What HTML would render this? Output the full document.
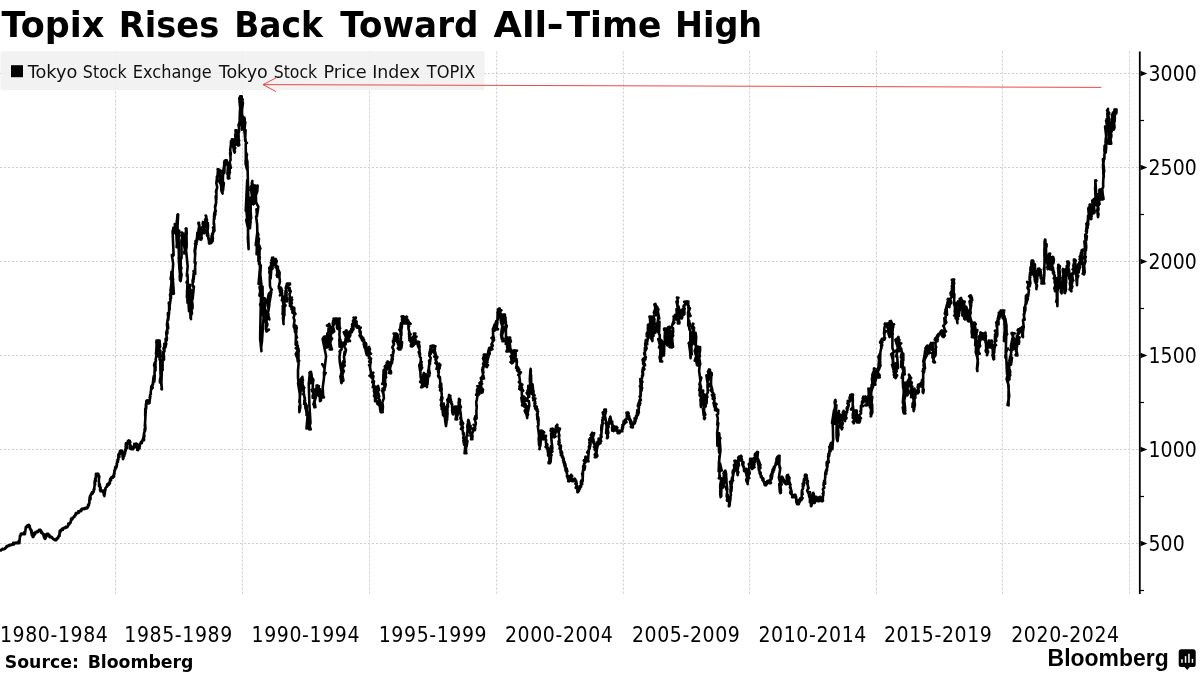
<!DOCTYPE html>
<html lang="en"><head><meta charset="utf-8"><title>Topix Rises Back Toward All-Time High</title>
<style>
html,body{margin:0;padding:0;background:#fff;}
body{width:1200px;height:675px;overflow:hidden;position:relative;font-family:"DejaVu Sans Condensed","DejaVu Sans","Liberation Sans",sans-serif;}
svg{position:absolute;left:0;top:0;display:block;}
.title{white-space:pre;font-family:"DejaVu Sans","Liberation Sans",sans-serif;font-weight:bold;font-size:35px;fill:#000;}
.legend{white-space:pre;font-family:"DejaVu Sans","Liberation Sans",sans-serif;font-size:16.8px;fill:#111;}
.ylab text{font-size:21px;fill:#000;}
.xlab text{font-size:21px;fill:#000;text-anchor:middle;letter-spacing:0.62px;}
.src{font-family:"DejaVu Sans","Liberation Sans",sans-serif;font-weight:bold;font-size:17.3px;fill:#000;word-spacing:2.8px;}
.logo{font-family:"Liberation Sans",sans-serif;font-weight:bold;font-size:23.6px;fill:#000;}
.grid line{stroke:#d0d0d0;stroke-width:1;stroke-dasharray:2.2 1.8;}
</style></head>
<body>
<svg width="1200" height="675" viewBox="0 0 1200 675">
<rect width="1200" height="675" fill="#fff"/>
<text class="title" y="36.5"><tspan x="1.50" textLength="115.09" lengthAdjust="spacingAndGlyphs">Topix </tspan><tspan x="118.81" textLength="112.12" lengthAdjust="spacingAndGlyphs">Rises </tspan><tspan x="234.28" textLength="100.03" lengthAdjust="spacingAndGlyphs">Back </tspan><tspan x="340.20" textLength="150.20" lengthAdjust="spacingAndGlyphs">Toward </tspan><tspan x="493.50" textLength="53.75" lengthAdjust="spacingAndGlyphs">All</tspan><tspan x="546.64" textLength="17.17" lengthAdjust="spacingAndGlyphs">-</tspan><tspan x="566.50" textLength="107.00" lengthAdjust="spacingAndGlyphs">Time </tspan><tspan x="675.04" textLength="87.13" lengthAdjust="spacingAndGlyphs">High</tspan></text>
<g class="grid"><line x1="115.5" y1="51.5" x2="115.5" y2="594" /><line x1="242.5" y1="51.5" x2="242.5" y2="594" /><line x1="369.5" y1="51.5" x2="369.5" y2="594" /><line x1="496.5" y1="51.5" x2="496.5" y2="594" /><line x1="623.5" y1="51.5" x2="623.5" y2="594" /><line x1="749.5" y1="51.5" x2="749.5" y2="594" /><line x1="876.5" y1="51.5" x2="876.5" y2="594" /><line x1="1002.5" y1="51.5" x2="1002.5" y2="594" /><line x1="1129.5" y1="51.5" x2="1129.5" y2="594" /><line x1="0" y1="73.5" x2="1139" y2="73.5" /><line x1="0" y1="167.5" x2="1139" y2="167.5" /><line x1="0" y1="261.5" x2="1139" y2="261.5" /><line x1="0" y1="355.5" x2="1139" y2="355.5" /><line x1="0" y1="449.5" x2="1139" y2="449.5" /><line x1="0" y1="543.5" x2="1139" y2="543.5" /></g>
<rect x="0.5" y="51.2" width="484" height="38.8" rx="1.5" fill="#f0f0f0" fill-opacity="0.86"/>
<rect x="11" y="65.2" width="12" height="12" fill="#000"/>
<text class="legend" y="77.5"><tspan x="27.70" textLength="55.29" lengthAdjust="spacingAndGlyphs">Tokyo </tspan><tspan x="82.86" textLength="48.90" lengthAdjust="spacingAndGlyphs">Stock </tspan><tspan x="132.77" textLength="84.14" lengthAdjust="spacingAndGlyphs">Exchange </tspan><tspan x="218.70" textLength="54.60" lengthAdjust="spacingAndGlyphs">Tokyo </tspan><tspan x="273.76" textLength="48.44" lengthAdjust="spacingAndGlyphs">Stock </tspan><tspan x="323.49" textLength="48.84" lengthAdjust="spacingAndGlyphs">Price </tspan><tspan x="372.23" textLength="53.35" lengthAdjust="spacingAndGlyphs">Index </tspan><tspan x="426.80" textLength="48.50" lengthAdjust="spacingAndGlyphs">TOPIX</tspan></text>
<path d="M0.00 550.40 L0.06 550.32 L0.34 550.22 L0.33 550.52 L0.18 550.35 L0.57 550.49 L0.48 550.07 L0.69 550.08 L0.84 550.00 L1.12 549.97 L0.92 550.51 L1.09 549.89 L1.14 550.14 L1.46 549.82 L1.46 549.79 L1.67 549.75 L1.59 549.72 L1.69 549.68 L1.89 549.65 L1.95 549.68 L2.08 548.94 L1.93 549.18 L2.37 549.00 L2.33 548.88 L2.15 549.48 L2.40 548.91 L2.74 549.04 L2.76 549.05 L2.87 549.54 L3.07 549.04 L2.74 549.47 L2.86 549.43 L3.03 549.40 L3.28 549.37 L3.42 549.33 L3.45 549.25 L3.49 549.26 L3.64 549.23 L3.78 549.08 L3.77 549.15 L4.00 549.00 L4.18 548.80 L4.24 549.12 L4.38 548.89 L4.47 548.81 L4.57 548.86 L4.54 548.95 L4.82 548.65 L5.04 548.59 L4.93 548.18 L4.94 548.11 L5.03 548.19 L5.13 548.73 L5.29 548.33 L5.53 547.79 L5.63 547.72 L5.37 547.94 L5.78 547.56 L5.94 547.49 L5.70 547.41 L5.98 547.45 L6.12 547.49 L6.34 547.41 L6.15 547.34 L6.42 547.23 L6.58 547.18 L6.68 546.36 L6.51 546.24 L6.99 546.95 L6.75 546.57 L6.88 546.79 L7.08 546.72 L7.19 546.64 L7.35 546.37 L7.55 546.18 L7.48 546.41 L7.62 546.33 L7.67 546.25 L7.56 545.81 L7.82 546.04 L8.00 545.90 L8.27 545.92 L8.39 546.02 L8.41 545.78 L8.14 545.66 L8.50 545.63 L8.52 545.75 L8.71 546.02 L8.77 546.02 L9.04 545.51 L9.13 545.48 L9.21 545.45 L9.00 545.42 L9.23 545.59 L9.20 545.36 L9.55 545.33 L9.52 545.30 L9.66 545.27 L9.84 545.24 L10.00 545.21 L10.18 544.68 L9.83 545.16 L10.16 545.36 L10.07 545.33 L10.28 545.30 L10.48 545.27 L10.48 545.24 L10.81 545.21 L10.67 545.10 L10.91 545.15 L11.35 544.62 L10.76 545.09 L11.42 545.06 L11.37 545.03 L11.44 545.00 L11.74 544.97 L11.64 544.58 L11.57 544.58 L11.64 544.88 L12.03 544.85 L12.00 544.70 L12.13 544.52 L12.19 544.47 L12.28 544.41 L12.48 544.63 L12.60 544.39 L12.52 544.24 L12.72 544.32 L12.78 544.33 L13.04 544.08 L13.06 543.96 L13.11 543.13 L13.06 543.60 L13.51 542.88 L13.30 542.88 L13.52 543.36 L13.60 544.07 L13.83 544.47 L13.78 543.92 L14.04 544.17 L13.97 544.46 L14.07 543.63 L14.16 543.57 L14.30 543.52 L14.45 543.46 L14.50 543.40 L14.63 543.35 L14.79 543.27 L14.80 542.94 L14.64 542.88 L15.00 543.00 L15.09 543.12 L15.44 542.88 L15.19 543.12 L15.50 542.88 L15.49 542.88 L15.36 542.88 L15.52 542.88 L15.88 543.05 L16.05 543.12 L15.86 542.88 L16.10 542.88 L16.04 542.88 L16.26 542.88 L16.49 542.88 L16.41 542.98 L16.47 542.88 L16.73 542.88 L16.77 542.88 L16.98 543.09 L16.98 542.88 L17.14 543.12 L17.15 542.88 L17.28 542.88 L17.47 542.88 L17.46 543.12 L17.75 543.04 L17.73 542.88 L17.84 543.12 L18.02 543.12 L18.00 543.00 L17.96 542.87 L18.23 542.28 L18.30 542.52 L18.29 542.47 L18.59 542.31 L18.82 542.03 L18.64 541.26 L18.89 541.17 L19.00 540.52 L18.90 542.22 L19.15 542.23 L19.12 543.12 L19.42 543.12 L19.14 541.83 L19.32 543.12 L19.77 539.05 L19.65 538.27 L19.80 537.43 L19.95 535.77 L19.87 536.39 L20.31 536.48 L20.14 536.52 L20.25 535.75 L20.48 535.92 L20.50 535.62 L20.53 535.32 L20.75 535.02 L20.81 534.72 L20.78 533.92 L21.00 534.00 L21.18 533.88 L21.30 534.12 L21.29 534.12 L21.46 533.88 L21.60 533.88 L21.84 533.92 L21.68 533.88 L21.92 534.10 L21.90 533.90 L22.12 534.06 L22.08 533.88 L22.01 533.88 L22.23 534.12 L22.24 533.88 L22.56 534.12 L22.53 534.12 L22.77 533.96 L22.84 533.88 L22.87 533.88 L22.98 533.93 L23.24 533.88 L23.31 533.99 L23.40 533.98 L23.39 534.06 L23.50 533.88 L23.45 534.12 L23.73 533.88 L23.76 534.10 L23.70 534.03 L24.00 534.00 L24.08 533.32 L24.24 532.71 L24.64 533.47 L24.42 532.71 L24.20 532.81 L24.69 533.33 L24.74 534.12 L25.04 534.12 L24.40 531.97 L25.13 532.05 L25.06 533.36 L25.11 531.36 L25.31 531.28 L25.47 530.45 L25.48 529.55 L25.67 528.37 L25.75 527.47 L25.85 526.88 L25.88 527.05 L26.00 527.00 L26.06 526.90 L26.29 526.87 L26.02 526.73 L26.57 526.82 L26.71 526.53 L26.82 526.63 L26.61 526.74 L26.82 526.37 L26.81 527.12 L26.86 526.48 L27.06 526.61 L27.30 526.09 L27.23 525.55 L27.41 525.85 L27.71 525.65 L27.77 525.66 L28.03 525.33 L27.79 525.96 L27.99 526.65 L28.01 525.70 L27.97 525.61 L28.17 525.17 L28.21 525.51 L28.39 525.12 L28.60 525.10 L28.50 525.30 L28.95 524.78 L28.87 524.96 L28.90 524.99 L29.00 524.90 L28.84 524.90 L29.27 525.21 L29.27 526.02 L29.50 526.29 L29.74 526.02 L29.44 526.59 L29.83 526.34 L29.79 527.10 L29.82 528.08 L29.96 528.84 L30.19 528.19 L30.26 528.27 L30.41 528.51 L30.51 528.58 L30.56 529.49 L30.53 529.76 L30.81 529.73 L30.74 530.09 L30.81 530.12 L31.00 530.00 L31.22 531.05 L31.12 531.28 L31.32 531.73 L31.57 530.17 L31.62 531.54 L31.27 532.73 L31.81 532.78 L31.82 533.01 L31.76 535.01 L32.13 534.03 L31.99 534.14 L32.22 534.30 L32.46 533.67 L32.43 534.74 L32.48 535.80 L32.55 536.71 L32.75 535.58 L32.84 535.84 L32.79 536.06 L33.00 537.10 L33.18 536.81 L33.07 536.72 L33.33 536.80 L33.42 536.30 L33.52 536.13 L33.70 535.96 L33.78 535.89 L33.76 535.62 L33.67 535.45 L33.86 534.63 L34.08 534.80 L34.17 535.40 L34.67 534.61 L34.47 532.52 L34.19 532.87 L34.60 533.80 L34.63 533.48 L34.48 533.41 L35.01 533.56 L35.09 532.84 L35.37 533.65 L35.31 532.42 L35.41 533.31 L35.52 532.76 L35.37 532.14 L35.51 532.80 L35.60 532.63 L35.66 532.46 L35.93 532.16 L36.00 532.00 L36.01 532.09 L36.04 531.77 L36.31 531.72 L36.30 531.76 L36.48 531.62 L36.58 531.79 L36.70 531.83 L36.83 531.82 L36.85 531.66 L37.20 531.36 L37.17 531.84 L37.36 532.12 L37.36 531.28 L37.29 531.74 L37.39 531.27 L37.60 531.55 L37.74 532.12 L38.01 531.73 L37.91 531.94 L38.06 531.71 L38.09 531.02 L38.16 530.97 L38.38 530.91 L38.65 530.82 L38.35 530.81 L38.61 530.57 L38.74 530.70 L38.71 530.65 L38.80 530.06 L39.04 529.89 L39.29 529.83 L39.22 530.06 L39.40 530.09 L39.40 529.78 L39.42 530.16 L39.46 530.23 L39.39 529.78 L39.72 529.88 L39.98 529.78 L40.00 529.90 L40.28 529.95 L40.22 530.29 L40.49 530.43 L40.44 530.53 L40.33 530.42 L40.76 530.16 L40.88 530.53 L41.04 530.69 L40.74 531.25 L41.03 532.31 L40.89 532.48 L41.12 530.97 L41.34 531.27 L41.34 531.28 L41.51 532.51 L41.52 532.57 L41.66 532.98 L41.94 532.86 L41.99 532.74 L41.91 532.95 L42.06 532.79 L42.29 532.79 L41.94 533.12 L42.17 533.43 L42.64 533.61 L42.58 533.83 L42.79 533.80 L42.94 533.61 L43.01 534.12 L43.00 534.00 L43.01 533.88 L43.25 533.99 L43.28 534.07 L43.53 534.71 L43.70 534.01 L43.37 535.22 L43.50 535.06 L43.95 535.30 L43.70 536.39 L44.03 537.35 L44.21 536.43 L44.24 536.80 L44.04 537.49 L44.40 538.04 L44.49 538.29 L44.82 538.36 L44.91 538.73 L45.05 538.79 L44.75 538.59 L45.00 538.70 L45.16 538.79 L45.01 538.50 L45.16 538.29 L45.51 537.84 L45.62 537.70 L45.39 538.56 L45.75 537.63 L45.83 536.73 L45.73 536.33 L45.92 535.44 L46.18 536.95 L46.13 536.30 L46.37 535.82 L46.25 535.25 L46.69 534.20 L46.22 534.26 L46.74 535.17 L46.96 535.88 L47.01 535.28 L46.80 533.87 L46.96 534.70 L47.25 534.48 L47.44 533.99 L47.37 534.39 L47.63 534.13 L47.60 533.90 L47.80 533.78 L47.83 534.20 L47.84 534.29 L47.93 534.38 L48.26 534.48 L48.03 534.37 L48.63 534.66 L48.50 534.75 L48.52 534.16 L48.66 534.39 L48.62 534.53 L48.72 534.61 L48.90 535.21 L48.95 534.91 L49.18 535.12 L49.44 535.02 L49.39 535.43 L49.56 535.64 L49.48 536.61 L49.54 537.12 L49.74 536.56 L49.76 536.86 L49.77 536.84 L49.82 537.12 L49.86 536.06 L50.27 536.15 L50.26 536.29 L50.30 536.60 L50.57 536.47 L50.53 536.54 L50.71 536.61 L51.05 536.70 L50.93 536.79 L51.00 537.00 L51.20 536.88 L51.08 536.99 L51.33 537.35 L51.22 536.88 L51.49 537.14 L51.56 537.51 L51.92 537.09 L51.58 537.60 L52.04 537.51 L52.05 537.50 L51.98 537.48 L51.84 537.34 L52.11 537.26 L52.35 537.83 L52.33 537.85 L52.73 538.36 L52.73 538.44 L52.96 538.51 L52.70 538.19 L52.86 538.93 L52.93 538.51 L53.13 538.59 L53.24 538.66 L53.45 538.74 L53.39 538.82 L53.51 538.89 L53.83 538.97 L53.61 539.13 L53.96 539.13 L54.06 539.21 L54.03 539.28 L53.94 539.39 L54.28 539.59 L54.34 539.51 L54.52 539.59 L54.85 539.83 L54.84 540.22 L54.78 540.10 L54.82 540.02 L55.00 540.10 L54.85 540.01 L55.06 539.95 L55.37 539.77 L55.40 540.22 L55.52 540.11 L55.52 539.57 L55.92 540.16 L55.68 539.69 L55.97 539.39 L55.87 540.22 L56.00 540.14 L56.42 539.80 L56.25 538.90 L56.33 540.22 L56.66 538.82 L56.51 539.63 L56.82 538.69 L56.57 538.93 L56.80 538.22 L56.84 538.55 L56.85 538.75 L57.30 538.68 L57.25 538.22 L57.28 538.14 L57.55 538.07 L57.67 537.88 L57.66 538.33 L57.71 537.88 L58.12 538.01 L58.00 538.00 L58.22 538.08 L57.95 537.35 L58.19 537.22 L58.43 536.81 L58.69 536.59 L58.47 536.28 L58.73 536.03 L58.95 536.07 L58.82 536.15 L58.97 535.37 L59.19 536.01 L59.10 535.43 L59.15 534.89 L59.56 536.03 L59.54 532.90 L59.64 533.32 L59.60 532.69 L59.84 530.78 L59.82 530.68 L59.99 533.56 L59.84 532.52 L60.12 532.12 L60.21 531.99 L60.40 531.72 L60.34 531.45 L60.65 531.19 L60.40 530.20 L60.81 530.59 L60.80 530.01 L61.00 530.00 L61.17 529.95 L61.12 529.81 L61.37 529.67 L61.38 529.60 L61.57 530.06 L61.78 530.12 L61.81 529.39 L61.90 529.90 L61.94 529.25 L61.95 528.97 L62.15 529.06 L62.37 528.57 L62.44 529.51 L62.46 529.71 L62.64 529.17 L62.88 529.11 L62.80 529.87 L62.69 528.79 L62.99 528.86 L63.31 528.63 L63.16 528.46 L63.18 528.28 L63.30 528.21 L63.41 527.99 L63.36 528.37 L63.68 528.30 L63.67 527.95 L63.78 528.16 L63.93 528.06 L64.00 527.90 L64.19 527.76 L64.26 527.73 L64.35 527.70 L64.39 527.67 L64.39 527.65 L64.58 527.62 L64.62 527.96 L64.90 527.60 L64.96 527.90 L65.16 528.02 L65.15 527.39 L65.31 528.02 L65.49 527.16 L65.65 527.38 L65.46 527.68 L65.57 527.03 L65.68 527.34 L65.80 527.37 L65.91 527.85 L66.18 527.38 L66.03 527.16 L66.34 527.25 L66.32 527.29 L66.39 527.01 L66.54 527.00 L66.70 526.98 L66.62 527.12 L66.70 526.98 L66.77 527.25 L67.00 527.10 L66.98 527.05 L66.86 527.13 L67.03 527.08 L67.55 526.43 L67.42 527.22 L67.52 526.82 L67.69 526.08 L67.87 525.91 L67.86 526.18 L68.10 526.09 L68.08 524.87 L68.15 524.41 L68.22 523.63 L68.25 523.92 L68.47 524.38 L68.74 524.35 L68.65 525.00 L68.72 524.80 L68.95 524.43 L68.98 524.36 L69.19 524.35 L69.03 524.02 L69.50 524.08 L69.29 523.68 L69.59 523.34 L69.47 523.67 L69.71 523.53 L69.66 523.17 L70.28 522.96 L70.00 523.00 L70.14 522.97 L70.32 522.61 L70.38 522.38 L70.61 522.73 L70.60 522.46 L70.40 522.27 L70.55 521.71 L70.81 521.54 L70.69 521.38 L71.01 520.59 L70.91 520.66 L71.07 518.79 L71.01 519.01 L71.25 518.53 L71.38 519.29 L71.50 519.01 L71.43 519.62 L71.85 518.75 L72.05 519.73 L72.11 519.12 L71.88 519.52 L71.93 519.28 L72.30 519.29 L72.61 518.78 L72.38 517.87 L72.55 518.31 L72.84 517.95 L72.73 518.46 L72.98 518.19 L73.00 518.00 L72.97 517.75 L73.02 517.67 L73.30 517.94 L73.46 517.37 L73.46 517.88 L73.77 517.12 L73.31 517.23 L73.86 516.87 L73.89 516.75 L73.87 517.09 L74.46 516.50 L73.99 516.37 L74.50 516.38 L74.50 516.69 L74.42 516.00 L74.58 515.87 L74.60 515.75 L74.86 515.62 L74.83 515.61 L74.72 515.95 L74.93 514.99 L75.22 515.35 L75.17 514.76 L75.65 515.13 L75.43 515.01 L75.89 514.81 L75.52 514.17 L75.80 514.39 L75.78 514.51 L76.05 514.38 L75.88 513.12 L76.21 513.22 L76.20 513.52 L76.15 513.88 L76.59 513.45 L76.72 513.49 L76.67 513.12 L76.76 513.04 L77.09 513.26 L77.00 513.00 L77.21 513.01 L77.13 512.94 L77.49 512.97 L77.44 512.87 L77.60 512.53 L77.46 512.47 L77.95 512.40 L77.70 513.13 L77.92 512.48 L78.16 512.31 L78.18 511.95 L78.25 511.74 L78.28 511.36 L78.24 512.23 L78.45 511.89 L78.73 511.98 L78.90 512.35 L78.69 512.93 L78.95 512.67 L79.17 512.45 L79.25 511.73 L79.41 511.67 L79.39 511.60 L79.33 511.53 L79.61 511.05 L79.68 511.08 L79.63 511.00 L79.78 511.27 L79.91 511.11 L80.00 511.00 L80.23 510.86 L80.14 511.03 L80.14 511.05 L80.20 510.59 L80.51 510.75 L80.59 510.45 L80.54 511.02 L81.00 510.86 L81.22 511.08 L80.95 510.81 L80.82 510.32 L81.35 510.33 L81.20 510.41 L81.29 509.28 L81.58 509.97 L81.67 509.28 L81.65 509.18 L81.79 508.76 L81.86 510.15 L82.13 509.27 L82.15 509.32 L82.14 509.56 L82.41 509.08 L82.53 508.88 L82.79 508.76 L82.46 509.32 L82.63 508.76 L82.67 509.18 L82.62 509.06 L83.00 508.90 L83.18 508.81 L83.28 509.04 L83.32 508.94 L83.34 509.04 L83.51 509.02 L83.80 509.04 L83.68 509.04 L83.71 509.04 L83.89 509.04 L83.76 509.00 L84.01 508.62 L84.45 508.89 L84.19 508.89 L84.59 509.04 L84.73 508.61 L84.56 508.44 L84.58 508.80 L84.61 508.72 L84.94 508.77 L85.10 508.16 L84.90 508.62 L85.27 507.96 L85.27 508.08 L85.03 508.02 L85.52 508.52 L85.60 508.36 L85.45 508.50 L85.75 508.00 L85.89 508.25 L85.86 508.44 L86.05 508.22 L86.07 508.39 L86.36 508.10 L86.72 508.35 L86.20 508.34 L86.62 508.11 L86.52 507.96 L86.96 508.28 L86.80 507.96 L87.00 508.10 L87.12 508.24 L87.40 507.35 L87.45 507.50 L87.25 507.20 L87.57 506.79 L87.84 506.84 L87.77 507.63 L87.60 506.66 L88.11 506.55 L87.94 507.07 L88.13 506.14 L87.96 504.99 L88.22 504.51 L88.64 505.50 L88.56 505.69 L88.61 505.88 L88.65 505.13 L89.02 505.05 L89.03 504.47 L89.00 504.00 L88.94 503.43 L89.51 502.91 L89.55 502.08 L89.26 500.98 L89.62 498.68 L89.59 497.61 L89.65 498.07 L90.11 495.90 L89.78 498.47 L90.12 499.19 L90.12 496.97 L90.29 499.06 L90.57 499.29 L90.56 497.96 L90.19 495.84 L90.54 495.86 L90.70 495.14 L90.94 495.18 L90.73 495.37 L91.00 494.00 L90.96 494.15 L91.33 493.69 L91.64 494.13 L91.48 493.77 L91.54 493.46 L91.82 493.85 L91.73 493.52 L91.89 492.60 L91.78 492.45 L91.98 493.05 L92.02 492.39 L91.93 493.27 L92.09 493.29 L92.31 492.03 L92.17 492.95 L92.50 493.09 L92.50 493.69 L92.63 492.83 L92.96 493.04 L92.82 492.39 L93.23 491.90 L93.57 491.90 L93.36 491.57 L93.43 491.43 L93.65 491.80 L93.60 492.00 L93.64 490.89 L93.90 490.63 L93.63 489.61 L93.66 489.37 L94.19 489.81 L94.20 489.32 L94.43 489.06 L94.30 487.60 L94.25 487.68 L94.55 486.26 L94.65 481.19 L94.74 482.89 L95.14 484.44 L95.00 484.00 L95.03 483.06 L95.07 481.54 L95.12 478.89 L95.69 480.94 L95.72 480.77 L95.57 478.96 L95.58 479.08 L95.55 478.46 L95.98 476.26 L96.01 476.59 L95.90 475.56 L95.92 473.83 L96.19 473.83 L96.40 474.00 L96.16 473.83 L96.68 473.83 L96.75 473.83 L96.82 473.83 L96.95 473.83 L97.15 473.83 L97.02 473.83 L97.41 473.88 L97.26 473.83 L97.48 475.01 L97.03 475.43 L97.63 475.31 L97.67 474.38 L97.87 473.83 L98.30 473.83 L98.27 474.60 L98.34 473.98 L97.81 475.48 L98.20 475.84 L98.40 474.00 L98.72 476.54 L98.62 477.90 L99.33 476.24 L99.02 478.57 L98.78 481.50 L98.96 481.85 L99.14 483.58 L99.01 485.88 L99.09 483.31 L99.40 484.00 L99.78 486.68 L100.05 487.92 L99.74 484.18 L100.26 489.23 L100.18 489.01 L99.96 489.65 L100.49 487.93 L100.25 486.79 L100.66 487.98 L100.25 488.08 L100.54 488.62 L100.45 491.26 L100.85 491.26 L100.92 491.26 L101.14 491.26 L101.00 491.10 L101.27 491.26 L101.30 491.26 L101.10 491.26 L101.39 491.26 L101.55 491.26 L101.58 491.26 L101.47 490.96 L101.62 490.74 L101.71 490.74 L101.60 490.74 L102.21 490.74 L102.22 490.84 L102.06 490.74 L102.30 491.03 L102.58 491.07 L102.65 491.04 L102.55 491.12 L102.61 490.74 L102.90 492.20 L103.00 490.90 L102.78 490.74 L103.19 492.48 L103.13 491.60 L103.33 491.09 L103.34 490.91 L103.56 492.26 L103.75 494.39 L103.82 493.60 L103.80 495.06 L104.05 493.64 L104.40 494.11 L104.38 493.76 L104.26 493.93 L104.40 496.10 L104.42 494.63 L104.74 494.44 L104.49 494.30 L104.31 493.08 L104.71 494.60 L105.01 491.62 L104.94 490.24 L105.08 489.23 L105.32 489.67 L105.51 489.93 L105.35 488.81 L105.60 488.00 L105.63 488.17 L105.86 487.61 L105.65 488.01 L105.83 487.66 L105.95 487.64 L106.27 487.13 L106.47 487.02 L106.70 486.90 L106.69 486.78 L106.61 486.74 L106.67 486.55 L107.03 486.43 L106.95 486.31 L106.62 486.60 L107.18 486.48 L107.06 485.29 L107.33 484.39 L107.44 484.00 L107.59 483.84 L107.66 485.51 L107.47 485.45 L107.75 485.57 L107.99 485.46 L108.33 485.00 L108.03 484.92 L108.73 484.98 L108.44 484.58 L108.54 484.78 L108.49 483.88 L108.81 484.51 L108.59 484.31 L108.63 484.24 L108.95 483.84 L109.00 484.00 L108.98 483.21 L109.36 483.15 L109.26 482.87 L109.35 482.21 L109.79 483.33 L109.17 482.81 L109.83 482.54 L109.76 483.64 L109.84 482.55 L110.22 481.20 L109.89 480.52 L110.16 479.02 L110.21 480.16 L110.47 480.09 L110.03 480.17 L110.58 478.88 L110.60 479.73 L111.16 480.05 L111.04 478.98 L111.00 477.90 L111.06 477.68 L111.26 477.80 L110.81 478.07 L111.21 477.79 L111.73 478.04 L111.57 478.07 L111.62 477.56 L112.35 477.50 L111.82 477.56 L112.00 477.47 L112.06 476.96 L112.01 476.93 L112.35 476.93 L112.48 477.42 L112.48 476.93 L112.35 476.93 L112.65 476.98 L112.81 477.36 L113.20 477.55 L113.00 477.10 L113.07 476.87 L113.02 475.51 L113.35 475.49 L113.58 476.12 L113.66 476.02 L113.83 475.19 L114.04 476.59 L113.85 476.48 L113.83 476.28 L114.17 473.89 L114.32 474.47 L114.27 472.57 L114.40 473.31 L113.97 473.60 L114.55 473.17 L114.32 470.34 L115.04 469.98 L115.00 470.54 L114.88 469.87 L115.00 470.00 L115.03 469.30 L115.18 467.97 L115.58 467.93 L115.16 467.97 L115.32 467.01 L115.63 466.79 L115.62 467.37 L115.81 466.51 L115.79 467.84 L116.05 467.16 L116.60 466.61 L115.95 468.29 L115.84 467.51 L116.49 465.79 L116.19 467.21 L116.53 467.16 L116.63 466.52 L117.04 464.55 L116.70 463.64 L117.00 463.00 L116.98 462.41 L117.32 462.01 L117.24 462.15 L117.76 461.30 L117.90 460.84 L117.45 460.79 L117.72 459.99 L117.51 459.58 L117.59 459.96 L117.92 462.03 L117.74 460.91 L118.41 459.61 L118.31 456.53 L118.49 456.89 L118.34 454.65 L118.33 454.88 L118.57 456.95 L118.72 457.76 L118.54 454.60 L119.42 456.85 L119.26 454.72 L119.27 454.32 L119.01 453.92 L119.65 453.52 L119.49 453.11 L119.59 452.51 L120.16 452.31 L119.80 451.72 L120.06 451.50 L120.00 450.90 L120.45 450.70 L120.47 450.70 L120.49 450.70 L120.26 451.20 L120.46 450.70 L120.21 450.75 L120.84 451.20 L120.46 450.74 L120.68 451.20 L120.94 452.02 L120.96 453.31 L121.14 453.40 L121.54 451.56 L121.41 450.94 L121.43 450.70 L121.72 451.77 L122.10 450.70 L121.78 450.70 L121.70 450.70 L122.00 451.00 L122.31 451.68 L122.19 452.34 L122.37 452.65 L122.97 453.77 L122.68 453.92 L122.50 455.58 L122.81 457.84 L122.97 457.61 L123.37 458.38 L123.00 459.10 L122.81 457.84 L123.21 458.07 L123.18 456.05 L123.08 456.22 L123.47 457.77 L123.61 456.77 L123.44 456.61 L123.78 455.26 L124.02 455.94 L123.65 454.56 L124.22 456.29 L123.97 452.80 L124.08 452.64 L124.28 454.02 L124.30 454.78 L124.33 455.48 L124.27 453.18 L125.01 453.73 L124.89 451.99 L125.00 452.00 L125.26 451.43 L125.30 451.98 L125.56 450.72 L125.77 450.32 L125.09 449.95 L125.83 449.58 L125.41 449.21 L125.47 448.84 L126.05 448.47 L125.71 446.88 L125.89 443.35 L126.31 443.76 L126.31 444.08 L126.64 445.17 L126.35 444.84 L126.73 448.49 L126.54 447.66 L126.89 446.53 L127.35 448.19 L127.42 446.77 L127.15 444.44 L126.95 444.07 L127.18 442.82 L127.47 442.37 L127.49 442.96 L127.69 442.59 L127.72 441.98 L127.74 441.72 L128.02 440.93 L128.00 440.90 L128.45 441.07 L128.31 440.69 L128.47 441.11 L128.77 440.69 L128.34 441.21 L128.74 440.69 L128.74 441.21 L128.78 440.69 L129.17 441.21 L129.14 442.33 L129.51 441.46 L129.29 441.59 L129.65 442.43 L129.77 440.69 L129.57 440.69 L129.60 441.00 L129.59 440.69 L130.32 442.26 L129.34 442.51 L129.97 444.43 L129.68 444.03 L130.27 444.50 L130.32 446.52 L130.33 446.97 L130.31 448.16 L130.25 448.80 L130.73 446.49 L130.99 448.32 L131.09 448.73 L131.00 449.10 L131.18 448.68 L131.12 448.13 L131.22 448.76 L131.23 448.12 L131.84 447.06 L131.92 446.54 L131.65 448.77 L131.83 449.30 L131.51 449.30 L132.09 448.09 L132.04 449.30 L132.23 448.81 L132.62 449.30 L132.55 449.30 L132.53 449.30 L132.94 448.83 L133.07 449.08 L133.10 449.30 L132.59 449.30 L132.62 449.30 L133.10 448.17 L133.26 447.80 L133.25 447.88 L133.40 448.23 L133.15 448.38 L133.51 447.87 L133.75 447.46 L133.74 448.15 L133.46 448.09 L134.00 448.00 L134.24 447.53 L133.71 447.30 L134.27 446.36 L134.29 446.64 L134.47 445.01 L134.30 445.10 L134.29 443.70 L134.79 444.81 L134.50 444.65 L135.23 444.07 L135.23 444.74 L135.08 445.49 L135.44 445.60 L135.76 445.29 L134.87 445.22 L135.60 443.90 L135.94 444.06 L136.20 444.81 L136.25 443.70 L136.08 443.78 L136.37 444.89 L136.01 444.92 L136.27 446.10 L135.87 444.72 L136.78 444.15 L136.74 443.71 L137.19 445.90 L136.65 447.57 L137.12 445.38 L136.99 445.17 L137.28 445.57 L137.25 448.16 L137.23 449.80 L137.11 448.43 L137.58 449.05 L137.60 450.10 L137.79 449.65 L138.13 450.01 L138.27 449.21 L137.92 449.40 L137.87 449.46 L138.39 448.95 L138.25 448.50 L138.65 448.17 L138.34 446.61 L138.71 447.44 L138.44 446.55 L138.86 446.18 L138.88 447.15 L139.01 445.26 L139.14 447.00 L138.96 448.35 L139.61 448.34 L139.29 447.34 L139.92 446.13 L139.62 445.88 L139.85 444.81 L139.64 444.65 L139.85 444.19 L140.00 444.00 L140.15 443.66 L139.86 443.53 L140.36 443.52 L140.43 443.26 L140.56 443.43 L140.86 443.37 L140.77 443.02 L141.20 442.73 L140.81 442.59 L141.01 442.04 L140.98 442.87 L141.43 443.16 L141.21 442.29 L141.50 441.68 L141.59 442.47 L141.61 443.10 L141.47 442.41 L141.78 443.20 L142.17 441.72 L142.26 440.25 L141.97 441.41 L142.32 441.10 L142.60 441.14 L142.41 440.87 L142.55 440.88 L142.10 440.74 L142.91 439.54 L142.83 440.48 L142.86 439.98 L143.00 440.00 L142.98 438.84 L143.47 438.53 L143.92 438.48 L143.20 437.78 L143.53 438.76 L143.99 440.21 L144.02 440.16 L143.94 433.26 L144.40 436.49 L143.62 436.16 L144.04 434.57 L143.93 434.25 L144.63 431.15 L144.64 428.74 L144.50 432.00 L145.27 430.23 L144.74 431.11 L145.44 428.40 L145.09 423.42 L144.76 426.49 L145.27 420.21 L145.43 415.23 L145.25 408.85 L145.20 416.04 L145.25 413.05 L145.60 412.00 L145.62 411.78 L145.51 416.31 L145.33 409.91 L145.75 412.72 L145.92 403.96 L146.24 408.30 L146.23 407.74 L146.40 400.90 L146.34 402.58 L146.31 400.98 L146.87 400.65 L146.97 401.07 L147.09 400.65 L147.40 403.01 L147.50 401.24 L147.14 401.12 L147.13 401.10 L147.46 400.65 L147.14 400.65 L147.78 400.65 L147.92 401.50 L148.16 401.47 L147.79 400.94 L147.96 402.44 L148.11 401.79 L148.42 403.35 L148.78 402.56 L148.94 402.82 L148.47 403.35 L148.46 403.35 L148.73 403.17 L148.87 403.35 L148.57 402.81 L149.00 403.10 L148.82 403.35 L149.56 402.84 L149.36 402.06 L149.35 400.34 L148.96 400.07 L149.78 400.92 L149.18 401.38 L149.59 400.24 L150.06 398.69 L150.00 398.00 L149.92 397.21 L149.70 397.33 L150.40 396.92 L150.08 396.10 L150.04 395.08 L150.47 394.54 L150.90 394.01 L150.63 393.47 L150.63 392.94 L151.46 386.66 L151.16 389.25 L151.85 388.14 L151.35 386.37 L151.07 389.78 L151.08 388.67 L151.91 388.50 L151.73 388.88 L151.63 387.59 L151.31 389.45 L152.74 387.59 L152.00 385.68 L152.18 384.93 L152.22 386.00 L152.20 385.47 L152.73 384.94 L152.88 383.33 L153.17 383.87 L152.82 383.34 L152.98 382.75 L153.00 382.00 L152.93 381.90 L152.93 382.27 L153.47 381.32 L153.37 380.54 L153.05 381.89 L153.37 378.44 L153.82 375.93 L154.11 376.28 L154.31 381.62 L153.99 378.88 L154.09 379.96 L154.48 378.68 L154.50 380.21 L154.71 375.79 L154.54 373.64 L154.96 362.20 L154.06 365.15 L154.52 366.70 L155.04 370.06 L154.49 372.91 L154.66 370.98 L155.61 370.44 L154.64 364.46 L155.18 366.21 L155.32 366.58 L155.60 368.00 L155.37 362.37 L155.96 361.18 L155.64 359.69 L156.80 353.27 L155.96 353.81 L156.37 350.00 L156.68 341.53 L156.35 342.39 L156.20 342.47 L156.60 342.00 L156.41 341.56 L157.15 340.59 L157.47 340.59 L157.57 340.59 L157.92 340.59 L156.50 340.59 L157.24 340.59 L157.25 340.59 L157.81 340.59 L158.28 340.59 L157.82 344.00 L157.64 340.58 L157.79 340.58 L158.00 340.90 L158.77 341.60 L159.14 342.93 L158.46 340.59 L158.50 340.77 L159.07 346.58 L158.01 351.20 L159.48 353.18 L158.87 355.95 L158.63 356.56 L159.00 357.10 L159.78 353.25 L158.36 353.92 L158.73 354.83 L159.16 340.60 L158.88 340.60 L159.58 340.60 L159.97 345.45 L160.23 346.27 L159.14 348.30 L160.00 350.90 L160.07 353.94 L160.37 350.86 L159.59 359.62 L160.28 359.83 L160.44 372.40 L160.74 377.40 L160.09 378.73 L159.86 382.46 L161.51 369.45 L161.22 375.07 L160.86 381.45 L161.43 385.70 L161.74 387.67 L161.40 389.10 L161.90 389.37 L161.34 381.34 L161.58 380.15 L161.48 380.26 L162.12 366.45 L161.85 365.33 L162.71 369.86 L162.56 369.72 L162.72 369.72 L162.40 370.00 L162.65 365.77 L162.50 360.98 L163.03 353.28 L162.25 357.41 L163.79 354.56 L163.09 351.90 L162.63 356.91 L162.69 360.83 L164.01 359.54 L163.97 356.36 L163.55 354.17 L163.67 352.32 L163.99 349.63 L163.48 348.23 L164.56 347.70 L164.27 351.51 L164.37 351.53 L164.50 350.73 L163.64 349.36 L164.40 348.00 L164.23 346.24 L164.37 348.31 L163.94 348.31 L165.25 347.60 L164.29 343.81 L165.06 345.62 L164.57 345.09 L165.42 345.78 L164.39 345.65 L165.04 344.74 L165.78 343.54 L165.53 346.95 L165.90 345.09 L166.25 343.65 L165.81 342.61 L165.57 338.79 L165.70 338.66 L167.01 338.46 L166.01 338.72 L166.40 340.00 L166.93 337.74 L166.71 340.32 L166.73 337.67 L166.18 332.77 L167.49 328.28 L166.72 334.80 L167.34 331.34 L167.39 333.53 L167.26 328.17 L167.35 325.65 L168.22 328.38 L167.77 323.54 L167.37 323.36 L166.89 325.27 L167.64 319.59 L168.00 320.00 L167.89 318.90 L168.55 318.13 L167.94 314.36 L168.85 312.35 L168.19 315.73 L167.91 312.99 L168.15 320.34 L169.07 312.82 L169.14 305.19 L168.78 302.60 L168.85 303.96 L169.76 304.64 L169.06 305.45 L169.40 304.03 L169.61 308.76 L169.60 306.00 L169.63 309.82 L169.66 305.87 L170.76 298.49 L170.10 299.07 L170.60 297.58 L170.67 296.47 L169.96 294.84 L170.93 296.32 L170.50 296.00 L170.21 296.22 L170.31 293.49 L171.04 298.09 L170.57 289.93 L172.11 278.55 L171.75 277.14 L171.34 272.05 L171.41 276.94 L170.60 279.02 L171.34 275.04 L173.15 279.32 L172.25 275.52 L171.35 280.37 L171.97 277.95 L172.00 276.00 L171.59 277.70 L171.34 284.99 L171.79 294.14 L171.93 293.99 L173.86 293.64 L172.66 276.40 L172.59 271.60 L173.18 263.93 L171.86 255.01 L173.00 256.00 L173.07 254.14 L173.62 255.19 L173.27 247.21 L172.61 231.66 L173.53 227.57 L173.60 228.00 L174.39 233.03 L173.36 232.49 L173.79 230.75 L174.68 228.49 L174.58 227.46 L173.76 227.46 L173.88 230.58 L174.25 232.64 L173.93 229.41 L174.59 227.46 L174.92 227.54 L175.09 227.46 L174.64 227.46 L175.16 227.46 L175.25 227.46 L175.35 227.46 L175.57 227.46 L175.43 225.11 L174.73 224.07 L175.60 227.90 L175.41 227.87 L176.16 229.46 L176.26 234.36 L174.91 232.45 L176.37 234.18 L176.81 236.68 L176.42 235.30 L176.79 241.61 L177.04 242.26 L176.60 247.10 L176.89 243.90 L176.52 238.25 L176.47 234.98 L177.03 230.00 L177.56 226.52 L176.63 223.46 L177.61 214.45 L177.40 214.90 L177.94 214.46 L178.16 214.46 L177.63 223.76 L177.48 233.37 L177.40 236.01 L178.00 240.00 L177.74 241.85 L177.94 239.70 L177.60 241.15 L179.15 230.44 L178.27 238.88 L177.85 238.82 L179.38 235.50 L178.55 234.60 L178.92 261.01 L179.51 270.11 L180.01 259.67 L178.61 257.87 L179.30 263.27 L179.40 260.00 L179.49 266.08 L180.03 271.50 L179.57 269.81 L179.99 275.06 L179.95 280.09 L179.71 275.86 L180.62 272.98 L180.05 271.38 L180.23 271.86 L180.52 273.54 L181.64 274.42 L180.60 281.10 L181.19 273.10 L180.00 267.12 L181.43 268.55 L180.47 264.49 L180.76 270.89 L180.78 270.35 L180.72 257.76 L181.32 258.17 L181.36 258.62 L181.60 256.00 L181.36 241.05 L182.03 237.39 L181.94 232.49 L181.75 232.48 L181.28 232.48 L181.67 232.48 L182.57 235.17 L182.40 232.90 L182.14 239.13 L182.31 242.43 L182.27 239.43 L182.38 244.53 L182.71 241.63 L182.95 243.59 L183.64 240.21 L183.00 238.58 L183.38 236.98 L183.67 233.68 L183.33 238.72 L183.60 236.00 L183.81 236.75 L183.38 238.73 L184.11 238.65 L183.38 241.22 L184.95 250.32 L184.22 251.95 L184.38 253.51 L184.40 253.10 L185.27 250.98 L185.01 243.69 L185.32 244.44 L184.33 240.86 L184.68 241.51 L183.54 242.98 L185.40 249.32 L185.38 246.52 L185.69 245.11 L185.22 240.27 L185.47 237.30 L185.60 240.00 L186.49 228.48 L185.49 234.31 L185.43 236.65 L186.51 235.43 L186.63 232.37 L185.70 228.47 L186.79 234.82 L186.40 228.90 L186.69 246.61 L186.07 250.13 L187.67 266.14 L186.80 276.00 L187.53 274.42 L187.84 283.80 L186.50 282.46 L187.58 280.22 L186.88 297.21 L187.13 294.96 L187.47 294.57 L187.60 300.00 L187.78 296.55 L187.49 302.65 L187.23 293.11 L186.99 290.88 L187.71 299.55 L189.25 296.25 L188.08 295.27 L189.81 297.20 L188.13 299.70 L188.87 303.99 L188.80 304.45 L188.58 301.43 L188.67 305.39 L189.00 311.10 L189.17 305.14 L189.03 303.13 L189.63 299.82 L190.18 297.82 L189.47 290.60 L190.37 289.88 L189.37 286.33 L189.19 293.66 L189.70 288.04 L190.00 284.90 L189.60 285.48 L190.05 293.48 L189.99 301.54 L190.45 301.06 L190.37 308.15 L191.37 304.17 L189.74 309.08 L190.36 311.46 L190.50 317.77 L191.00 319.10 L190.84 318.04 L191.44 310.29 L191.98 313.36 L191.05 315.02 L191.93 307.67 L192.47 308.57 L192.62 305.79 L191.62 296.72 L191.50 295.44 L191.61 299.75 L192.38 290.42 L192.61 294.16 L192.28 294.19 L192.40 292.00 L192.68 296.75 L192.80 298.82 L192.58 299.03 L193.92 286.65 L193.03 286.70 L192.63 285.35 L192.70 283.11 L192.58 280.44 L193.69 276.57 L193.30 281.97 L193.26 276.09 L193.60 276.00 L193.59 279.73 L193.80 278.36 L193.92 276.61 L193.42 274.04 L193.87 276.44 L194.09 273.04 L193.52 271.10 L195.23 273.93 L195.08 266.90 L195.63 262.65 L194.66 262.77 L195.06 256.03 L195.33 252.95 L195.00 254.00 L194.59 250.62 L195.22 246.73 L195.16 251.10 L195.48 245.64 L195.02 243.48 L195.87 246.51 L195.03 247.77 L195.46 248.99 L195.96 244.70 L195.88 242.47 L195.78 241.88 L195.44 241.15 L196.77 241.49 L196.40 240.00 L196.61 243.97 L196.19 241.75 L196.81 241.73 L197.22 239.05 L197.02 237.48 L196.47 240.96 L197.55 233.88 L197.65 235.67 L197.09 236.53 L197.36 232.67 L197.45 233.28 L197.64 237.83 L197.76 239.28 L197.61 234.88 L197.75 235.35 L198.00 234.00 L198.75 233.19 L198.54 234.55 L198.32 235.31 L198.64 233.30 L198.47 230.35 L198.60 228.91 L198.59 229.30 L199.20 226.40 L198.42 222.88 L199.00 222.90 L198.56 223.90 L198.92 224.18 L199.43 225.00 L199.30 224.71 L199.89 230.63 L199.98 227.82 L199.68 228.78 L200.07 229.77 L199.79 230.86 L199.96 235.57 L199.91 239.04 L200.40 239.53 L200.71 238.61 L200.19 238.02 L200.66 234.70 L200.99 239.53 L200.17 238.79 L201.21 239.53 L201.09 238.54 L201.00 239.10 L200.75 236.31 L201.60 234.00 L201.14 239.53 L201.57 238.85 L200.82 235.95 L201.85 238.14 L201.22 235.75 L202.05 233.99 L201.37 228.25 L201.73 228.87 L202.27 227.15 L202.34 230.73 L203.04 231.98 L202.35 230.65 L202.67 227.38 L202.59 230.72 L202.62 228.52 L203.35 225.81 L202.65 223.62 L203.00 221.90 L203.02 225.28 L203.78 227.52 L203.39 231.49 L202.67 229.04 L203.93 229.78 L203.84 229.89 L203.38 230.21 L204.47 228.63 L203.75 227.67 L204.31 230.85 L203.14 232.02 L204.89 230.00 L204.46 230.29 L204.40 233.10 L204.88 231.71 L204.23 229.27 L204.87 225.78 L206.18 223.31 L205.16 219.29 L205.26 220.08 L205.32 221.79 L204.29 224.05 L205.73 224.57 L205.43 223.60 L205.52 223.97 L205.34 220.15 L205.69 222.73 L205.92 219.79 L206.28 216.25 L206.00 215.90 L205.61 215.45 L205.95 215.45 L206.19 216.92 L205.96 216.27 L206.92 219.88 L207.03 219.78 L205.79 226.56 L207.26 224.78 L207.85 222.95 L207.01 225.75 L207.36 231.87 L206.92 230.52 L207.04 235.63 L207.51 235.05 L207.64 232.67 L207.60 232.00 L207.34 228.63 L207.49 227.36 L207.93 224.02 L208.03 226.72 L207.50 231.57 L208.30 235.17 L208.20 237.19 L209.10 239.11 L208.41 238.71 L208.17 237.49 L209.18 241.94 L209.13 240.05 L208.94 240.50 L209.00 243.10 L209.42 243.52 L209.08 243.52 L209.56 243.52 L209.94 243.20 L209.49 243.52 L209.81 243.52 L209.43 243.52 L209.88 243.52 L209.22 243.52 L210.35 241.83 L209.33 243.52 L209.89 243.52 L210.17 241.58 L210.92 242.68 L210.31 243.13 L211.10 241.58 L210.36 242.78 L210.86 243.15 L210.69 242.27 L211.00 242.00 L210.93 242.42 L211.71 242.42 L211.45 242.42 L211.02 239.46 L211.57 242.23 L211.44 242.42 L211.57 236.17 L211.71 239.36 L211.62 239.41 L212.42 239.19 L212.15 233.47 L211.65 240.52 L212.04 241.62 L211.64 239.74 L212.90 238.45 L211.97 239.62 L212.43 241.38 L212.74 240.85 L212.58 233.59 L213.00 234.00 L213.26 230.27 L213.64 231.99 L213.25 230.61 L213.71 230.52 L213.49 227.11 L213.00 227.70 L214.44 230.89 L214.07 223.22 L213.71 224.01 L214.00 218.00 L214.43 218.98 L214.81 213.66 L214.46 212.51 L213.95 216.91 L214.45 214.09 L215.13 210.69 L214.38 218.52 L214.58 214.19 L215.34 214.69 L215.29 212.47 L215.79 210.74 L215.30 212.26 L215.16 205.33 L215.04 207.76 L216.24 202.08 L215.60 206.00 L215.95 202.54 L216.34 198.03 L216.07 201.89 L215.67 196.35 L216.36 199.60 L216.11 199.26 L215.73 197.59 L216.40 198.00 L216.39 189.59 L215.96 192.08 L216.94 188.51 L217.29 187.43 L216.32 183.25 L217.00 178.00 L217.81 177.17 L216.75 176.93 L216.93 176.54 L217.47 181.20 L217.42 180.15 L217.65 174.69 L218.47 172.63 L217.68 169.41 L217.58 169.41 L217.96 170.05 L217.46 176.73 L218.05 170.43 L218.17 169.41 L218.24 169.41 L218.72 173.94 L218.91 170.94 L219.16 175.62 L218.79 174.01 L219.75 173.89 L219.00 174.51 L218.98 170.19 L219.58 172.48 L219.55 171.39 L219.40 169.90 L219.62 173.41 L219.87 172.21 L219.91 172.21 L219.94 172.83 L219.68 173.82 L220.10 176.07 L220.89 170.78 L219.83 173.48 L220.96 178.26 L221.23 176.11 L220.64 176.97 L220.81 179.25 L220.71 176.06 L219.67 182.57 L221.55 185.07 L221.00 184.00 L221.27 186.99 L221.26 185.73 L220.68 183.72 L221.45 188.06 L221.34 186.74 L220.96 181.06 L221.51 189.97 L222.44 181.73 L221.17 189.53 L222.20 188.74 L221.40 190.28 L221.57 191.26 L222.58 193.57 L222.40 193.10 L222.64 189.72 L223.11 190.21 L223.12 189.45 L223.86 183.08 L222.85 181.73 L222.94 176.71 L222.88 178.17 L223.18 170.19 L223.14 173.14 L224.13 173.14 L223.74 171.55 L223.60 170.00 L223.58 168.67 L224.28 165.27 L224.47 167.91 L224.41 172.71 L224.29 166.72 L224.54 160.75 L224.07 165.90 L224.37 167.79 L224.65 166.19 L224.11 162.53 L224.68 164.32 L224.72 165.09 L224.95 164.89 L225.46 165.28 L224.41 162.92 L225.34 163.84 L224.90 161.57 L225.74 163.77 L225.47 161.36 L225.60 160.90 L225.05 160.70 L225.29 160.39 L225.63 162.10 L225.34 160.39 L226.01 160.39 L225.74 160.64 L226.60 160.39 L226.58 160.39 L226.57 160.99 L226.25 160.39 L226.78 160.39 L226.69 160.67 L227.03 163.51 L227.00 162.00 L227.43 163.96 L226.78 162.08 L228.07 165.86 L227.84 168.00 L227.44 174.20 L228.25 171.10 L228.03 174.87 L228.57 170.72 L227.77 168.95 L228.00 168.91 L227.88 176.55 L227.86 178.22 L228.59 175.25 L228.40 178.10 L229.40 178.24 L228.44 178.59 L229.02 176.98 L229.02 175.06 L228.80 174.53 L229.46 174.17 L229.72 168.97 L229.40 170.04 L229.68 169.00 L229.62 172.65 L229.91 172.30 L229.14 170.12 L228.70 170.62 L229.79 164.27 L229.79 168.23 L230.00 166.00 L230.83 167.80 L229.64 161.97 L230.58 159.93 L230.37 155.57 L230.04 152.99 L230.80 154.18 L230.58 155.40 L230.72 152.98 L230.15 150.21 L231.00 144.00 L230.92 141.37 L231.17 142.86 L230.76 146.30 L232.15 143.48 L231.62 142.11 L231.73 144.67 L231.35 142.01 L232.04 144.06 L230.73 146.48 L231.93 139.37 L232.70 144.53 L232.05 144.00 L232.66 140.69 L231.98 144.26 L232.48 139.88 L232.74 140.66 L232.66 140.28 L233.17 139.37 L233.11 141.22 L233.00 139.90 L233.55 141.84 L232.97 141.18 L233.11 145.55 L233.20 142.70 L233.19 145.32 L233.42 147.73 L234.05 146.96 L233.86 145.98 L234.76 145.24 L234.05 149.48 L233.54 148.71 L234.93 151.45 L234.70 152.62 L234.40 152.10 L233.75 150.54 L234.50 148.53 L234.03 150.72 L235.27 147.94 L235.10 147.96 L234.27 147.17 L234.82 144.81 L235.68 140.05 L235.16 134.91 L235.52 137.57 L235.65 133.33 L235.80 133.61 L235.52 130.37 L236.63 130.36 L236.04 132.07 L236.00 130.90 L235.47 130.36 L236.52 130.36 L236.05 131.91 L236.70 130.37 L236.09 135.78 L236.41 134.09 L236.07 141.07 L236.04 141.22 L237.56 138.49 L236.29 138.45 L236.90 136.06 L237.09 144.82 L237.10 142.89 L237.58 143.82 L237.48 144.50 L237.60 145.10 L237.95 145.31 L237.64 143.30 L237.46 143.83 L237.77 136.01 L239.15 140.36 L238.29 145.63 L238.60 143.91 L239.29 145.14 L238.41 141.34 L238.58 138.71 L238.63 136.74 L238.47 132.41 L238.18 131.67 L239.00 132.00 L239.19 123.56 L238.96 127.89 L238.51 124.64 L239.09 126.13 L240.31 124.53 L240.07 124.30 L240.22 118.54 L239.26 123.11 L240.25 120.21 L240.00 110.00 L239.63 119.26 L240.06 124.68 L240.21 108.56 L239.25 97.97 L240.61 96.33 L240.19 98.13 L240.19 96.33 L240.76 103.23 L240.96 106.84 L241.00 96.90 L241.55 101.11 L241.08 106.09 L241.21 103.60 L241.52 101.47 L241.49 107.58 L242.64 99.23 L241.62 99.29 L241.71 96.34 L241.50 99.13 L242.00 110.00 L242.97 102.57 L241.97 108.15 L242.06 110.99 L241.99 115.96 L242.50 115.48 L242.57 117.04 L241.97 129.65 L242.82 128.38 L242.97 125.31 L243.00 129.10 L242.46 124.62 L243.13 127.58 L243.76 125.66 L243.20 127.15 L243.88 129.64 L243.68 125.68 L244.07 125.08 L244.37 117.52 L243.53 120.30 L244.03 124.51 L244.21 118.35 L244.38 118.35 L244.03 118.35 L244.40 118.90 L244.80 121.65 L244.61 118.35 L244.70 127.88 L244.25 130.53 L245.32 122.35 L244.81 125.09 L244.43 130.94 L245.40 140.89 L245.43 138.52 L245.16 140.88 L245.07 134.39 L245.60 130.00 L245.21 138.29 L246.23 143.50 L246.97 142.80 L245.74 143.55 L245.82 163.06 L245.55 160.69 L247.03 154.61 L246.40 156.00 L245.56 163.51 L247.08 169.70 L246.28 152.84 L246.67 158.69 L247.41 161.68 L248.43 199.43 L247.13 181.81 L247.20 180.00 L245.74 210.77 L247.82 212.63 L246.01 210.52 L247.60 200.00 L247.32 207.66 L248.78 214.02 L246.21 220.19 L248.00 228.00 L245.95 205.93 L248.20 214.61 L249.07 214.63 L247.94 229.97 L248.48 242.98 L248.60 249.10 L247.84 238.25 L248.22 227.18 L250.62 210.50 L247.97 212.64 L249.30 223.52 L250.64 222.57 L248.04 226.49 L249.99 228.24 L250.67 219.20 L249.60 220.00 L251.18 218.08 L250.14 206.96 L249.88 211.41 L248.00 209.88 L249.49 208.42 L250.18 198.40 L250.10 202.89 L250.64 203.22 L250.64 214.15 L250.55 208.92 L250.76 208.41 L250.39 205.19 L251.49 202.81 L251.00 198.00 L250.09 202.41 L251.98 203.71 L252.85 199.33 L250.28 198.08 L252.01 196.66 L250.76 187.10 L251.91 184.73 L252.96 191.41 L252.54 185.71 L252.49 185.95 L250.71 189.84 L252.13 184.05 L251.78 183.19 L252.40 180.90 L252.01 183.96 L251.87 187.58 L252.46 183.34 L252.32 186.96 L253.35 189.49 L253.89 194.84 L253.40 193.35 L253.55 191.34 L252.86 194.37 L253.47 203.04 L253.36 204.37 L253.60 204.10 L254.17 203.32 L253.92 203.77 L252.77 198.81 L254.04 204.01 L253.74 196.22 L254.43 195.84 L254.36 191.99 L254.40 186.00 L254.31 189.41 L254.15 185.52 L254.39 185.52 L253.85 185.52 L255.25 185.52 L255.43 185.52 L255.90 186.99 L255.31 185.52 L254.49 185.52 L254.82 185.52 L255.56 188.38 L255.82 190.71 L256.19 190.85 L253.89 191.77 L255.03 186.05 L256.00 186.00 L256.64 190.90 L257.63 185.53 L257.27 191.54 L255.88 195.19 L256.08 202.12 L257.07 204.51 L258.34 206.60 L257.11 215.15 L256.44 209.26 L257.00 216.00 L256.11 216.50 L257.17 224.66 L257.31 232.31 L255.71 245.23 L258.38 234.72 L257.42 231.97 L256.58 254.22 L259.02 238.45 L258.50 242.74 L258.00 246.00 L258.96 251.54 L257.69 246.31 L257.14 249.56 L260.39 248.48 L258.47 244.14 L258.53 243.34 L258.41 261.12 L259.60 246.14 L259.54 252.64 L259.00 264.00 L259.78 257.06 L258.89 259.16 L258.35 260.53 L259.89 264.34 L259.62 262.00 L260.48 277.30 L259.45 275.52 L260.82 265.26 L260.18 276.90 L260.00 280.00 L260.41 276.77 L258.57 283.96 L259.93 268.37 L260.48 285.63 L260.47 275.84 L261.49 285.32 L259.38 295.48 L261.53 296.52 L262.80 294.45 L261.00 294.00 L260.36 325.38 L260.17 335.61 L260.16 338.79 L261.40 351.10 L261.18 347.03 L261.94 341.66 L263.62 316.94 L260.09 304.50 L261.90 300.00 L259.52 286.92 L261.64 286.54 L260.72 286.53 L262.44 286.53 L262.40 286.90 L261.54 289.11 L262.56 286.79 L262.56 296.54 L262.35 297.54 L261.15 304.52 L264.21 308.14 L263.39 312.94 L261.86 305.45 L264.07 309.72 L263.08 304.76 L264.10 306.37 L263.60 307.10 L262.90 306.89 L262.86 303.55 L264.77 304.16 L264.78 306.97 L265.21 306.58 L265.48 300.60 L264.41 298.08 L263.86 298.54 L264.69 298.54 L264.99 298.69 L264.14 300.80 L266.21 302.16 L263.76 298.54 L265.00 298.90 L264.38 303.37 L265.17 310.16 L265.72 310.32 L265.68 315.18 L265.25 313.22 L265.35 313.30 L264.69 313.56 L267.31 319.00 L265.37 319.27 L266.00 318.00 L265.60 321.11 L267.00 326.30 L267.40 323.80 L266.26 323.17 L265.91 329.17 L266.43 331.43 L268.93 329.59 L266.68 330.86 L267.05 329.71 L267.00 331.10 L266.06 329.16 L266.71 325.22 L266.91 323.47 L266.55 322.17 L266.62 318.57 L268.37 313.52 L268.38 316.84 L268.70 317.53 L269.38 319.42 L268.00 314.00 L267.44 311.80 L268.27 311.63 L269.16 305.93 L269.43 301.36 L268.58 294.39 L267.69 299.68 L268.46 308.73 L268.38 308.60 L268.12 302.86 L268.56 307.11 L269.37 304.95 L269.27 293.06 L271.32 292.03 L269.61 302.02 L269.11 301.21 L269.60 300.00 L269.02 295.43 L269.75 297.66 L268.65 295.23 L271.79 289.57 L270.85 288.82 L269.99 286.13 L269.76 277.09 L270.40 272.00 L270.18 278.68 L270.37 276.00 L269.27 272.11 L271.15 264.59 L272.46 268.43 L271.31 268.04 L271.40 268.06 L270.65 278.44 L270.44 277.59 L269.25 267.67 L272.56 268.63 L272.24 263.39 L270.92 262.83 L272.84 264.52 L272.21 263.66 L272.00 257.90 L272.71 259.32 L271.43 260.34 L274.17 260.69 L271.72 261.89 L272.29 260.38 L273.16 259.30 L272.97 259.22 L272.43 259.23 L272.30 258.70 L272.79 258.54 L273.24 257.50 L273.39 260.13 L272.72 261.20 L273.41 262.68 L274.39 264.96 L274.01 263.15 L274.14 261.49 L274.39 262.28 L273.66 265.21 L274.00 265.10 L272.64 264.51 L273.64 263.96 L274.68 263.13 L276.22 261.30 L273.24 262.99 L275.99 261.42 L273.97 264.87 L274.43 261.49 L274.72 261.33 L273.62 265.49 L276.06 261.00 L275.48 262.04 L275.07 261.06 L274.01 262.38 L275.97 260.37 L275.60 258.90 L276.77 261.40 L275.57 262.60 L276.46 262.23 L275.26 263.32 L276.09 263.18 L275.84 265.01 L277.93 268.06 L275.63 267.38 L276.69 266.80 L276.47 266.66 L276.76 268.30 L277.91 266.54 L276.88 268.56 L277.00 270.00 L276.92 270.66 L277.37 270.69 L277.77 274.47 L277.95 275.19 L276.67 275.29 L277.28 276.39 L276.85 274.41 L277.68 272.04 L277.55 276.39 L277.35 276.87 L277.28 270.99 L277.65 269.61 L278.16 269.61 L279.64 272.62 L279.36 277.33 L278.63 276.25 L279.27 272.11 L277.82 270.26 L279.09 272.49 L279.00 276.00 L277.46 275.62 L278.99 275.62 L279.82 279.72 L279.92 281.62 L278.68 286.69 L279.13 286.52 L278.88 288.38 L279.18 288.37 L280.76 288.37 L280.00 288.00 L279.33 287.36 L279.97 291.53 L280.16 292.37 L281.27 292.37 L280.48 292.37 L280.90 292.37 L280.22 292.37 L281.52 292.37 L280.63 292.37 L280.96 291.43 L280.56 290.36 L280.82 290.57 L281.59 289.61 L282.05 290.31 L280.26 289.24 L280.91 287.63 L281.46 288.75 L282.20 294.57 L279.87 295.36 L282.00 292.00 L282.59 298.33 L282.24 298.70 L282.20 298.35 L283.22 303.14 L283.64 305.37 L282.89 297.09 L281.81 300.31 L283.16 297.84 L283.45 306.30 L283.12 306.31 L282.78 305.83 L282.78 312.08 L282.49 314.13 L283.85 316.28 L283.35 321.84 L283.60 324.10 L282.97 317.91 L283.80 312.44 L283.86 309.57 L284.17 307.18 L283.63 312.17 L284.08 312.75 L284.40 315.24 L284.40 308.00 L284.39 306.83 L285.56 305.63 L285.36 304.98 L284.41 304.87 L284.69 299.65 L285.43 298.56 L285.50 291.08 L286.30 297.90 L284.00 299.03 L284.79 296.84 L287.19 297.86 L285.60 300.00 L284.80 296.69 L286.68 292.59 L285.80 293.33 L285.95 291.33 L286.40 298.21 L286.12 295.20 L286.94 301.42 L286.24 298.37 L286.52 294.84 L286.60 295.53 L286.24 295.57 L286.49 290.24 L285.71 288.25 L287.00 284.00 L287.44 283.52 L286.81 283.75 L288.18 283.52 L287.00 283.52 L287.24 284.02 L287.21 283.52 L287.65 284.38 L287.69 284.38 L288.60 284.38 L288.81 284.38 L290.08 284.38 L288.40 283.52 L287.57 283.52 L289.21 283.52 L289.55 284.08 L287.60 283.52 L288.30 283.52 L289.94 283.63 L288.71 284.93 L289.00 283.90 L287.49 287.55 L289.73 288.10 L289.30 289.19 L289.21 290.80 L289.98 289.90 L290.70 291.37 L289.54 294.26 L289.42 293.94 L289.61 294.19 L290.32 302.73 L289.85 305.93 L290.93 305.82 L289.78 303.24 L290.40 298.00 L289.67 302.08 L292.18 299.84 L289.74 303.52 L290.83 300.15 L291.87 297.49 L289.36 299.44 L290.59 301.21 L290.46 300.09 L291.23 299.66 L291.64 303.42 L291.90 303.20 L290.97 304.59 L291.68 306.86 L292.20 306.60 L290.51 305.74 L292.00 309.10 L291.47 308.93 L291.59 309.45 L292.58 308.94 L292.45 312.70 L292.56 310.03 L292.97 310.74 L293.50 311.69 L292.54 309.68 L293.11 309.53 L292.83 307.55 L292.67 309.91 L292.95 312.94 L294.13 310.88 L293.13 310.83 L293.26 310.45 L293.60 307.90 L294.25 307.74 L294.26 311.94 L295.52 314.01 L294.47 313.39 L294.71 314.29 L294.45 314.21 L293.60 312.64 L294.40 315.00 L293.55 317.66 L294.50 320.30 L293.68 326.48 L295.68 331.52 L296.27 331.97 L295.00 332.00 L295.34 330.84 L296.83 327.99 L294.82 331.10 L296.50 326.57 L295.36 325.28 L294.76 328.27 L296.40 330.44 L295.77 334.33 L296.32 325.99 L295.95 335.07 L296.42 329.36 L295.77 338.18 L296.98 337.67 L295.70 333.75 L295.98 335.91 L295.65 344.69 L297.03 342.04 L296.49 341.32 L297.01 341.91 L297.00 346.00 L297.78 345.69 L296.92 346.78 L297.83 346.95 L295.75 348.18 L298.81 350.33 L297.73 357.06 L298.64 361.56 L295.69 353.99 L298.49 348.75 L298.48 360.56 L297.68 361.29 L297.98 359.69 L299.17 360.80 L297.54 359.80 L298.50 362.45 L298.60 364.00 L297.99 370.25 L298.01 378.05 L298.71 383.20 L298.05 383.16 L299.77 393.77 L299.94 404.82 L299.25 407.15 L299.40 412.10 L300.27 407.50 L300.07 408.42 L300.30 406.24 L300.03 403.81 L299.35 401.71 L300.75 390.10 L299.94 389.10 L300.27 390.24 L300.76 387.98 L300.82 380.21 L300.39 388.95 L300.21 390.79 L301.10 384.35 L300.72 384.30 L300.49 383.70 L301.00 380.00 L300.16 381.02 L301.24 378.28 L302.58 382.75 L300.99 387.69 L301.05 378.83 L303.07 380.28 L301.57 378.56 L300.77 380.28 L301.50 379.64 L302.50 377.92 L302.26 379.99 L302.67 379.96 L302.64 380.19 L302.40 376.90 L301.35 378.87 L301.93 383.22 L302.75 382.58 L301.72 382.47 L303.97 387.85 L302.23 388.45 L302.83 389.25 L302.49 389.00 L302.89 390.48 L304.25 387.66 L303.45 390.19 L303.86 391.26 L303.69 393.99 L303.05 394.26 L303.96 394.26 L304.00 394.00 L304.71 399.15 L304.27 402.10 L304.35 401.56 L304.32 403.23 L304.86 397.89 L304.62 401.76 L304.30 400.70 L305.10 400.25 L304.49 401.75 L304.65 401.72 L305.04 404.80 L305.19 403.16 L304.55 401.90 L304.08 403.90 L305.00 402.13 L306.82 406.03 L305.35 406.25 L305.78 406.25 L306.13 405.78 L306.00 406.00 L306.63 406.56 L306.78 407.11 L305.22 406.20 L305.90 406.03 L305.31 407.97 L306.62 408.91 L305.78 409.13 L306.70 409.28 L305.80 407.88 L306.58 413.37 L307.59 413.40 L307.95 412.94 L306.44 414.90 L307.72 412.32 L307.59 414.56 L307.55 413.84 L308.05 417.15 L307.40 417.68 L307.63 416.76 L308.00 420.00 L306.63 408.76 L307.51 416.67 L306.48 428.54 L307.15 427.27 L308.82 426.21 L308.06 415.74 L308.00 426.48 L308.20 419.62 L309.04 427.40 L308.19 428.02 L310.73 429.32 L309.06 423.93 L309.91 426.35 L309.40 429.10 L309.08 429.33 L309.03 427.93 L310.49 422.91 L309.44 405.50 L308.76 383.64 L310.00 372.00 L310.24 377.92 L310.56 383.16 L310.23 377.96 L309.45 379.27 L310.94 379.69 L311.23 373.42 L310.41 375.59 L309.38 372.85 L310.85 378.87 L311.00 371.90 L311.33 376.62 L311.37 373.36 L311.76 376.37 L310.52 380.96 L311.11 382.74 L312.23 378.52 L310.76 382.55 L312.65 383.16 L311.65 380.76 L311.90 381.30 L312.15 377.92 L311.74 377.22 L313.36 379.68 L312.80 384.82 L312.81 392.27 L313.33 391.99 L312.18 391.09 L313.87 389.22 L311.73 389.70 L313.00 392.00 L312.99 392.02 L313.19 393.52 L313.28 394.15 L312.71 395.56 L312.68 397.74 L314.11 397.37 L313.81 394.15 L313.10 396.00 L312.90 397.64 L313.35 397.46 L315.01 398.91 L313.78 403.11 L314.64 403.53 L314.60 406.31 L314.00 405.46 L314.40 407.35 L314.84 403.18 L314.72 405.03 L314.90 403.92 L313.32 404.21 L313.89 404.79 L315.28 406.77 L314.84 405.49 L315.40 407.10 L314.97 404.25 L314.30 402.90 L315.76 397.05 L315.08 398.66 L315.50 395.14 L315.83 397.33 L316.60 391.11 L315.14 390.70 L317.02 395.21 L316.06 392.82 L315.18 390.84 L316.70 388.53 L315.95 389.95 L316.82 386.32 L317.58 385.63 L317.00 386.00 L317.56 387.03 L317.15 386.55 L317.42 385.63 L316.52 385.63 L317.12 385.63 L317.16 386.27 L317.02 386.27 L317.37 386.06 L317.41 385.63 L317.82 388.66 L318.17 388.55 L318.57 387.88 L318.90 386.16 L318.40 385.90 L318.18 385.82 L318.54 388.78 L318.98 389.47 L318.66 393.76 L319.01 392.16 L319.99 394.74 L318.21 391.55 L318.79 390.28 L320.01 389.52 L318.71 392.56 L320.04 389.31 L318.94 392.16 L320.34 397.23 L319.84 398.84 L319.93 398.76 L320.00 401.10 L320.53 398.85 L321.16 398.56 L319.71 396.41 L318.95 395.68 L320.81 398.58 L320.39 399.76 L320.98 400.44 L320.63 396.85 L321.34 395.02 L321.86 395.07 L321.12 394.21 L321.24 396.74 L321.82 396.34 L319.99 393.88 L321.13 395.94 L320.57 393.92 L320.66 394.34 L321.05 395.12 L322.01 395.08 L322.00 393.90 L321.45 393.91 L321.18 392.58 L322.50 390.78 L322.43 394.29 L322.80 395.19 L322.50 392.44 L322.61 393.65 L323.18 395.92 L323.52 397.36 L323.00 397.10 L322.70 397.36 L324.01 397.36 L322.55 397.36 L323.14 396.43 L322.72 387.55 L324.07 377.16 L323.91 372.24 L324.45 375.25 L325.72 372.85 L324.00 376.00 L324.60 368.33 L322.18 364.20 L324.57 368.14 L324.68 367.57 L326.11 356.18 L322.63 338.92 L324.34 336.60 L324.69 336.60 L323.50 337.41 L326.03 341.69 L326.09 347.82 L325.11 336.59 L326.10 336.59 L325.98 336.59 L325.68 336.58 L325.60 336.90 L324.24 336.58 L327.24 336.58 L325.57 336.58 L325.32 340.64 L326.92 343.67 L325.69 339.98 L325.38 344.07 L326.40 346.85 L326.64 345.26 L326.19 344.36 L327.56 343.29 L325.97 345.20 L326.75 347.41 L327.00 347.10 L326.96 346.04 L327.62 347.24 L326.87 347.41 L326.19 347.41 L326.67 344.03 L327.49 343.38 L328.57 340.65 L327.38 338.80 L327.96 337.25 L328.35 335.35 L327.27 333.30 L327.15 335.28 L329.13 331.92 L328.43 331.72 L328.32 333.55 L328.55 328.08 L329.67 328.24 L328.54 324.77 L329.65 325.63 L329.00 323.90 L329.40 324.16 L329.22 325.86 L326.94 325.67 L330.20 326.05 L330.76 333.66 L330.42 335.55 L329.34 336.02 L328.92 341.22 L328.71 345.74 L330.42 347.59 L330.97 345.48 L329.89 347.39 L330.03 345.33 L330.40 349.10 L331.68 349.36 L331.36 347.47 L329.75 349.41 L330.84 346.13 L330.33 349.41 L331.99 349.32 L330.83 345.86 L330.22 341.96 L330.55 341.70 L330.97 340.39 L332.06 338.50 L331.03 339.24 L330.77 335.19 L331.72 332.61 L333.19 332.46 L332.00 330.00 L332.92 330.39 L334.20 331.43 L333.70 329.06 L331.94 329.69 L332.23 329.21 L331.98 328.40 L333.20 327.58 L332.46 326.74 L332.97 326.37 L333.30 325.37 L333.22 323.90 L333.31 322.52 L334.82 322.37 L332.75 322.47 L332.90 324.05 L333.67 323.43 L332.80 324.50 L333.30 325.61 L334.53 323.15 L334.20 322.99 L333.92 322.38 L333.34 320.66 L333.87 321.90 L335.11 321.54 L333.78 320.56 L333.15 320.80 L335.26 319.92 L333.56 318.66 L335.55 319.70 L335.00 319.00 L335.54 318.90 L334.83 319.34 L335.44 318.66 L335.23 318.66 L335.56 318.66 L334.17 319.34 L334.87 319.18 L335.08 318.91 L336.38 319.34 L335.90 321.76 L336.23 321.27 L335.98 323.18 L336.24 321.11 L335.82 321.02 L336.30 321.40 L336.57 318.66 L337.24 318.66 L337.45 318.82 L336.16 319.95 L337.00 319.00 L337.37 321.65 L335.91 320.97 L338.23 323.61 L336.86 324.02 L336.97 326.16 L336.90 327.19 L337.16 328.26 L337.22 327.36 L337.53 328.90 L338.00 329.10 L338.90 328.88 L338.64 329.43 L338.02 328.52 L338.02 328.66 L337.58 328.24 L338.76 328.12 L337.61 318.86 L339.84 318.67 L339.29 318.67 L339.55 326.39 L339.41 326.57 L339.20 327.17 L340.18 328.30 L339.40 326.90 L339.60 331.13 L339.39 334.95 L339.72 337.40 L339.34 339.73 L339.61 346.77 L340.40 339.58 L340.51 341.38 L341.81 342.48 L341.77 345.77 L341.58 349.31 L339.49 351.63 L340.60 350.00 L339.73 351.23 L340.25 351.79 L339.46 356.71 L339.80 362.12 L341.83 374.37 L341.13 373.24 L340.83 379.07 L341.40 383.10 L341.15 379.46 L341.92 382.39 L341.00 379.77 L340.31 376.24 L342.21 380.71 L342.52 378.57 L341.83 375.34 L342.25 378.65 L343.43 380.63 L342.55 375.69 L342.35 374.88 L343.86 371.04 L341.63 367.76 L343.80 366.49 L342.06 366.36 L343.00 366.00 L342.75 364.55 L343.31 367.83 L343.23 361.22 L342.66 363.06 L343.00 362.76 L343.33 363.10 L344.79 365.54 L343.29 364.32 L342.44 363.35 L344.73 362.19 L343.23 361.34 L343.98 364.61 L344.45 361.20 L344.20 358.62 L344.10 357.90 L344.08 356.68 L343.94 357.30 L344.55 351.79 L344.82 354.99 L345.00 354.00 L346.01 349.83 L344.06 346.04 L344.78 342.17 L344.96 341.77 L345.62 344.37 L345.52 338.66 L346.57 338.34 L343.78 343.50 L345.28 340.85 L346.11 337.39 L343.72 332.29 L346.15 331.41 L345.90 330.58 L346.40 330.90 L346.08 330.57 L347.14 334.47 L346.10 333.65 L345.67 332.99 L347.21 332.91 L346.65 330.58 L346.64 335.62 L346.70 337.47 L346.12 336.42 L348.01 336.42 L347.07 338.08 L348.50 338.16 L347.19 339.87 L347.27 341.17 L346.75 339.67 L348.00 341.10 L347.76 341.42 L348.87 338.33 L348.81 337.69 L348.49 336.80 L348.62 340.00 L348.55 337.41 L348.83 338.31 L348.32 338.09 L349.56 340.48 L349.96 341.06 L347.62 337.66 L349.93 336.56 L349.10 336.42 L348.81 335.32 L350.48 335.04 L349.66 335.82 L349.84 332.30 L349.15 334.27 L350.33 332.83 L350.00 332.00 L350.27 332.24 L350.25 332.32 L349.85 331.52 L350.00 332.33 L350.86 331.34 L351.00 332.33 L349.91 332.33 L349.60 331.49 L351.40 331.84 L350.53 332.33 L352.11 331.78 L351.72 332.33 L351.98 331.73 L351.17 331.10 L352.03 329.82 L351.03 329.67 L352.49 330.58 L351.09 329.67 L352.00 330.16 L352.00 330.00 L351.83 329.27 L351.25 328.87 L353.26 329.14 L352.83 328.06 L352.67 327.65 L353.02 327.25 L352.50 326.85 L351.99 326.44 L352.37 326.04 L353.54 326.94 L352.93 328.91 L353.51 324.70 L353.45 329.38 L352.01 324.49 L353.72 322.13 L352.99 320.38 L353.28 322.58 L353.44 320.25 L354.55 324.97 L353.75 325.85 L354.76 321.87 L354.18 321.46 L354.68 321.06 L354.53 320.08 L353.96 320.25 L354.80 319.85 L353.55 317.64 L353.74 317.56 L354.57 318.64 L355.00 317.90 L355.83 317.97 L355.89 317.56 L355.45 317.84 L355.29 320.11 L354.58 321.93 L356.63 321.63 L355.21 325.27 L355.13 324.27 L355.15 324.21 L356.37 321.92 L356.59 323.24 L356.53 322.07 L356.34 325.44 L357.34 326.33 L356.63 326.33 L356.90 324.31 L356.46 326.33 L356.17 326.33 L357.58 326.33 L357.00 326.00 L357.37 325.67 L357.91 326.48 L357.08 326.56 L357.74 326.25 L356.40 325.67 L357.05 326.75 L356.62 327.47 L357.66 326.47 L358.23 326.54 L357.88 326.09 L358.64 326.47 L357.50 327.72 L357.91 326.12 L358.13 326.47 L358.80 327.24 L357.79 327.42 L359.50 328.33 L357.64 327.16 L358.57 327.37 L358.98 326.39 L359.30 327.29 L359.18 327.36 L359.54 330.36 L359.81 328.33 L359.79 327.59 L359.60 328.00 L360.74 327.67 L359.62 328.66 L359.51 331.60 L360.21 333.09 L360.41 336.06 L360.02 335.00 L359.53 335.63 L359.85 334.80 L360.93 335.78 L360.17 335.17 L360.75 333.66 L360.51 331.32 L360.69 337.56 L361.00 338.00 L361.78 337.54 L361.17 336.88 L361.15 337.58 L361.59 336.12 L361.70 338.70 L360.75 337.01 L361.76 338.14 L361.59 337.68 L362.27 337.68 L361.77 337.68 L363.18 337.68 L362.73 337.68 L362.37 338.40 L362.89 338.36 L362.99 338.77 L362.07 340.32 L362.88 340.32 L363.69 340.32 L362.69 339.52 L362.58 340.30 L363.67 340.32 L361.83 339.38 L364.06 340.32 L363.92 340.32 L364.05 339.61 L363.60 340.00 L363.18 340.65 L362.79 340.98 L363.50 341.32 L363.86 343.11 L363.70 344.37 L365.42 344.67 L364.28 346.96 L364.10 343.03 L364.45 341.64 L363.95 343.35 L365.22 344.74 L365.92 345.48 L365.67 345.37 L365.11 345.25 L365.04 347.56 L364.82 348.31 L364.93 345.07 L365.34 346.12 L365.98 343.34 L366.28 344.83 L366.11 346.69 L365.77 347.02 L365.74 347.36 L366.00 348.00 L366.49 347.69 L365.86 347.69 L367.44 350.41 L364.90 348.11 L365.77 347.69 L366.47 347.70 L365.49 349.96 L366.11 352.01 L365.95 352.17 L366.59 354.38 L367.43 355.40 L367.96 354.11 L366.97 354.91 L366.91 353.38 L368.53 354.17 L367.60 355.10 L367.64 351.74 L367.26 352.28 L368.26 353.95 L368.15 353.49 L368.19 351.79 L367.67 351.35 L368.76 352.43 L368.97 350.72 L369.14 349.74 L369.75 349.44 L368.89 347.26 L367.76 348.20 L369.42 348.26 L369.00 346.90 L370.00 349.42 L368.98 350.84 L370.29 353.20 L370.99 353.74 L370.17 353.47 L368.83 353.49 L369.78 358.61 L369.18 357.74 L370.70 359.64 L368.88 358.10 L371.10 358.51 L369.16 361.64 L370.80 361.23 L370.40 364.00 L369.08 365.18 L370.22 365.95 L369.80 366.31 L371.27 374.15 L371.74 372.83 L371.53 377.73 L371.20 376.13 L369.47 375.82 L370.83 376.82 L370.83 374.43 L372.07 374.87 L371.60 374.00 L371.23 376.24 L371.63 373.35 L371.45 374.91 L372.46 374.68 L372.23 373.76 L373.31 372.70 L370.71 374.45 L373.52 376.15 L372.88 376.84 L371.88 376.93 L373.16 376.76 L373.33 377.26 L372.73 379.54 L373.00 380.00 L372.27 382.38 L373.45 381.08 L374.01 381.26 L373.67 383.81 L373.60 383.63 L372.72 387.32 L374.47 385.88 L374.51 386.43 L373.90 391.30 L374.27 392.48 L375.03 395.07 L374.91 394.94 L374.12 395.10 L374.61 396.09 L373.93 396.10 L374.45 395.46 L375.34 394.88 L375.02 398.02 L375.46 398.60 L375.00 401.10 L376.56 401.35 L375.00 399.90 L375.26 397.46 L375.27 397.33 L375.89 396.08 L376.22 398.86 L376.06 398.39 L375.71 398.65 L375.42 393.63 L376.16 395.71 L376.97 394.93 L377.07 394.35 L376.56 390.66 L376.40 390.00 L376.05 389.31 L377.68 389.07 L376.76 387.86 L376.50 389.75 L376.67 392.63 L377.78 390.35 L376.67 390.09 L376.89 388.67 L377.06 386.87 L375.70 388.68 L377.50 388.15 L377.69 387.58 L377.70 386.12 L378.59 388.39 L378.52 387.55 L378.00 385.90 L379.12 390.26 L378.50 388.70 L377.49 391.40 L378.68 394.03 L377.65 393.53 L377.48 394.97 L379.30 396.34 L378.69 397.48 L378.26 398.05 L379.82 399.99 L377.46 404.11 L377.29 401.33 L379.30 405.60 L379.26 404.62 L380.04 406.27 L379.60 402.00 L380.17 405.37 L380.27 404.59 L379.89 405.94 L379.72 400.96 L379.92 403.68 L379.85 405.18 L380.58 405.93 L379.93 407.44 L380.73 405.43 L380.51 407.34 L380.40 407.61 L379.98 408.72 L380.41 410.36 L381.00 412.00 L380.71 412.24 L380.24 409.66 L381.02 407.33 L381.31 407.74 L380.91 412.12 L382.02 412.24 L382.16 412.24 L381.31 412.24 L381.76 410.63 L382.70 412.24 L381.09 411.03 L382.33 410.99 L381.15 411.74 L382.40 412.00 L382.93 407.44 L382.73 404.52 L382.22 402.94 L383.03 400.31 L383.93 398.23 L383.00 390.00 L383.24 392.33 L383.67 394.93 L382.19 390.61 L382.62 391.23 L382.55 388.58 L384.56 390.01 L384.19 383.50 L382.12 384.03 L385.29 378.27 L383.65 369.92 L383.07 382.90 L383.55 377.32 L385.17 374.54 L385.04 387.82 L385.82 384.05 L384.81 384.98 L384.64 384.16 L384.81 380.15 L384.42 378.54 L385.00 378.00 L384.96 377.15 L386.12 377.43 L385.70 375.91 L386.15 373.07 L385.71 369.91 L385.61 368.90 L386.67 369.48 L385.58 369.52 L384.94 368.39 L386.00 366.00 L384.73 366.55 L386.66 364.76 L386.19 365.90 L387.59 365.55 L385.92 365.44 L387.03 369.49 L388.37 365.04 L387.87 363.92 L388.24 364.11 L387.47 361.61 L387.00 363.04 L386.89 363.37 L386.61 362.99 L387.82 361.66 L388.37 362.05 L387.13 363.29 L388.74 362.65 L387.59 363.01 L388.21 361.74 L388.00 361.90 L387.14 362.62 L388.13 363.45 L389.03 363.81 L388.57 365.83 L388.06 366.35 L388.90 365.31 L387.68 365.80 L388.21 364.31 L388.14 364.33 L389.02 364.24 L389.53 367.00 L389.45 367.80 L388.53 367.95 L389.48 369.75 L389.94 370.32 L390.06 371.11 L389.51 369.67 L389.37 372.82 L389.13 373.05 L390.00 373.10 L390.78 373.38 L390.33 372.50 L391.06 373.17 L390.91 371.05 L390.17 371.38 L390.05 367.08 L390.20 367.49 L390.07 367.62 L390.12 367.59 L391.51 363.16 L391.43 362.39 L392.10 362.90 L390.55 362.53 L391.98 361.06 L392.16 359.80 L391.60 362.00 L391.79 358.37 L392.04 358.60 L392.42 360.92 L391.56 359.83 L392.88 359.02 L391.87 356.78 L392.29 355.18 L392.11 355.45 L392.95 356.24 L391.73 355.55 L391.39 355.19 L392.80 354.82 L393.18 353.77 L393.00 352.00 L393.11 352.89 L393.26 353.23 L393.72 350.52 L392.29 347.13 L393.91 344.60 L392.89 341.05 L394.03 343.78 L393.39 341.74 L393.86 338.72 L393.44 341.74 L395.58 340.55 L394.92 338.30 L394.85 339.90 L393.92 339.15 L394.16 336.48 L394.80 336.71 L396.32 334.86 L393.60 333.68 L394.56 334.61 L395.00 334.00 L396.48 333.58 L394.54 333.58 L395.15 334.32 L395.16 334.32 L396.02 334.02 L395.37 334.32 L395.88 333.58 L396.32 333.58 L395.93 333.71 L395.81 333.58 L395.18 333.58 L395.29 333.58 L394.75 333.58 L396.07 335.45 L397.62 334.98 L396.19 334.78 L396.72 334.73 L397.20 334.11 L396.36 334.49 L397.00 333.90 L396.78 336.52 L397.98 336.29 L396.78 338.79 L397.90 341.68 L397.48 341.44 L397.19 342.25 L398.23 338.06 L397.92 341.20 L398.99 343.68 L398.00 344.00 L398.32 344.95 L399.30 346.31 L398.56 347.17 L398.14 347.68 L398.78 349.24 L398.91 349.41 L399.00 349.41 L397.68 348.28 L398.92 346.93 L399.05 347.97 L398.43 348.99 L399.87 349.02 L399.55 349.41 L399.63 349.41 L400.50 349.41 L399.60 349.10 L400.55 348.67 L399.66 349.41 L399.95 348.11 L401.41 348.11 L402.10 342.09 L399.85 340.88 L400.04 348.22 L400.94 339.32 L400.93 332.22 L399.41 329.68 L401.57 329.68 L401.18 329.68 L401.32 329.67 L401.00 330.00 L400.91 323.50 L400.35 327.54 L400.78 329.97 L401.34 331.19 L401.41 335.17 L400.38 334.39 L401.96 326.41 L401.25 322.85 L402.36 323.43 L401.78 323.22 L402.72 320.86 L402.59 317.55 L402.65 318.71 L402.06 320.31 L402.27 316.56 L402.41 316.56 L402.70 317.88 L402.09 319.20 L403.48 316.56 L403.00 316.90 L401.58 316.56 L404.47 316.78 L404.01 317.97 L403.14 316.56 L403.07 319.92 L404.39 318.77 L403.13 318.57 L403.56 318.76 L404.35 319.19 L403.39 319.95 L403.96 323.44 L404.30 322.34 L404.56 322.03 L403.04 323.21 L404.55 321.70 L402.86 322.51 L404.40 323.44 L405.02 323.43 L405.10 323.43 L405.00 323.10 L402.95 323.25 L405.33 323.43 L406.29 323.44 L405.82 322.66 L406.20 323.44 L404.68 323.44 L405.65 322.56 L405.38 321.77 L407.60 319.74 L405.61 318.35 L404.30 317.88 L405.92 321.33 L405.11 319.61 L405.89 321.14 L406.40 317.33 L406.74 320.48 L405.72 318.25 L406.33 317.73 L406.76 316.65 L407.00 316.90 L406.13 317.81 L407.50 322.21 L407.80 322.55 L408.14 320.94 L407.13 319.71 L408.18 320.76 L406.36 321.31 L407.38 321.12 L410.55 323.79 L407.08 321.64 L408.91 323.01 L408.72 321.81 L408.46 323.21 L408.40 328.00 L408.51 327.25 L409.06 326.30 L408.70 326.56 L408.47 328.68 L409.55 332.86 L408.97 334.31 L409.11 332.27 L409.78 335.52 L410.65 334.33 L409.61 334.26 L409.12 336.35 L410.03 333.74 L409.72 337.46 L409.47 338.81 L409.54 340.32 L410.00 340.00 L410.23 339.75 L409.30 338.17 L412.03 337.68 L409.39 340.32 L410.07 339.69 L409.68 340.64 L409.72 339.69 L411.28 341.84 L410.52 341.80 L412.04 341.41 L412.27 341.05 L411.12 345.19 L411.39 343.96 L410.82 344.97 L412.66 345.36 L411.57 343.10 L411.86 344.69 L410.89 346.28 L412.27 346.41 L412.00 346.10 L412.55 344.75 L411.26 345.49 L412.96 345.91 L414.29 344.44 L412.18 345.57 L412.92 344.37 L411.94 346.41 L413.23 342.12 L412.51 339.99 L411.98 342.80 L413.36 342.98 L411.81 340.64 L413.03 339.85 L411.80 340.48 L414.23 338.49 L413.88 336.05 L413.57 336.03 L414.60 335.88 L414.06 334.06 L414.00 333.90 L414.65 334.46 L414.10 333.58 L414.39 333.58 L413.91 333.58 L415.46 333.58 L414.74 334.02 L414.71 337.04 L416.53 336.64 L414.12 338.17 L414.44 340.12 L415.76 341.09 L415.48 339.14 L415.01 341.45 L415.02 342.61 L415.03 341.90 L415.60 343.10 L414.77 342.31 L414.36 342.66 L415.24 342.17 L415.53 343.13 L416.01 343.22 L416.52 342.63 L418.26 342.53 L416.28 342.89 L416.53 342.31 L415.41 343.41 L416.22 342.72 L416.82 342.70 L416.65 343.41 L418.23 341.74 L417.24 343.41 L418.10 342.78 L417.31 341.91 L416.59 342.72 L418.28 342.54 L417.40 343.29 L417.64 341.74 L419.27 342.11 L417.77 342.23 L418.00 341.90 L417.91 343.13 L418.72 343.26 L417.81 345.65 L419.30 345.04 L418.68 344.52 L419.62 346.85 L418.44 347.23 L417.86 344.75 L419.07 344.41 L419.13 346.64 L419.54 350.20 L419.46 354.22 L418.69 351.96 L419.11 352.17 L420.09 354.24 L419.60 352.00 L419.58 352.59 L418.92 351.93 L419.41 351.90 L419.83 356.63 L420.83 358.09 L420.62 362.34 L419.25 365.28 L420.14 371.13 L421.41 369.12 L421.57 364.70 L420.38 367.35 L421.62 361.65 L420.74 363.20 L421.00 370.00 L421.79 367.09 L420.61 367.65 L422.18 367.71 L420.95 366.93 L420.42 371.21 L420.57 377.34 L421.13 377.24 L420.88 381.27 L421.47 382.42 L422.10 381.06 L421.60 382.64 L420.13 381.92 L422.46 383.55 L422.40 387.10 L424.78 384.50 L422.29 382.04 L423.05 382.59 L422.60 385.00 L422.69 385.99 L421.19 387.37 L423.35 381.76 L423.30 383.71 L424.63 385.94 L423.06 382.12 L423.22 374.68 L424.04 375.43 L424.82 374.87 L423.41 376.03 L423.48 374.28 L424.00 372.90 L423.70 373.42 L424.30 374.11 L425.92 374.24 L424.40 374.33 L425.16 375.16 L425.02 374.56 L424.61 376.76 L424.96 375.20 L425.30 376.62 L424.19 377.63 L425.45 381.19 L425.36 376.38 L423.81 379.12 L425.48 380.37 L425.33 379.26 L425.60 378.00 L426.06 378.75 L426.79 377.24 L426.34 379.27 L425.47 380.29 L425.38 381.88 L425.86 380.51 L426.45 380.30 L427.57 379.67 L425.21 375.87 L426.73 379.21 L425.65 383.80 L426.73 386.63 L426.96 386.95 L427.00 387.10 L426.83 384.81 L425.70 383.62 L426.49 385.03 L427.50 384.41 L427.81 379.84 L428.24 374.41 L427.66 379.91 L427.63 375.28 L429.49 375.64 L427.13 377.94 L428.39 377.16 L429.20 365.70 L428.88 371.08 L428.40 370.00 L428.12 371.07 L428.93 367.96 L429.16 370.56 L428.07 372.18 L429.88 373.25 L428.72 368.76 L428.99 365.73 L429.43 364.37 L429.10 360.53 L430.04 363.88 L429.68 364.22 L430.69 357.85 L429.31 355.58 L430.00 355.04 L429.35 353.87 L430.00 354.00 L429.75 354.00 L430.42 354.02 L429.52 352.91 L430.75 347.51 L429.97 352.98 L430.46 354.30 L432.09 351.34 L431.66 346.29 L430.49 346.16 L431.21 347.01 L431.39 348.87 L430.97 347.38 L431.15 347.64 L431.32 348.29 L430.51 349.82 L431.25 348.65 L431.62 347.96 L431.85 347.15 L433.06 347.03 L432.00 346.00 L431.81 346.31 L431.99 346.31 L431.72 346.31 L433.20 345.69 L431.78 346.31 L432.79 345.69 L432.90 345.89 L432.30 345.69 L433.00 346.31 L432.42 346.07 L434.13 345.69 L434.37 345.69 L432.59 346.31 L432.58 345.69 L432.89 346.31 L432.87 345.69 L432.20 345.69 L433.44 345.69 L433.60 345.69 L434.00 346.00 L435.48 346.23 L435.21 346.10 L434.71 347.38 L435.05 348.22 L434.41 349.42 L434.89 349.70 L434.33 351.00 L434.05 349.59 L434.63 352.80 L436.03 357.08 L433.86 351.75 L434.79 350.83 L436.12 355.94 L435.77 355.59 L434.29 356.64 L435.60 356.00 L435.66 358.26 L436.61 358.19 L436.60 358.09 L436.56 357.47 L436.28 357.41 L437.41 357.09 L436.26 359.24 L435.43 359.41 L436.10 361.18 L436.30 362.77 L436.38 360.97 L437.08 363.88 L435.34 363.17 L437.00 364.00 L437.29 367.05 L437.01 367.83 L437.33 364.61 L437.20 367.29 L437.20 368.97 L437.39 367.85 L439.60 368.40 L436.48 369.00 L437.80 363.71 L437.43 363.72 L437.88 365.95 L439.25 363.72 L438.98 364.08 L440.40 364.83 L438.61 370.49 L438.92 372.48 L438.06 371.47 L438.58 373.40 L438.46 376.80 L439.00 376.00 L438.33 376.69 L439.14 377.58 L439.35 377.91 L438.62 376.77 L439.90 378.71 L438.09 375.90 L439.93 377.02 L440.23 382.68 L440.52 383.45 L439.82 387.17 L440.38 386.73 L440.20 384.00 L439.73 385.65 L440.77 384.24 L440.86 384.12 L440.99 385.51 L440.03 390.37 L440.64 389.03 L441.83 388.85 L439.59 387.07 L441.25 383.74 L441.35 389.43 L441.91 397.03 L442.07 397.56 L441.24 397.22 L441.60 398.00 L440.60 399.99 L442.45 397.69 L442.24 398.59 L440.94 405.30 L441.26 405.81 L442.72 411.03 L442.68 406.18 L441.60 408.99 L443.08 404.09 L442.87 405.97 L442.41 409.90 L442.86 410.92 L442.58 409.40 L443.00 415.10 L442.85 409.93 L442.61 409.51 L442.52 405.85 L442.42 408.37 L443.48 407.06 L443.77 403.64 L443.63 409.62 L444.16 407.19 L443.38 407.40 L443.94 406.66 L444.12 406.66 L444.60 406.66 L444.79 406.66 L444.40 406.90 L444.17 407.15 L444.42 406.93 L444.74 406.73 L445.82 410.93 L444.51 413.96 L444.05 416.03 L444.97 416.99 L446.38 419.45 L445.47 417.92 L446.41 417.77 L444.52 416.54 L444.90 417.98 L445.77 424.48 L445.94 419.50 L445.14 420.77 L446.00 426.10 L446.55 422.29 L445.50 418.16 L446.04 415.02 L446.42 415.32 L445.98 410.84 L445.91 410.62 L447.61 413.41 L445.96 416.72 L447.04 420.19 L447.40 415.16 L447.45 406.68 L447.52 404.40 L447.21 407.58 L448.08 406.81 L447.84 403.89 L447.60 400.00 L448.07 398.86 L448.29 401.18 L448.49 400.47 L447.98 400.26 L447.19 399.85 L447.91 400.25 L448.35 399.87 L448.06 398.77 L448.07 400.26 L448.41 397.95 L449.02 397.69 L448.72 397.08 L449.99 395.70 L449.00 394.90 L449.02 396.29 L450.41 395.73 L449.04 397.10 L449.13 398.12 L449.67 398.65 L450.34 397.32 L450.20 397.99 L450.46 398.74 L449.16 400.29 L449.88 401.19 L450.56 400.42 L450.86 399.50 L450.45 401.06 L449.90 400.37 L449.95 402.08 L450.76 402.25 L451.05 401.31 L451.14 401.37 L449.57 401.75 L451.00 402.00 L451.55 401.75 L450.81 401.75 L450.89 401.75 L451.35 403.87 L451.47 404.03 L451.24 403.13 L452.14 404.20 L452.07 405.25 L452.10 407.66 L452.47 410.93 L452.65 407.78 L452.56 408.84 L452.03 410.37 L452.13 410.91 L452.99 408.78 L452.26 412.67 L453.34 413.69 L453.09 414.34 L452.81 413.89 L453.00 414.10 L453.30 414.34 L453.03 414.34 L452.91 414.34 L453.01 413.72 L454.43 411.94 L453.91 412.00 L453.72 410.79 L454.10 411.18 L453.75 413.02 L453.68 411.58 L453.74 411.44 L453.57 408.08 L453.69 408.28 L454.63 407.40 L454.37 409.04 L454.02 408.68 L454.62 408.93 L455.72 408.94 L454.74 408.16 L455.00 406.90 L454.22 406.80 L455.42 407.05 L455.18 407.21 L455.46 406.66 L455.76 406.66 L456.42 406.66 L455.96 408.36 L455.53 409.84 L456.14 406.66 L456.78 409.57 L456.49 410.64 L455.95 412.82 L456.08 416.83 L455.54 419.34 L456.20 419.34 L456.65 419.33 L456.74 417.44 L456.49 419.33 L457.27 419.28 L457.00 419.10 L456.71 419.33 L455.96 419.33 L456.70 417.74 L457.74 414.36 L456.64 413.57 L458.64 411.96 L458.27 410.60 L458.02 414.27 L456.87 416.77 L458.79 412.07 L458.16 411.76 L457.50 409.05 L458.63 409.03 L458.65 405.56 L457.99 406.91 L458.47 406.61 L459.60 404.16 L458.67 406.05 L458.79 403.67 L459.00 398.90 L459.57 400.88 L459.05 399.27 L460.10 399.82 L459.40 400.85 L459.90 401.78 L459.91 400.75 L458.55 402.75 L459.71 402.85 L459.51 402.50 L459.02 404.97 L459.65 407.57 L459.61 404.03 L460.83 407.24 L460.40 406.00 L459.94 408.29 L460.41 412.31 L460.72 414.12 L461.20 418.79 L460.20 417.65 L461.15 420.44 L461.61 420.27 L460.59 422.36 L461.58 425.23 L460.58 424.15 L462.61 423.41 L461.60 420.00 L461.76 423.66 L462.75 422.64 L461.85 423.79 L461.85 424.43 L463.19 423.44 L461.60 426.93 L461.76 426.92 L461.48 428.34 L460.97 428.92 L462.65 426.76 L462.98 427.91 L462.91 427.16 L462.36 429.78 L463.00 432.00 L462.96 432.04 L462.93 433.88 L463.79 433.07 L463.49 437.10 L463.28 438.22 L463.17 438.22 L463.58 437.02 L463.70 440.61 L464.14 444.86 L463.39 440.45 L465.63 441.75 L464.88 440.60 L463.98 439.03 L464.40 438.00 L464.77 439.88 L465.69 438.47 L465.31 440.95 L464.22 443.85 L465.24 445.81 L464.58 453.30 L464.75 453.04 L465.70 452.26 L465.64 453.30 L464.49 453.30 L465.13 453.30 L465.60 453.10 L466.49 453.30 L466.02 452.97 L466.07 445.25 L465.53 445.26 L465.79 445.43 L466.13 445.21 L466.56 444.81 L465.20 445.63 L466.55 446.57 L467.47 440.93 L465.66 445.81 L466.71 441.81 L466.46 437.04 L467.00 434.00 L467.64 435.62 L467.07 433.77 L467.20 432.21 L466.93 434.11 L467.46 431.85 L467.59 429.50 L467.33 425.84 L468.07 426.80 L467.80 425.09 L467.41 425.05 L468.19 422.43 L469.10 422.27 L467.99 421.60 L468.40 419.90 L468.23 421.78 L468.98 421.59 L468.23 422.24 L467.83 424.43 L468.62 421.16 L469.46 423.29 L469.09 425.26 L468.82 427.50 L469.43 425.42 L469.10 424.93 L469.38 427.30 L468.95 428.40 L470.09 427.57 L470.60 425.70 L470.44 428.72 L470.00 430.00 L469.42 432.33 L470.02 432.87 L470.88 434.53 L471.30 436.21 L470.49 435.43 L470.60 434.14 L470.61 436.24 L470.93 434.62 L470.91 434.47 L470.52 433.00 L471.56 435.56 L471.32 439.19 L471.32 439.31 L471.40 439.10 L471.05 439.31 L471.76 439.31 L471.80 439.31 L471.72 439.31 L472.39 439.31 L472.20 436.60 L472.56 436.32 L472.02 436.52 L472.42 432.62 L472.80 432.38 L472.33 433.14 L471.68 432.65 L472.90 431.89 L473.15 429.78 L473.15 431.08 L473.00 430.00 L472.95 428.43 L472.68 428.47 L472.98 429.06 L473.40 429.50 L473.16 430.01 L473.94 429.25 L473.64 428.73 L473.92 429.06 L472.86 428.35 L474.20 428.35 L473.75 430.05 L473.88 429.28 L475.27 428.38 L473.86 430.22 L473.80 430.22 L474.98 430.09 L474.70 426.01 L473.61 424.76 L475.14 426.10 L475.00 427.00 L475.84 423.39 L474.79 419.26 L474.40 419.26 L475.35 416.38 L476.00 418.59 L475.39 416.10 L476.33 416.95 L475.71 419.00 L476.56 418.80 L476.57 416.07 L476.36 411.52 L476.82 405.67 L476.53 406.51 L476.40 405.00 L476.29 401.46 L476.67 400.35 L476.70 400.72 L477.46 395.63 L477.10 393.74 L477.00 389.75 L477.64 393.64 L477.28 392.98 L476.16 394.78 L477.24 395.37 L477.53 393.44 L477.13 391.39 L477.79 389.70 L478.44 391.74 L477.84 390.94 L478.00 390.00 L477.43 392.23 L478.47 393.84 L478.86 394.58 L477.48 395.69 L477.82 389.62 L477.51 389.34 L478.19 386.92 L479.48 386.47 L477.34 386.18 L478.16 386.46 L479.03 386.11 L479.24 386.67 L479.97 384.18 L480.35 383.86 L479.45 382.99 L479.60 382.90 L480.05 382.63 L479.92 383.36 L479.80 382.63 L479.91 385.04 L479.37 387.45 L480.16 388.18 L480.32 387.73 L480.94 388.51 L480.96 389.36 L481.13 388.04 L480.43 392.51 L480.06 388.88 L480.50 391.37 L481.00 393.10 L481.81 389.76 L481.72 390.48 L481.57 390.62 L482.56 392.32 L483.03 389.62 L481.37 387.79 L481.02 384.58 L481.89 383.66 L482.14 383.84 L481.34 382.92 L481.60 381.54 L480.84 377.88 L482.74 378.25 L482.40 376.00 L482.00 378.81 L483.99 378.51 L483.20 375.41 L482.13 369.38 L483.01 370.25 L483.45 372.74 L482.66 367.39 L484.37 364.91 L483.06 364.23 L483.81 362.25 L483.65 365.77 L483.49 367.88 L482.99 367.61 L483.41 367.25 L483.17 367.72 L484.00 366.00 L483.03 363.84 L483.99 362.23 L483.92 362.68 L485.04 363.32 L485.10 363.69 L483.59 359.68 L482.97 358.45 L484.16 355.48 L484.15 355.88 L485.00 354.90 L483.72 354.60 L485.80 354.60 L484.79 354.60 L483.72 356.89 L485.19 355.04 L485.59 360.16 L485.51 359.53 L486.00 360.26 L487.28 357.52 L486.49 356.45 L485.06 359.20 L487.52 358.70 L486.43 362.14 L486.99 362.79 L486.97 364.39 L486.66 364.53 L488.06 365.17 L486.51 364.51 L486.78 365.44 L487.00 367.10 L486.34 366.84 L487.30 365.65 L486.64 362.90 L487.32 361.70 L487.57 360.10 L486.65 361.39 L487.44 362.30 L486.43 363.34 L488.59 356.60 L488.13 355.69 L489.10 353.33 L487.45 354.44 L487.76 356.06 L488.40 356.00 L489.86 353.51 L488.92 350.35 L488.93 348.70 L488.04 352.33 L488.86 350.29 L488.94 355.29 L489.18 353.49 L488.85 352.57 L489.29 352.74 L489.23 350.61 L488.96 350.15 L489.13 351.11 L489.11 349.57 L489.90 348.73 L490.31 348.67 L490.00 349.00 L489.92 348.68 L490.89 350.00 L490.08 350.25 L489.41 347.69 L490.71 347.69 L490.76 348.03 L490.50 347.91 L491.64 347.69 L492.34 349.01 L489.86 348.60 L491.78 348.50 L491.63 349.31 L492.38 349.11 L492.41 349.31 L492.24 349.31 L491.60 348.00 L491.49 347.03 L492.48 345.52 L491.45 344.29 L492.57 345.40 L491.61 346.30 L492.42 346.44 L492.79 345.32 L491.82 345.32 L492.02 344.90 L491.99 343.30 L493.48 340.23 L492.75 340.80 L492.57 337.08 L493.00 336.00 L493.83 337.33 L491.41 337.96 L492.87 338.74 L494.02 339.88 L493.99 339.53 L494.10 340.33 L493.08 334.81 L492.89 328.99 L493.67 327.19 L494.58 330.75 L493.96 327.25 L495.40 328.14 L495.58 326.95 L494.40 324.90 L494.06 325.86 L494.22 327.03 L494.62 324.57 L494.71 324.91 L493.49 328.80 L495.95 328.05 L495.33 328.59 L496.31 329.43 L498.02 329.11 L495.75 327.55 L495.39 327.78 L494.91 328.59 L496.37 329.43 L496.05 328.66 L494.52 328.91 L496.00 329.10 L497.76 329.43 L496.19 326.93 L495.60 327.88 L495.85 327.09 L497.14 324.65 L496.23 323.72 L497.41 322.30 L497.15 324.60 L496.64 327.48 L495.43 324.17 L496.13 321.22 L497.28 322.83 L496.42 320.93 L497.38 320.93 L497.43 319.92 L497.60 316.00 L498.52 317.53 L497.88 319.35 L497.52 312.21 L497.57 313.09 L497.60 315.48 L497.91 314.39 L498.46 312.75 L497.51 315.81 L497.51 316.31 L498.78 312.96 L498.55 310.67 L499.22 311.60 L499.09 308.55 L497.93 309.58 L498.96 308.83 L499.20 308.90 L499.88 308.65 L498.49 310.83 L499.79 310.40 L501.51 310.25 L497.89 310.73 L500.45 311.50 L500.03 309.71 L499.55 310.04 L500.26 311.02 L500.22 312.47 L499.83 314.61 L500.40 316.00 L500.77 314.48 L499.68 314.32 L500.41 311.19 L499.53 308.56 L499.49 313.92 L501.33 314.15 L500.99 319.14 L500.65 320.09 L501.04 320.86 L501.81 320.53 L500.91 321.78 L501.60 324.00 L502.87 322.62 L501.87 328.68 L501.36 331.92 L502.20 336.04 L501.01 334.06 L501.72 338.92 L504.67 341.15 L502.40 341.10 L503.36 338.36 L501.88 338.51 L502.37 332.57 L502.72 333.01 L503.09 331.95 L503.36 327.73 L501.97 325.44 L504.02 321.57 L503.19 320.42 L503.22 320.85 L502.27 318.80 L503.60 314.90 L503.36 314.56 L504.19 314.56 L504.98 314.56 L503.54 314.56 L503.62 317.08 L503.33 319.56 L503.80 321.67 L505.27 323.03 L504.89 321.88 L504.10 317.94 L503.96 315.75 L504.36 320.08 L504.87 317.51 L505.00 320.00 L505.61 317.84 L505.29 318.73 L504.80 314.57 L505.91 322.66 L505.12 330.78 L506.08 324.36 L506.45 326.61 L506.83 325.79 L505.90 328.84 L506.00 340.00 L507.19 337.31 L506.71 337.03 L506.70 338.40 L505.62 340.80 L507.60 344.72 L505.78 344.10 L507.15 337.72 L506.74 339.43 L508.01 342.34 L507.09 346.99 L507.87 346.57 L507.78 345.35 L507.25 346.17 L507.44 348.63 L506.45 351.41 L507.60 351.10 L507.65 351.41 L507.41 350.88 L507.91 351.33 L508.87 348.26 L506.94 343.25 L509.51 343.55 L509.78 341.65 L509.02 343.30 L508.31 341.20 L509.59 341.36 L509.17 337.61 L508.70 341.78 L508.97 339.41 L509.00 337.90 L510.31 339.10 L510.17 339.52 L508.00 338.16 L507.99 338.56 L510.51 339.86 L509.19 337.59 L510.15 337.59 L509.59 337.59 L509.19 339.55 L510.93 341.31 L509.47 343.58 L509.95 344.54 L510.26 347.68 L510.40 350.00 L510.42 349.26 L509.82 351.38 L510.95 349.61 L512.02 354.77 L510.99 356.23 L510.50 356.42 L511.62 358.14 L511.33 357.36 L511.26 359.33 L511.37 359.50 L511.62 360.86 L511.60 363.10 L510.46 362.07 L512.77 362.86 L512.64 362.29 L512.04 363.23 L511.88 363.39 L512.26 360.02 L513.31 357.51 L511.79 357.29 L512.39 355.44 L513.69 356.07 L512.86 353.55 L512.65 354.98 L511.54 353.18 L513.23 352.96 L512.94 352.57 L513.71 351.67 L513.13 350.60 L514.48 350.83 L513.28 351.47 L513.60 350.90 L514.77 350.60 L513.39 351.88 L514.22 350.60 L514.06 350.60 L513.25 352.02 L514.38 350.60 L514.59 350.60 L513.92 350.94 L514.28 350.87 L515.09 351.08 L514.80 350.60 L515.02 350.60 L513.83 351.85 L515.21 350.60 L514.25 351.84 L515.50 351.54 L516.97 350.60 L515.48 351.11 L515.69 354.13 L515.60 356.00 L515.62 355.99 L515.24 360.84 L516.61 359.09 L514.43 361.14 L516.90 360.90 L516.60 365.67 L517.02 367.41 L516.07 367.88 L516.32 366.53 L518.25 367.67 L516.62 367.39 L517.53 366.65 L516.93 368.60 L517.00 369.10 L517.45 367.20 L516.70 367.70 L517.24 367.17 L517.14 368.66 L517.85 367.85 L516.96 368.38 L517.79 368.61 L517.88 368.61 L519.29 369.39 L519.26 370.87 L517.78 371.04 L517.82 369.80 L518.49 368.61 L518.40 368.90 L517.70 369.38 L519.11 371.99 L517.08 370.25 L519.65 373.03 L518.21 374.92 L518.87 374.74 L519.08 373.35 L519.22 374.94 L519.09 373.75 L518.61 374.66 L519.96 373.60 L520.90 372.34 L519.12 375.12 L519.97 380.59 L518.80 382.27 L520.00 382.00 L520.62 384.55 L519.39 386.41 L520.87 386.72 L520.10 385.91 L520.41 387.17 L520.76 389.94 L519.26 388.85 L520.39 385.98 L522.38 384.63 L519.85 383.04 L520.56 386.36 L521.85 386.88 L521.95 388.89 L521.50 388.49 L522.87 390.13 L521.60 390.00 L523.18 390.65 L521.79 391.75 L521.87 395.05 L522.94 397.68 L521.32 397.56 L521.90 401.66 L522.56 403.29 L522.40 405.10 L522.29 404.30 L522.30 405.02 L522.06 405.35 L522.73 405.35 L522.03 405.35 L522.22 405.35 L523.49 402.96 L522.96 400.67 L522.48 400.54 L523.10 401.66 L523.56 400.98 L523.46 399.50 L524.43 400.14 L523.44 398.31 L523.74 397.36 L524.00 396.90 L524.03 396.64 L524.46 397.11 L524.05 397.39 L523.83 397.00 L525.13 397.82 L524.31 399.56 L524.36 399.10 L525.41 398.72 L523.88 399.73 L525.74 400.40 L525.47 400.17 L524.18 402.01 L524.37 406.69 L525.16 405.04 L525.60 405.71 L525.60 404.00 L526.05 409.00 L525.46 409.18 L525.29 410.85 L527.18 408.02 L526.07 409.12 L527.04 406.42 L525.62 405.41 L527.31 411.71 L526.16 411.20 L524.68 410.68 L526.03 413.80 L526.33 414.28 L526.96 415.27 L526.37 414.60 L527.21 416.03 L527.20 418.10 L526.77 415.49 L528.09 414.59 L527.04 416.25 L527.71 412.78 L529.33 405.58 L528.94 401.13 L527.22 401.06 L527.08 399.90 L528.54 395.99 L526.64 392.85 L527.26 393.25 L528.40 388.90 L527.42 390.91 L528.52 393.83 L528.93 392.76 L528.38 389.92 L528.27 385.80 L529.78 389.80 L529.08 392.43 L529.22 396.79 L528.42 393.36 L529.49 393.36 L529.89 391.39 L529.67 393.36 L530.82 393.36 L530.27 393.36 L530.50 393.36 L530.00 393.10 L530.72 389.72 L530.26 385.78 L529.85 380.49 L529.82 379.02 L530.33 370.90 L530.60 368.90 L530.71 369.11 L530.87 371.49 L530.68 373.89 L530.97 374.71 L531.07 375.30 L531.20 383.00 L531.00 384.12 L531.29 385.50 L530.80 386.38 L531.42 386.91 L531.09 388.96 L531.17 387.71 L531.42 389.14 L531.24 392.09 L532.29 391.15 L533.12 394.26 L532.63 394.26 L532.10 393.98 L533.63 394.26 L532.51 384.43 L531.72 390.65 L532.91 391.67 L531.98 392.65 L533.00 394.00 L533.25 391.84 L533.53 391.04 L533.09 393.74 L534.62 395.48 L533.61 395.89 L533.39 395.59 L533.34 399.23 L533.81 397.57 L532.84 397.92 L533.83 398.51 L535.50 398.49 L533.32 400.30 L534.75 400.42 L534.71 402.74 L535.18 401.57 L534.94 404.16 L534.43 403.59 L534.45 403.58 L535.37 403.21 L535.00 404.00 L534.90 403.75 L535.17 403.86 L534.48 406.18 L535.23 405.43 L536.47 409.88 L535.68 409.31 L536.82 406.74 L535.40 406.13 L535.26 406.37 L536.55 408.38 L534.97 408.04 L537.54 409.38 L536.67 409.31 L535.77 406.44 L537.11 410.20 L536.52 407.56 L537.37 409.35 L536.77 410.77 L538.01 411.44 L537.00 414.00 L537.06 415.90 L537.58 415.65 L537.36 416.69 L537.77 419.05 L537.18 418.92 L537.70 413.91 L537.33 415.30 L538.03 420.93 L537.83 420.57 L538.25 424.05 L538.30 418.09 L538.12 416.97 L538.57 419.20 L538.40 426.00 L537.76 426.08 L538.46 430.92 L539.09 436.23 L539.11 438.65 L538.68 437.69 L539.02 444.87 L539.83 437.26 L539.08 438.93 L539.49 445.16 L539.75 447.66 L539.51 449.30 L539.60 449.10 L539.43 449.05 L539.77 447.60 L539.77 446.90 L540.35 445.51 L540.94 439.35 L540.80 437.59 L540.70 439.05 L540.23 437.09 L541.50 438.44 L541.68 436.31 L540.84 432.69 L541.39 434.24 L541.60 433.41 L541.00 436.00 L541.63 432.79 L540.61 430.74 L541.68 430.68 L540.59 430.68 L542.01 432.99 L542.10 434.43 L541.53 434.12 L541.58 433.96 L541.99 432.87 L543.04 432.65 L541.87 430.77 L541.70 430.68 L542.66 431.24 L542.40 430.90 L543.16 431.67 L541.89 433.13 L542.18 432.52 L543.46 432.67 L542.67 432.62 L543.47 432.66 L544.21 432.38 L542.70 433.39 L543.26 433.86 L543.28 435.88 L543.38 437.28 L542.69 437.65 L543.19 439.31 L544.01 438.40 L543.63 439.21 L544.00 439.10 L544.34 439.20 L545.17 438.74 L543.94 437.01 L543.54 436.63 L544.76 437.88 L544.39 437.66 L544.99 438.39 L544.33 436.68 L544.30 438.03 L544.51 436.56 L545.03 436.55 L545.99 436.00 L545.54 435.69 L544.97 435.69 L546.02 435.80 L545.60 435.90 L545.82 436.86 L545.38 438.09 L545.86 440.75 L546.05 440.78 L546.13 440.02 L545.85 442.81 L547.39 444.85 L546.09 444.84 L547.23 446.42 L546.85 445.96 L545.60 446.98 L547.14 444.17 L546.15 446.39 L547.00 448.00 L547.51 449.48 L546.66 447.89 L547.92 447.74 L547.69 451.24 L547.76 450.12 L547.17 448.23 L548.36 452.05 L548.04 449.54 L547.90 448.93 L548.10 453.14 L548.74 453.82 L547.74 451.99 L548.31 452.14 L548.40 452.00 L549.18 454.95 L548.06 454.69 L548.31 453.33 L547.98 455.02 L548.90 456.67 L549.31 453.34 L549.69 457.66 L549.44 458.68 L549.29 461.98 L548.58 462.12 L549.26 462.27 L549.60 463.10 L549.28 463.29 L548.57 463.29 L549.62 463.29 L550.06 463.29 L550.15 460.41 L549.58 456.56 L550.95 456.02 L550.61 461.81 L551.14 455.23 L551.59 455.08 L550.75 455.83 L551.29 455.24 L550.03 450.83 L551.00 446.00 L551.14 449.06 L550.03 449.74 L552.40 451.56 L551.52 452.38 L552.39 448.09 L551.47 440.47 L551.08 433.24 L552.86 434.50 L551.66 430.64 L552.00 428.90 L550.86 429.02 L553.26 429.87 L552.61 429.44 L550.56 430.81 L552.60 431.33 L552.24 435.61 L551.82 434.27 L552.98 428.68 L552.88 433.85 L553.28 431.93 L553.26 433.25 L552.90 432.25 L553.86 435.54 L553.84 434.60 L554.03 435.40 L553.60 437.10 L554.68 435.85 L553.40 435.11 L554.24 437.31 L553.60 435.47 L554.62 434.65 L553.99 435.54 L554.01 435.20 L554.32 434.63 L554.82 435.43 L555.61 436.52 L553.49 434.40 L555.15 433.43 L554.64 435.85 L554.11 434.89 L554.15 431.78 L555.54 431.06 L554.81 431.33 L555.60 432.82 L555.57 430.65 L555.60 432.00 L554.88 430.32 L555.97 431.68 L556.20 431.65 L556.30 430.77 L556.11 429.25 L555.37 429.80 L557.05 431.08 L556.82 429.50 L555.68 428.98 L555.93 426.79 L557.05 427.00 L556.61 427.31 L557.45 427.48 L556.69 427.79 L557.22 426.56 L557.20 424.90 L556.02 426.32 L556.83 426.77 L557.34 424.68 L556.87 427.14 L558.28 427.92 L557.56 429.69 L558.52 430.31 L558.26 431.94 L557.92 429.27 L558.33 429.59 L559.97 428.64 L558.60 432.41 L559.43 435.92 L558.60 436.00 L559.28 439.06 L559.28 439.84 L559.48 439.99 L559.30 440.99 L558.56 441.15 L558.76 442.48 L559.36 441.98 L559.48 442.91 L559.70 442.68 L558.46 444.16 L559.61 445.27 L559.97 446.95 L559.68 447.30 L560.00 446.00 L559.53 448.60 L560.66 449.84 L560.51 450.45 L560.55 452.85 L560.89 445.64 L560.56 446.12 L560.63 450.27 L560.49 450.21 L561.25 450.99 L561.88 452.19 L560.67 452.74 L560.72 453.01 L561.02 454.20 L561.73 453.24 L561.58 453.92 L561.60 454.00 L561.15 454.64 L561.12 454.23 L560.81 454.99 L562.17 452.70 L562.02 455.35 L561.84 455.05 L562.18 455.43 L561.74 455.83 L562.29 457.72 L562.54 457.39 L563.53 458.33 L562.44 456.17 L562.93 456.72 L563.10 457.88 L563.08 458.39 L563.60 460.14 L563.73 458.87 L563.26 459.56 L563.06 460.13 L563.60 460.00 L563.95 460.47 L563.32 460.82 L563.37 461.03 L563.74 462.02 L563.96 461.08 L563.51 462.40 L564.78 462.39 L564.55 463.78 L564.29 462.55 L564.08 462.89 L564.25 465.00 L565.29 463.94 L564.72 465.03 L564.68 466.70 L565.60 465.12 L565.38 468.18 L566.22 468.18 L566.05 467.50 L565.45 468.18 L565.60 468.00 L565.44 469.01 L565.59 470.61 L566.95 469.44 L565.74 469.53 L566.03 469.19 L566.65 469.71 L566.02 470.93 L566.66 470.59 L566.79 468.84 L565.99 470.68 L566.04 470.84 L566.64 471.67 L566.47 472.08 L567.45 471.45 L566.72 472.19 L566.79 473.42 L567.11 474.29 L567.53 475.67 L566.84 476.17 L567.60 476.00 L567.43 475.95 L567.99 478.34 L567.56 477.87 L567.53 477.07 L567.74 477.88 L568.34 477.44 L568.38 477.85 L568.16 479.16 L568.71 479.34 L568.17 479.67 L568.88 479.93 L568.27 481.27 L568.80 480.99 L569.12 481.27 L569.55 480.87 L568.32 479.85 L569.16 480.57 L569.61 479.21 L569.60 480.02 L569.60 481.10 L569.98 481.01 L569.72 479.37 L569.76 478.68 L570.77 478.70 L570.96 477.95 L569.93 479.05 L570.14 478.29 L569.65 476.32 L570.35 477.44 L570.51 476.84 L570.89 476.47 L571.43 475.53 L571.29 474.73 L571.00 474.90 L570.95 475.22 L571.27 475.41 L572.21 476.15 L571.46 476.90 L571.21 478.77 L571.98 479.30 L571.77 478.64 L571.08 478.82 L571.71 480.60 L571.86 479.30 L572.21 479.47 L571.96 479.55 L572.49 479.86 L572.24 480.28 L572.19 481.27 L573.15 481.27 L572.96 480.10 L572.73 481.27 L572.58 481.27 L573.00 481.10 L573.15 481.12 L573.44 480.89 L573.50 480.78 L573.23 480.05 L573.80 480.80 L573.99 479.90 L573.54 478.94 L574.25 479.33 L574.22 478.97 L573.99 480.10 L573.94 480.46 L574.15 479.99 L574.81 479.09 L574.64 478.73 L574.24 479.66 L574.08 479.65 L575.04 479.91 L574.79 479.54 L575.05 479.01 L575.00 478.90 L574.48 478.99 L575.46 481.18 L574.89 480.08 L575.08 480.19 L575.88 480.34 L575.85 482.41 L575.39 483.88 L575.82 483.15 L576.21 483.19 L576.11 480.62 L576.74 483.99 L576.12 487.75 L575.72 487.90 L575.99 486.66 L576.04 487.15 L575.97 487.01 L576.18 487.34 L576.68 487.72 L576.95 486.84 L577.00 486.00 L577.77 487.00 L576.93 487.72 L577.42 487.02 L577.26 487.69 L577.63 490.31 L577.38 489.53 L577.43 492.26 L577.35 490.45 L577.79 490.78 L578.00 492.10 L577.65 491.85 L578.40 491.57 L579.12 490.29 L578.52 490.18 L578.36 489.70 L578.38 487.71 L579.34 488.42 L578.65 489.32 L578.31 488.91 L578.71 489.03 L579.02 490.03 L578.92 489.26 L579.67 488.40 L579.28 488.44 L579.83 488.85 L579.49 488.91 L579.66 488.09 L579.62 488.31 L580.48 487.43 L580.00 488.00 L579.99 487.81 L579.50 487.00 L579.75 486.10 L580.07 486.49 L580.46 485.72 L580.80 486.66 L581.00 486.80 L581.08 486.59 L580.97 485.03 L580.86 481.75 L581.68 483.67 L581.32 480.48 L581.51 483.64 L581.48 483.45 L581.58 484.59 L581.60 484.00 L581.86 483.95 L582.27 484.01 L581.26 483.24 L582.00 483.11 L582.35 480.81 L582.48 480.98 L582.78 480.94 L582.59 475.84 L583.01 474.05 L582.91 472.01 L582.47 475.78 L582.95 476.68 L582.10 473.59 L583.00 474.00 L582.77 471.97 L583.28 468.30 L583.08 466.68 L583.38 465.82 L583.22 465.88 L583.72 466.11 L583.67 468.48 L583.35 469.28 L584.28 469.92 L584.89 468.22 L584.02 465.76 L584.55 468.06 L585.10 466.22 L584.40 466.00 L583.95 463.96 L584.59 463.74 L584.82 462.59 L583.73 460.36 L585.08 459.92 L585.30 462.78 L585.42 461.57 L585.17 459.17 L585.45 461.44 L585.52 460.51 L585.43 460.06 L585.53 458.37 L585.37 458.16 L586.02 456.89 L585.34 457.38 L586.00 456.90 L585.80 456.71 L585.40 456.71 L587.07 457.63 L586.58 457.98 L586.22 458.84 L586.34 459.88 L586.14 458.30 L586.75 458.48 L587.26 459.58 L586.90 458.06 L587.00 459.37 L587.64 459.34 L586.93 458.83 L586.97 460.79 L586.96 461.17 L587.60 461.10 L586.35 459.32 L587.70 460.10 L587.05 459.47 L587.48 457.97 L588.33 455.98 L587.59 459.42 L588.14 460.31 L588.48 461.30 L587.90 459.49 L588.18 458.46 L588.84 450.64 L587.13 452.54 L589.07 449.48 L589.00 448.00 L589.52 445.75 L588.82 447.22 L589.62 444.63 L589.45 449.20 L590.53 444.49 L590.00 444.57 L589.28 442.53 L590.14 442.62 L590.35 443.36 L590.10 442.49 L590.64 442.90 L590.11 441.99 L589.16 439.78 L590.40 438.00 L591.54 438.85 L590.19 440.43 L591.69 441.04 L591.21 441.59 L591.20 440.36 L591.39 441.27 L591.39 436.29 L592.26 436.92 L590.81 434.96 L591.56 435.43 L591.45 434.83 L590.94 434.67 L592.87 435.30 L591.86 434.58 L591.75 433.92 L591.93 433.56 L592.10 432.86 L592.34 434.19 L592.19 433.76 L592.40 432.90 L592.15 432.68 L592.81 434.41 L594.23 433.19 L592.79 437.82 L592.81 436.54 L593.09 435.14 L592.33 433.60 L592.99 437.95 L593.46 439.76 L593.64 441.37 L593.68 441.04 L593.59 440.55 L593.26 442.14 L594.17 441.74 L593.95 442.20 L594.00 444.00 L593.21 442.31 L593.92 443.28 L595.09 443.97 L595.83 443.85 L593.92 446.91 L596.06 445.77 L594.47 447.15 L594.87 445.16 L594.72 449.80 L595.47 449.16 L595.43 449.88 L596.16 452.44 L594.71 454.75 L595.74 455.75 L595.39 456.21 L595.60 457.10 L594.79 457.29 L596.42 457.29 L596.32 454.36 L596.50 455.03 L596.90 455.19 L595.98 456.39 L597.15 454.67 L597.35 456.25 L596.16 454.43 L596.27 454.62 L596.66 451.38 L596.64 451.00 L597.40 446.70 L597.00 446.00 L596.91 446.09 L596.79 444.27 L597.73 443.80 L597.57 444.92 L597.47 444.94 L596.89 446.36 L596.92 444.56 L597.92 445.36 L597.68 445.91 L597.43 441.90 L597.65 442.79 L599.29 443.93 L598.37 442.29 L597.75 443.30 L598.72 442.70 L598.54 439.83 L598.52 440.10 L599.04 438.69 L599.48 438.69 L599.00 438.90 L598.52 438.69 L598.88 439.84 L599.10 439.63 L599.69 439.69 L598.84 439.63 L599.53 438.96 L599.29 440.45 L599.65 441.02 L599.78 440.54 L600.67 439.86 L600.26 441.90 L599.95 443.31 L600.53 443.31 L600.40 443.10 L600.36 442.25 L601.24 441.24 L600.71 441.05 L600.54 437.55 L601.58 436.89 L600.76 436.86 L601.59 436.46 L600.62 435.07 L601.18 437.82 L601.30 434.95 L601.47 431.62 L601.48 433.51 L601.64 430.17 L602.32 425.99 L601.61 427.18 L602.00 428.00 L601.45 425.90 L601.15 430.78 L601.95 429.83 L602.06 424.18 L602.51 424.73 L601.69 424.94 L603.05 423.28 L602.24 422.21 L602.58 421.05 L602.24 420.19 L603.71 417.54 L603.45 416.80 L602.68 417.67 L603.73 418.47 L604.04 419.32 L603.60 416.00 L603.89 417.41 L604.22 414.41 L602.73 412.56 L604.03 411.49 L603.94 412.67 L604.07 412.62 L603.05 414.38 L604.59 416.31 L604.81 413.59 L604.88 410.97 L603.55 411.99 L605.48 410.07 L604.32 409.66 L605.91 409.66 L604.88 410.74 L604.99 411.61 L606.07 411.59 L605.40 409.90 L605.40 409.66 L605.98 411.33 L604.85 415.89 L605.27 417.23 L606.00 421.63 L606.03 424.22 L605.75 423.35 L605.98 423.02 L606.29 423.13 L606.40 426.00 L606.94 424.49 L606.60 426.61 L606.07 433.08 L606.80 433.07 L606.86 430.33 L606.81 426.25 L607.19 433.15 L607.22 437.36 L606.95 438.13 L607.40 438.10 L608.02 436.76 L607.65 434.76 L607.73 434.15 L607.49 434.68 L608.08 430.86 L608.36 433.24 L607.80 430.37 L608.06 427.34 L608.69 426.74 L607.97 423.96 L608.31 424.64 L608.60 424.00 L608.10 423.57 L608.35 423.05 L607.80 424.72 L608.68 423.13 L608.87 421.49 L610.52 421.02 L609.89 418.46 L609.29 423.94 L610.07 423.48 L610.25 420.94 L609.76 419.25 L609.85 418.80 L610.60 417.82 L609.40 419.83 L610.92 419.94 L609.44 418.73 L610.08 418.37 L610.40 416.90 L610.44 417.87 L610.43 417.23 L610.21 416.67 L610.43 417.29 L611.00 419.99 L611.28 420.75 L611.17 420.69 L610.91 421.74 L611.13 421.21 L611.02 422.04 L611.69 422.48 L611.05 420.76 L612.30 421.70 L612.23 422.47 L612.26 425.27 L612.00 424.00 L612.53 426.85 L612.02 427.52 L613.58 425.93 L612.40 426.65 L612.46 427.16 L613.24 427.19 L612.98 428.02 L612.22 430.64 L612.14 428.58 L612.66 429.38 L612.75 429.95 L613.12 430.79 L613.13 430.22 L613.62 429.67 L613.71 430.74 L613.60 431.10 L614.24 428.82 L613.99 429.84 L613.53 428.75 L614.30 428.70 L614.61 427.96 L613.53 428.46 L614.59 426.68 L615.22 429.88 L614.40 427.42 L614.66 428.83 L615.55 427.58 L614.26 427.22 L615.06 427.70 L615.35 426.73 L614.96 426.68 L614.83 426.68 L615.76 426.68 L615.63 427.75 L614.55 426.74 L615.60 426.90 L616.66 426.68 L615.12 426.68 L615.81 427.65 L616.90 428.38 L614.88 430.15 L616.86 430.16 L616.45 430.42 L617.11 430.56 L615.83 428.37 L616.67 428.58 L616.90 429.72 L616.31 429.30 L617.07 429.29 L616.95 428.88 L617.36 427.62 L616.79 428.75 L617.44 430.13 L616.58 431.00 L616.62 430.18 L617.45 432.08 L618.19 432.22 L617.92 432.74 L617.65 433.16 L618.00 433.10 L617.92 432.84 L618.29 432.06 L618.86 431.66 L617.60 431.74 L618.70 432.39 L618.43 431.68 L618.63 431.43 L617.57 431.16 L618.99 431.11 L619.70 431.23 L619.06 431.42 L618.23 431.89 L619.50 433.06 L619.05 431.82 L618.79 431.90 L619.65 431.32 L619.03 431.09 L619.69 430.68 L619.97 430.84 L620.00 430.90 L619.63 430.68 L620.43 430.68 L619.69 431.17 L619.47 430.96 L619.54 430.77 L619.93 430.86 L620.21 431.28 L620.53 431.12 L621.00 430.68 L620.62 431.32 L621.13 430.68 L621.04 431.32 L621.85 430.68 L621.77 431.32 L621.67 430.68 L621.45 430.78 L621.94 430.41 L622.29 431.32 L621.74 431.26 L622.00 431.10 L621.99 430.10 L622.60 429.29 L621.95 428.35 L622.22 427.00 L622.53 428.34 L621.97 427.71 L622.87 426.41 L623.07 426.60 L623.13 426.73 L622.52 427.44 L623.08 427.71 L623.10 425.12 L622.31 424.99 L623.61 424.08 L623.57 424.85 L623.60 424.00 L623.67 423.61 L623.83 423.62 L623.44 423.27 L623.74 420.99 L624.64 421.90 L623.78 420.95 L625.82 421.34 L623.98 421.97 L624.57 420.58 L624.78 421.23 L624.70 420.68 L624.59 421.68 L625.12 422.13 L625.10 422.76 L624.98 423.45 L625.29 422.83 L624.43 422.75 L626.46 422.05 L624.92 419.88 L625.86 421.67 L625.36 420.73 L625.21 420.01 L626.03 420.32 L626.00 420.00 L625.22 419.47 L626.14 419.46 L626.38 419.35 L625.78 419.31 L626.34 419.00 L627.34 416.88 L626.96 417.69 L627.27 417.38 L626.85 417.75 L626.78 416.41 L627.92 415.53 L627.35 418.60 L626.73 415.68 L627.44 416.05 L626.44 412.87 L627.60 415.59 L627.50 413.64 L628.25 413.53 L628.27 412.66 L626.64 412.66 L628.00 414.90 L628.69 413.70 L628.39 413.04 L628.40 412.90 L628.04 414.46 L629.29 416.98 L628.02 415.16 L629.23 416.25 L629.12 415.91 L628.65 415.31 L628.54 417.50 L629.02 418.30 L628.50 418.39 L630.20 419.50 L629.28 419.68 L629.95 418.37 L629.77 419.04 L629.32 419.72 L630.95 420.65 L630.00 420.00 L630.29 422.26 L630.17 421.95 L630.67 421.64 L630.99 424.08 L630.37 423.27 L630.77 424.07 L631.48 422.41 L630.98 422.29 L631.52 423.12 L631.28 422.09 L631.77 422.24 L631.07 423.60 L631.29 425.04 L631.93 425.11 L630.77 426.71 L631.60 427.10 L632.22 426.98 L632.08 426.95 L632.16 427.10 L631.19 427.19 L632.83 425.46 L632.42 425.91 L631.88 425.26 L632.36 427.32 L632.00 427.33 L632.96 427.33 L632.74 426.88 L632.81 426.96 L632.75 424.86 L633.53 423.77 L633.06 424.09 L633.51 423.77 L633.03 423.77 L633.23 423.77 L634.02 423.77 L633.60 424.00 L633.99 423.52 L633.86 423.74 L634.19 423.02 L633.87 423.05 L634.33 423.37 L633.95 422.34 L635.47 421.72 L634.52 420.49 L634.59 420.92 L634.83 423.49 L634.57 421.78 L635.33 419.98 L635.29 419.20 L635.57 419.68 L634.54 418.25 L635.24 420.48 L635.07 420.10 L634.66 421.75 L635.48 421.57 L635.38 420.92 L636.09 418.98 L635.37 418.73 L635.55 418.48 L636.00 418.00 L636.51 418.23 L635.78 417.59 L635.70 418.15 L635.99 416.14 L636.92 416.52 L636.37 415.86 L636.68 417.09 L636.76 415.95 L636.78 414.96 L637.03 415.66 L637.01 414.05 L637.98 414.85 L636.89 414.00 L638.51 413.39 L638.14 413.16 L637.09 413.78 L636.60 416.18 L637.09 413.61 L637.02 412.14 L638.00 412.00 L637.22 410.84 L637.38 409.97 L638.49 410.65 L638.87 412.24 L638.58 410.58 L639.01 407.22 L638.07 406.61 L638.05 404.73 L638.95 407.07 L637.79 405.89 L639.06 401.99 L639.64 402.40 L639.29 402.41 L640.26 403.35 L639.48 401.95 L639.60 400.00 L640.12 400.31 L639.85 404.92 L639.42 400.79 L640.90 400.03 L639.61 396.59 L640.72 396.27 L640.82 393.59 L640.52 391.25 L640.48 394.99 L640.47 389.75 L640.77 386.69 L642.18 387.77 L641.25 391.27 L641.00 390.00 L641.74 385.22 L639.76 386.12 L640.94 389.01 L641.21 390.05 L641.66 390.31 L641.04 389.15 L640.25 379.17 L641.76 384.37 L641.58 383.00 L642.47 381.94 L641.20 379.17 L642.20 378.00 L642.03 375.55 L642.78 375.23 L642.34 371.93 L642.75 369.03 L643.12 375.42 L643.08 374.06 L642.52 371.26 L643.00 368.00 L643.61 367.35 L644.44 369.18 L643.86 369.62 L643.63 367.04 L644.14 364.79 L642.67 359.28 L643.16 358.72 L645.04 358.05 L643.61 363.29 L643.02 363.66 L645.04 365.30 L644.37 363.59 L643.45 362.55 L642.65 360.01 L645.57 357.54 L644.83 357.39 L645.52 359.37 L645.07 358.89 L645.91 357.12 L645.00 356.00 L644.04 353.11 L645.11 354.40 L644.87 353.17 L644.86 347.86 L645.84 350.22 L646.11 346.20 L646.08 347.83 L646.64 348.75 L645.53 343.42 L646.23 339.75 L645.91 341.71 L646.71 343.92 L645.20 345.48 L645.78 340.06 L646.23 341.57 L646.60 340.00 L647.15 341.31 L645.18 343.91 L647.32 344.06 L646.97 343.00 L648.12 337.47 L647.47 333.59 L646.73 336.26 L646.84 336.15 L646.73 333.08 L648.31 332.43 L647.62 332.17 L647.81 330.88 L647.89 327.47 L648.00 324.90 L649.60 325.42 L648.32 324.57 L648.87 324.57 L648.79 324.57 L648.63 326.04 L647.97 328.20 L649.28 328.11 L648.19 330.51 L648.64 330.87 L649.39 328.91 L649.13 335.42 L651.11 335.42 L649.29 335.42 L650.06 335.42 L648.45 335.42 L649.60 335.10 L648.24 335.42 L649.87 331.25 L648.99 332.62 L650.80 329.98 L648.11 330.05 L649.83 333.59 L650.95 334.82 L650.76 329.16 L650.36 327.67 L649.98 318.38 L649.46 316.56 L650.43 317.18 L651.57 318.94 L651.00 316.90 L649.72 317.15 L651.37 316.56 L651.02 324.14 L651.40 328.25 L652.66 330.01 L651.25 325.68 L651.53 329.62 L651.45 322.90 L653.33 325.52 L651.48 331.45 L652.26 337.45 L650.79 338.40 L650.76 336.94 L652.40 341.10 L652.43 337.06 L651.13 335.78 L652.08 332.73 L653.58 335.92 L653.59 335.98 L652.71 329.09 L652.95 322.78 L652.26 319.67 L653.72 328.73 L653.47 328.17 L655.13 331.90 L654.07 331.98 L655.39 332.82 L654.48 328.08 L654.30 326.57 L654.00 320.00 L653.78 322.77 L655.54 323.85 L653.34 322.73 L654.00 329.31 L654.42 318.97 L654.44 320.03 L653.54 316.71 L653.80 315.75 L655.38 315.36 L653.83 312.51 L655.04 309.58 L655.22 307.07 L654.32 304.44 L655.40 303.90 L655.70 304.65 L655.56 305.45 L655.68 305.69 L656.48 307.75 L656.39 312.82 L656.53 313.37 L656.30 311.91 L656.13 311.81 L656.70 313.02 L656.40 315.10 L656.35 314.81 L656.14 313.94 L657.00 314.14 L656.27 310.07 L656.50 310.39 L657.14 312.92 L657.03 315.32 L657.31 310.01 L657.00 308.28 L656.80 306.25 L658.47 309.55 L657.60 309.90 L657.99 311.24 L658.12 309.61 L657.46 309.56 L659.25 318.54 L658.27 315.49 L658.06 319.49 L656.64 328.23 L658.40 332.00 L657.27 330.61 L658.44 326.99 L658.05 332.24 L658.61 324.89 L658.65 326.78 L659.19 326.11 L659.50 321.73 L659.05 333.59 L659.20 334.60 L659.74 334.87 L659.77 340.26 L659.60 344.00 L658.25 339.12 L660.68 339.58 L660.47 343.46 L659.01 347.48 L660.46 343.83 L660.31 354.51 L659.58 357.43 L660.40 361.10 L660.41 361.40 L662.24 361.40 L660.15 361.22 L661.15 361.40 L660.96 358.51 L662.51 353.10 L660.50 352.95 L660.84 358.85 L660.57 356.14 L662.27 353.75 L661.30 348.52 L662.27 342.17 L661.07 343.41 L661.33 341.95 L662.13 346.13 L662.00 340.90 L662.20 344.12 L660.86 342.66 L662.52 341.86 L663.85 347.11 L662.41 346.40 L662.34 350.77 L662.92 352.72 L662.14 352.43 L663.11 354.16 L663.69 352.65 L663.61 354.28 L661.76 355.40 L663.94 355.40 L662.82 355.40 L662.34 355.40 L663.60 355.10 L663.89 355.40 L663.83 352.07 L663.52 354.66 L663.78 351.22 L664.17 354.00 L662.51 349.79 L664.13 351.41 L664.25 346.13 L664.51 343.71 L665.17 344.00 L664.67 337.43 L665.04 330.31 L665.71 330.68 L665.00 330.00 L664.13 328.57 L664.09 329.90 L665.30 329.70 L664.11 328.57 L665.42 328.57 L666.52 328.57 L665.35 328.57 L666.28 328.57 L666.80 328.93 L666.03 329.60 L666.97 329.38 L667.60 330.99 L667.93 328.57 L666.50 330.22 L667.48 329.09 L666.60 328.90 L668.16 328.57 L667.15 328.57 L667.30 331.41 L667.38 331.77 L668.00 330.14 L666.75 332.65 L667.41 335.19 L667.91 336.43 L667.57 334.91 L666.67 339.65 L669.28 339.97 L667.31 339.23 L667.78 343.99 L668.00 345.10 L667.34 345.41 L668.36 343.49 L668.90 344.16 L668.15 345.42 L669.03 344.59 L669.09 344.05 L669.08 343.22 L667.51 340.21 L668.51 337.07 L668.82 334.46 L669.01 326.96 L669.58 329.74 L668.19 327.14 L669.40 326.90 L669.53 327.58 L670.19 331.55 L669.69 333.85 L668.58 334.34 L669.29 334.99 L669.73 334.74 L669.43 335.57 L669.84 334.91 L670.11 336.10 L669.65 339.92 L669.62 339.70 L670.81 336.28 L671.21 341.82 L670.72 343.30 L671.33 342.80 L670.13 341.71 L670.77 346.81 L671.29 345.59 L669.65 347.16 L671.40 347.10 L671.10 347.41 L672.08 347.41 L671.03 347.41 L673.06 346.98 L672.26 340.02 L671.78 334.18 L671.09 337.43 L671.59 340.83 L672.16 339.92 L671.65 338.63 L673.19 335.61 L671.08 331.32 L672.18 330.70 L673.12 332.81 L673.05 328.40 L673.00 328.00 L671.99 327.73 L671.85 326.45 L673.25 321.88 L673.66 321.06 L673.64 322.99 L674.39 322.29 L673.78 323.46 L672.45 324.31 L673.17 322.64 L673.76 323.38 L673.60 319.44 L674.84 318.39 L674.56 316.83 L674.08 319.97 L673.78 317.88 L675.94 318.60 L676.40 318.81 L673.56 316.44 L674.64 316.29 L675.00 314.90 L675.05 314.84 L675.64 316.76 L675.19 314.97 L675.63 315.12 L675.11 317.36 L676.20 317.52 L676.31 319.44 L674.36 319.44 L675.85 319.44 L676.19 319.44 L676.66 318.31 L676.59 319.44 L674.85 319.44 L676.40 319.10 L676.64 315.38 L678.00 314.73 L676.70 313.02 L676.50 309.00 L677.12 310.70 L677.85 307.47 L676.48 301.60 L677.82 302.01 L677.54 299.50 L678.40 297.75 L676.92 297.66 L677.60 297.90 L677.67 301.23 L677.54 303.74 L677.34 306.27 L679.41 310.06 L678.47 306.36 L678.12 311.28 L677.85 323.44 L678.38 318.12 L679.27 323.01 L678.60 323.10 L679.53 322.15 L678.43 323.44 L679.32 323.44 L678.40 323.44 L679.28 318.14 L679.54 316.75 L679.38 317.04 L679.14 320.36 L678.47 316.86 L678.06 312.72 L679.56 315.49 L679.49 312.94 L680.91 310.98 L680.00 310.90 L679.97 311.70 L680.36 310.83 L680.73 312.89 L679.37 314.15 L680.09 311.09 L679.49 310.56 L680.97 313.88 L679.79 313.98 L680.03 317.59 L680.72 316.38 L679.90 316.44 L680.55 317.74 L681.13 317.19 L681.44 316.37 L681.79 318.36 L681.60 318.10 L681.75 318.44 L682.16 317.56 L682.45 315.88 L681.69 315.18 L681.51 313.34 L682.30 314.59 L682.76 315.19 L682.21 311.66 L683.45 314.54 L683.22 311.98 L683.30 310.71 L682.75 309.66 L681.84 309.95 L684.37 310.50 L684.42 314.27 L683.02 315.17 L683.06 315.06 L682.58 309.14 L683.68 308.91 L683.60 310.00 L683.86 307.87 L684.72 308.92 L684.08 308.58 L683.22 310.30 L684.31 306.68 L683.70 305.72 L683.95 307.64 L683.52 306.61 L684.59 305.13 L685.93 302.75 L684.40 302.14 L684.25 301.66 L684.09 301.69 L685.00 302.00 L685.65 303.80 L685.13 303.35 L685.37 302.38 L685.62 301.54 L685.19 301.80 L685.25 301.93 L685.50 301.96 L685.95 301.54 L686.53 302.07 L685.55 302.16 L686.03 301.97 L686.71 301.71 L686.79 301.54 L686.54 302.63 L686.32 301.54 L686.46 301.93 L687.45 304.34 L686.47 303.04 L686.08 301.54 L687.00 301.90 L687.48 302.30 L687.99 303.94 L687.65 305.17 L688.09 305.20 L688.16 304.07 L687.72 301.55 L687.86 301.63 L688.01 301.55 L688.41 301.55 L688.42 301.55 L687.73 305.28 L688.85 305.99 L688.20 307.18 L688.40 308.00 L688.71 311.65 L689.94 308.34 L688.35 310.98 L690.60 315.92 L689.03 316.57 L688.00 312.33 L688.30 319.94 L688.22 325.46 L690.17 326.14 L689.09 320.51 L688.35 322.66 L689.60 330.00 L689.31 328.71 L690.32 331.21 L690.30 341.42 L688.65 343.44 L690.97 344.53 L691.82 342.39 L690.24 341.10 L689.19 345.20 L690.06 351.08 L690.60 358.10 L690.73 353.00 L691.10 353.23 L690.98 351.95 L691.59 354.37 L690.63 354.20 L690.56 354.13 L691.88 354.04 L691.55 352.96 L691.53 351.71 L691.26 340.51 L692.37 341.68 L691.65 345.49 L691.44 342.84 L692.00 340.00 L692.23 338.45 L691.44 338.13 L691.61 337.74 L691.74 336.71 L693.17 335.90 L692.68 332.89 L693.23 330.73 L693.11 329.50 L693.39 328.19 L693.62 328.87 L692.09 328.38 L693.19 323.74 L692.83 323.57 L693.40 323.90 L692.60 324.49 L693.17 326.72 L694.11 328.01 L693.99 327.68 L693.68 334.56 L693.05 337.54 L693.37 340.89 L694.14 340.78 L694.24 341.05 L694.25 342.61 L694.09 342.92 L694.60 343.10 L693.88 343.41 L695.23 343.20 L695.94 342.79 L694.81 344.51 L693.73 339.83 L696.24 337.97 L694.98 340.58 L695.81 342.87 L696.17 337.16 L695.60 332.90 L695.02 337.60 L695.59 339.36 L695.98 347.36 L696.03 347.22 L694.73 350.93 L696.09 355.99 L696.68 355.03 L696.57 355.10 L694.76 360.72 L697.35 361.40 L696.66 363.74 L696.06 357.88 L697.73 361.27 L697.00 365.10 L697.97 363.80 L696.95 359.38 L696.71 359.55 L697.63 361.91 L697.68 365.40 L697.52 361.02 L697.39 354.69 L696.20 355.95 L697.23 349.78 L697.85 348.73 L697.84 350.11 L697.97 350.16 L698.50 346.71 L698.40 346.90 L697.38 346.59 L698.73 351.82 L700.13 347.09 L699.96 351.77 L699.09 356.70 L699.23 363.67 L698.95 355.24 L699.34 354.67 L699.88 356.27 L698.73 355.34 L700.28 364.01 L699.60 366.00 L699.14 370.95 L700.42 381.09 L701.33 377.48 L699.36 384.61 L700.97 386.24 L700.84 390.57 L699.25 390.29 L700.40 384.00 L699.66 395.47 L701.06 396.89 L700.91 402.03 L701.65 402.03 L700.60 404.25 L701.00 407.10 L700.52 399.33 L700.49 400.76 L702.86 402.88 L700.81 400.17 L701.34 406.63 L702.58 402.38 L701.14 401.20 L701.83 402.71 L701.92 405.44 L702.11 401.25 L701.81 397.94 L701.39 398.16 L702.97 393.50 L702.40 390.90 L702.06 390.83 L703.19 390.64 L702.56 393.81 L702.44 391.45 L702.43 400.10 L702.77 402.68 L703.26 400.53 L702.81 393.64 L702.62 395.35 L703.40 396.00 L704.02 394.28 L705.08 400.21 L704.26 406.21 L704.49 407.12 L703.00 408.99 L703.70 415.28 L704.41 413.37 L704.35 416.91 L705.07 417.94 L704.40 419.10 L703.91 418.43 L704.49 415.50 L705.35 414.71 L704.02 410.91 L704.26 407.35 L705.34 404.26 L705.79 406.47 L705.48 404.12 L705.89 403.49 L706.52 403.40 L704.44 403.94 L706.76 401.60 L705.62 399.54 L705.11 397.81 L705.69 395.30 L706.00 399.00 L706.04 396.37 L706.89 395.05 L706.77 394.27 L706.64 402.86 L706.84 395.49 L706.71 398.06 L705.39 399.26 L707.37 396.93 L707.23 396.92 L706.77 394.44 L705.23 396.78 L707.83 392.40 L707.44 385.84 L708.77 383.70 L707.95 385.04 L707.60 386.00 L707.47 384.74 L708.98 386.50 L707.45 382.42 L706.41 375.41 L708.40 377.59 L708.10 380.64 L708.55 378.55 L707.80 376.90 L707.90 376.25 L708.60 374.00 L707.92 371.72 L708.76 372.68 L708.78 372.98 L708.39 373.13 L710.39 372.78 L709.48 370.01 L709.49 370.76 L709.70 369.63 L709.77 369.62 L708.99 369.62 L709.16 370.30 L708.83 369.62 L710.08 370.10 L710.00 369.90 L708.49 370.69 L708.51 372.29 L709.52 373.10 L710.30 376.32 L710.97 373.91 L710.54 375.67 L711.49 375.09 L711.47 375.98 L711.66 373.01 L711.77 375.48 L710.85 372.45 L710.83 375.29 L710.27 377.89 L711.40 378.00 L710.82 379.98 L711.08 379.31 L711.03 385.16 L711.49 386.31 L711.61 389.33 L712.16 391.30 L713.20 393.20 L710.48 390.19 L712.03 388.33 L712.40 391.00 L711.35 390.43 L713.25 393.01 L712.35 394.73 L711.87 394.92 L712.25 395.80 L714.19 397.26 L712.67 394.94 L712.68 395.27 L713.32 396.94 L712.86 397.26 L713.67 395.56 L714.05 395.05 L714.40 394.55 L713.25 397.26 L714.38 396.29 L714.00 397.00 L712.66 398.74 L714.70 398.14 L714.00 400.38 L714.39 400.77 L714.31 401.81 L714.94 404.54 L715.52 403.49 L714.37 406.40 L714.79 407.36 L715.66 410.11 L715.07 407.64 L715.39 405.37 L713.47 402.78 L714.32 406.13 L716.51 404.16 L715.23 405.29 L714.54 403.00 L716.68 409.71 L716.56 409.81 L716.00 410.00 L716.08 409.92 L714.89 410.12 L716.63 409.76 L716.50 410.49 L717.45 410.96 L716.59 409.76 L716.63 409.76 L716.43 409.94 L718.21 409.77 L718.01 414.11 L716.83 414.83 L717.83 418.05 L717.75 419.04 L717.24 424.82 L718.06 424.52 L717.60 424.00 L718.32 422.92 L717.17 432.58 L717.38 445.74 L720.40 438.12 L717.53 443.60 L718.62 439.03 L718.71 433.19 L717.99 434.80 L718.07 440.59 L718.60 440.00 L718.70 440.32 L719.06 452.38 L719.17 439.38 L719.24 433.41 L720.48 450.62 L718.90 462.41 L719.12 467.16 L719.40 456.00 L718.62 471.09 L721.69 470.49 L720.11 463.46 L719.68 466.53 L719.40 477.59 L720.00 476.00 L718.79 478.28 L721.29 478.90 L720.17 485.57 L720.62 495.72 L720.20 493.17 L720.60 497.10 L720.90 493.51 L721.37 490.72 L720.28 486.54 L721.26 489.74 L720.14 491.26 L721.30 496.35 L721.16 491.34 L722.41 481.14 L722.27 480.87 L721.60 478.90 L721.37 478.29 L721.66 481.41 L721.95 480.76 L721.94 479.23 L722.24 483.07 L721.72 484.12 L722.82 485.38 L721.34 484.44 L723.12 486.35 L723.02 487.55 L722.67 485.73 L722.48 486.46 L723.28 486.23 L723.00 487.10 L723.82 484.53 L723.13 482.29 L723.40 483.00 L723.35 481.85 L723.53 481.06 L723.57 478.36 L722.96 479.15 L723.70 477.68 L723.85 475.54 L724.00 474.00 L724.18 472.04 L723.82 473.52 L723.51 473.31 L723.70 474.06 L725.24 473.23 L724.68 476.33 L724.83 470.72 L725.32 470.72 L725.45 470.72 L726.20 474.58 L725.52 471.50 L725.11 473.51 L724.93 471.05 L725.40 470.90 L725.15 472.46 L726.21 474.96 L725.59 479.06 L725.28 480.88 L725.33 482.31 L725.55 480.72 L725.80 475.05 L726.37 477.67 L726.45 482.35 L727.14 487.88 L725.78 486.86 L726.60 490.00 L727.28 489.50 L727.34 488.92 L726.61 486.49 L727.15 491.85 L726.65 495.98 L727.33 498.10 L727.39 497.19 L727.80 494.82 L727.49 497.11 L727.84 498.99 L726.98 500.62 L727.25 497.89 L727.81 498.52 L728.00 498.00 L728.15 500.39 L728.12 499.28 L728.38 497.02 L728.54 498.96 L728.08 498.37 L728.82 499.41 L728.76 501.36 L729.60 504.30 L728.82 506.24 L729.08 503.59 L729.78 504.76 L729.11 505.79 L729.26 504.72 L729.40 506.10 L729.45 505.08 L729.49 505.66 L730.22 499.72 L729.32 500.51 L729.16 500.90 L729.87 499.15 L730.45 499.82 L730.39 496.16 L730.87 495.59 L730.40 490.00 L731.08 486.64 L730.01 481.75 L730.56 484.28 L730.73 488.09 L730.86 491.94 L731.44 490.83 L731.73 486.61 L731.35 485.16 L730.69 489.40 L731.09 487.31 L731.75 483.71 L731.60 480.00 L731.99 483.21 L731.40 483.90 L731.64 481.73 L731.65 481.63 L733.08 480.56 L732.31 479.13 L732.63 477.37 L732.35 481.72 L732.07 477.57 L731.82 478.95 L732.76 479.20 L732.71 477.43 L733.21 474.92 L733.00 474.00 L733.35 474.52 L732.86 475.39 L733.18 475.18 L732.66 473.10 L732.88 470.55 L733.52 470.67 L733.34 471.94 L733.45 471.61 L734.41 471.34 L733.67 470.72 L733.86 470.79 L733.81 472.67 L733.81 470.51 L734.40 468.00 L734.48 468.55 L733.89 469.17 L734.62 467.09 L733.95 465.74 L735.05 465.53 L734.44 467.36 L733.99 464.71 L736.71 465.00 L735.32 464.32 L735.93 463.32 L735.39 463.64 L734.47 460.71 L735.58 460.71 L736.10 461.18 L735.75 461.38 L736.00 460.90 L736.07 462.80 L736.90 463.86 L735.78 465.18 L736.29 461.01 L736.39 465.19 L735.44 468.17 L737.11 467.62 L735.64 467.10 L736.39 465.59 L736.26 465.78 L737.11 467.38 L737.19 465.76 L736.56 470.38 L737.50 471.39 L737.48 473.99 L737.60 475.10 L738.38 471.99 L737.32 472.82 L738.03 467.65 L738.67 465.19 L738.52 462.75 L738.67 465.82 L738.97 465.37 L738.62 463.92 L738.19 459.82 L739.05 459.82 L739.07 460.25 L738.39 460.56 L739.58 460.45 L739.00 460.00 L738.19 457.52 L738.87 459.13 L740.05 458.93 L740.10 457.72 L739.53 458.33 L739.06 456.61 L739.68 457.68 L740.00 458.26 L740.38 456.68 L740.42 458.61 L740.29 457.26 L740.73 458.36 L740.35 457.72 L739.60 456.69 L740.24 456.38 L740.98 455.71 L740.98 455.71 L740.92 455.93 L740.64 456.83 L741.00 455.90 L740.10 456.64 L741.51 456.56 L741.06 456.43 L741.02 455.85 L741.64 456.38 L740.77 456.49 L741.74 458.82 L741.75 460.38 L741.70 459.69 L742.03 460.61 L741.48 461.17 L742.03 459.78 L741.87 460.51 L743.26 463.28 L742.80 463.00 L743.06 462.33 L743.55 462.30 L743.18 463.27 L743.46 463.62 L743.00 462.00 L742.98 464.00 L742.32 463.45 L742.42 464.77 L743.26 465.12 L743.68 467.42 L743.74 466.63 L744.16 468.35 L742.54 465.02 L743.30 466.17 L743.61 466.67 L744.10 468.18 L743.95 470.05 L744.04 470.92 L744.40 471.10 L744.80 471.28 L744.78 470.79 L744.19 471.28 L744.35 471.28 L745.39 470.65 L744.68 471.28 L744.35 471.28 L745.63 471.28 L745.37 470.07 L745.91 469.13 L745.03 469.54 L744.34 468.72 L745.51 470.10 L745.80 470.25 L746.63 471.22 L746.00 468.90 L746.36 469.41 L746.19 468.96 L745.91 473.20 L746.43 473.52 L746.16 473.05 L747.28 471.58 L747.03 472.68 L746.38 474.65 L747.10 477.85 L746.93 478.35 L746.15 479.75 L746.98 482.44 L746.89 480.08 L747.35 480.82 L747.68 480.71 L747.60 484.10 L747.38 482.18 L747.83 481.44 L747.99 480.12 L747.98 480.95 L747.39 476.39 L748.50 476.57 L749.34 478.05 L748.75 477.06 L748.16 476.08 L748.45 476.52 L748.27 475.17 L747.83 474.16 L749.02 474.10 L749.00 470.00 L749.78 472.97 L748.87 475.33 L748.63 473.54 L749.09 471.36 L748.78 468.42 L749.78 467.77 L748.71 464.03 L749.66 466.50 L749.13 464.72 L749.78 465.87 L750.10 460.85 L750.52 461.21 L750.07 459.65 L750.31 459.37 L750.36 459.03 L750.60 458.90 L750.13 458.71 L751.69 458.71 L750.75 458.71 L750.94 458.71 L750.99 458.71 L752.02 460.05 L751.23 459.74 L751.47 460.89 L751.65 462.46 L751.53 462.65 L751.61 465.16 L751.73 465.63 L752.63 468.47 L752.00 469.10 L752.01 468.22 L752.75 466.73 L752.81 466.91 L752.36 465.88 L752.56 464.15 L752.50 466.07 L752.39 467.85 L752.48 467.15 L752.56 466.27 L753.34 468.17 L753.26 467.59 L752.77 467.85 L752.24 465.82 L753.75 465.91 L753.05 465.82 L754.46 467.25 L753.51 466.70 L753.61 467.36 L753.08 466.30 L754.00 466.00 L754.44 464.41 L754.05 463.57 L755.24 461.19 L753.80 461.59 L753.35 461.37 L754.98 460.93 L754.91 458.77 L753.86 458.04 L754.18 458.48 L755.06 457.72 L754.75 457.90 L755.31 455.73 L755.09 453.85 L754.74 455.76 L756.04 455.85 L755.60 456.00 L755.85 456.19 L755.29 457.28 L756.81 454.39 L755.98 456.00 L756.10 456.18 L755.28 455.99 L756.86 455.37 L755.92 455.88 L757.42 455.03 L756.68 454.91 L757.03 454.07 L757.25 453.20 L756.69 454.30 L757.33 454.47 L756.30 453.04 L757.20 451.90 L757.57 453.12 L757.34 452.96 L757.94 452.85 L757.58 452.33 L757.93 452.09 L757.54 456.51 L756.96 458.93 L757.82 458.57 L759.95 463.70 L757.85 463.33 L757.79 460.79 L758.40 460.00 L758.42 462.31 L758.61 460.86 L758.16 463.41 L758.66 466.61 L758.65 468.56 L759.72 468.55 L760.08 468.04 L759.98 468.57 L759.61 466.00 L760.46 464.79 L760.04 467.68 L760.45 468.04 L759.44 468.71 L758.78 469.99 L759.45 470.82 L760.00 474.00 L760.47 473.44 L759.52 473.27 L760.63 474.13 L760.63 472.56 L760.56 475.48 L761.51 475.99 L761.03 476.06 L760.94 475.62 L761.24 475.71 L760.76 475.95 L760.81 477.01 L760.89 476.46 L760.99 477.24 L761.70 477.34 L761.90 477.20 L761.76 477.11 L761.65 477.75 L761.72 477.92 L761.82 477.98 L762.00 478.00 L762.08 478.34 L761.96 477.95 L763.05 478.57 L762.36 478.15 L762.83 478.10 L762.68 478.52 L762.45 479.00 L762.74 479.05 L762.44 480.15 L762.43 479.39 L763.01 480.09 L762.90 480.57 L763.41 478.42 L762.62 478.71 L763.19 479.53 L763.42 479.26 L763.50 480.97 L763.58 481.46 L763.91 481.63 L764.00 482.00 L764.25 482.00 L763.89 482.36 L764.14 481.95 L764.55 482.66 L764.85 482.71 L764.67 483.61 L764.49 484.19 L764.54 483.28 L765.23 483.27 L765.37 483.69 L764.25 483.30 L764.74 484.81 L765.30 484.23 L764.92 483.59 L765.60 484.07 L766.23 484.16 L765.24 484.22 L765.73 484.16 L764.83 485.26 L766.00 485.10 L765.62 484.08 L765.87 485.26 L766.63 484.50 L765.98 485.26 L766.12 482.20 L767.03 482.85 L766.99 483.83 L766.83 483.47 L766.20 482.24 L766.86 482.50 L768.08 482.63 L767.19 481.58 L767.22 481.02 L767.21 481.81 L768.02 481.54 L767.85 481.29 L767.71 480.94 L767.82 480.78 L768.47 480.78 L768.00 480.90 L768.01 481.34 L768.56 480.73 L768.46 480.73 L768.75 480.83 L768.73 480.80 L768.85 481.61 L768.57 481.46 L768.79 481.59 L769.00 482.28 L768.45 481.83 L769.31 481.93 L769.41 482.66 L769.20 482.94 L769.18 482.58 L770.08 482.43 L769.37 482.00 L769.76 481.84 L769.88 482.20 L770.31 483.00 L770.00 483.10 L770.98 482.77 L769.51 483.27 L770.60 483.27 L770.42 481.55 L770.36 479.56 L770.58 479.86 L770.93 479.80 L770.86 479.78 L770.69 478.06 L771.28 477.39 L770.72 477.70 L770.57 475.79 L772.12 476.26 L771.59 478.88 L771.14 479.09 L771.47 478.52 L771.06 474.87 L772.13 476.45 L772.11 475.30 L772.00 474.00 L771.63 473.81 L772.42 471.97 L772.08 473.49 L772.53 474.14 L771.99 472.62 L772.50 473.37 L772.59 471.62 L772.89 470.35 L772.56 472.94 L772.12 471.92 L773.38 471.90 L772.42 470.22 L772.82 469.27 L773.52 468.84 L773.67 468.25 L773.86 469.14 L774.11 469.90 L773.70 468.92 L774.19 469.05 L774.00 468.00 L774.19 468.18 L773.49 468.18 L774.30 468.18 L774.46 468.18 L774.04 467.46 L774.96 466.98 L774.68 466.03 L774.81 466.61 L773.90 467.01 L775.01 465.94 L774.99 465.84 L775.08 466.03 L775.58 464.59 L775.85 464.93 L775.82 464.77 L775.55 464.39 L776.29 463.85 L776.01 464.71 L775.71 464.50 L776.00 464.00 L776.03 464.18 L775.84 463.93 L775.70 462.80 L775.67 463.77 L776.93 464.17 L776.49 462.56 L776.78 462.17 L776.33 461.63 L776.62 458.18 L777.32 459.54 L777.36 456.77 L777.15 460.34 L777.72 461.69 L777.18 460.34 L777.65 458.74 L777.93 460.13 L777.68 460.23 L777.52 460.75 L778.14 458.90 L778.27 458.82 L779.12 456.43 L778.58 456.50 L778.60 456.39 L778.40 455.90 L778.27 457.83 L778.72 461.83 L778.90 460.97 L779.61 460.22 L778.36 457.67 L779.50 455.71 L779.28 455.71 L779.52 455.71 L779.49 457.37 L779.29 464.19 L779.71 468.24 L779.60 466.00 L780.30 468.07 L778.86 477.69 L780.21 482.83 L780.23 486.06 L779.86 492.18 L779.25 484.06 L780.25 486.89 L780.40 493.10 L781.01 492.54 L780.64 491.03 L780.92 490.38 L780.82 488.84 L780.53 487.32 L780.93 483.16 L781.00 484.24 L781.65 484.47 L780.94 479.75 L780.81 479.26 L781.37 479.83 L781.60 476.90 L782.16 476.73 L781.65 476.73 L781.65 476.73 L782.52 477.21 L782.67 477.35 L782.40 478.46 L782.06 479.62 L782.89 477.75 L782.71 478.57 L782.58 480.17 L783.62 479.30 L782.27 479.66 L782.77 479.86 L782.93 480.17 L782.28 480.17 L783.27 480.17 L783.53 480.17 L783.67 480.17 L783.56 480.17 L783.60 480.00 L784.56 480.80 L783.69 480.26 L784.20 482.38 L783.94 481.08 L784.12 480.98 L783.88 481.43 L784.54 481.16 L784.35 481.53 L784.20 481.13 L784.55 482.19 L784.65 481.49 L784.88 482.61 L784.81 482.68 L784.89 481.43 L784.67 482.87 L785.47 482.05 L785.51 483.01 L785.39 483.37 L786.10 484.26 L785.60 484.10 L785.43 483.80 L785.68 483.58 L786.10 482.79 L786.07 483.42 L786.02 483.08 L786.57 484.27 L785.86 482.94 L786.61 483.42 L787.26 480.88 L787.02 479.89 L786.66 477.40 L786.63 476.41 L787.59 477.10 L787.11 476.03 L787.52 477.46 L786.71 478.88 L787.12 476.38 L787.48 478.45 L787.40 477.94 L787.53 477.26 L787.92 476.41 L787.84 476.51 L787.14 476.11 L788.00 474.90 L787.21 475.28 L787.79 475.67 L788.33 476.52 L789.03 477.21 L788.58 476.51 L788.87 478.99 L788.77 479.61 L789.34 478.82 L789.21 478.95 L789.52 477.78 L789.15 479.60 L789.27 481.59 L788.77 483.80 L789.05 482.83 L789.25 483.84 L789.60 484.00 L789.89 482.87 L789.64 483.98 L789.65 483.84 L789.81 484.92 L790.53 484.50 L790.09 486.09 L790.39 487.20 L789.93 487.58 L790.35 486.76 L790.75 488.42 L790.81 490.10 L790.51 491.65 L790.13 492.75 L791.00 494.00 L790.65 493.24 L790.71 492.52 L791.62 492.78 L791.15 491.37 L791.24 490.16 L791.49 491.05 L791.64 493.85 L791.63 493.85 L791.52 494.55 L792.74 495.40 L792.32 495.68 L791.75 494.21 L792.59 495.69 L792.38 495.66 L792.53 496.29 L792.48 496.39 L792.92 496.91 L792.07 497.25 L792.53 497.18 L793.00 497.10 L793.13 496.19 L792.71 496.44 L794.06 497.23 L792.91 497.01 L793.51 497.25 L793.52 496.06 L793.41 497.25 L794.04 495.90 L794.17 495.58 L794.42 495.47 L794.27 495.17 L794.22 495.14 L794.21 494.75 L794.63 494.95 L794.70 495.07 L794.27 495.70 L794.17 495.20 L794.53 494.93 L794.86 495.28 L795.00 494.90 L795.47 494.75 L795.40 495.69 L795.21 495.89 L795.59 495.80 L795.57 496.82 L796.20 496.84 L795.74 497.95 L795.83 497.73 L795.94 497.39 L796.15 497.44 L796.25 500.69 L796.44 501.37 L796.45 500.07 L796.31 500.86 L796.31 502.16 L796.34 500.44 L797.08 499.95 L797.29 501.36 L797.18 504.24 L796.81 503.53 L796.94 502.30 L797.12 502.85 L797.28 502.96 L797.20 503.25 L797.39 503.60 L797.60 504.10 L797.49 503.89 L797.90 503.44 L797.90 503.20 L798.33 502.85 L797.86 503.68 L798.38 503.83 L798.04 503.69 L798.31 502.50 L798.58 502.94 L798.09 502.99 L798.61 502.93 L798.76 504.24 L799.12 503.53 L798.71 502.38 L799.64 501.71 L799.16 502.00 L799.73 501.88 L799.09 500.95 L798.96 500.23 L799.60 500.00 L799.67 499.41 L799.61 499.33 L799.85 499.91 L799.69 499.78 L800.15 498.98 L799.76 498.94 L800.12 499.22 L800.69 499.11 L800.25 498.15 L800.91 498.53 L800.98 498.32 L800.74 498.01 L800.70 499.24 L801.37 500.15 L800.96 500.15 L801.31 499.49 L801.39 499.45 L801.54 499.77 L801.84 499.07 L801.60 498.00 L801.52 498.15 L802.63 498.15 L802.12 498.15 L801.80 496.85 L801.71 493.70 L801.93 490.80 L801.82 492.38 L801.89 493.35 L802.17 493.21 L802.61 494.32 L801.95 490.28 L803.13 488.06 L802.72 486.42 L803.00 486.00 L802.64 483.87 L803.95 484.33 L803.97 481.81 L803.77 480.12 L803.82 484.64 L803.90 485.69 L803.61 483.65 L803.78 482.30 L803.65 481.81 L804.16 481.76 L804.35 482.23 L804.46 483.24 L804.27 481.36 L804.40 480.00 L804.01 478.94 L804.64 479.75 L804.92 477.54 L804.89 477.42 L805.04 475.60 L804.82 475.50 L805.54 476.63 L804.81 476.48 L805.41 476.47 L805.42 475.11 L805.85 475.55 L805.69 474.73 L804.98 474.73 L806.03 474.73 L805.64 476.15 L806.00 474.90 L806.15 474.73 L806.08 474.79 L806.37 474.96 L806.16 476.89 L806.75 475.52 L806.12 478.10 L806.63 478.06 L806.80 477.97 L807.13 478.50 L806.95 480.33 L808.02 481.19 L807.16 483.29 L807.77 484.51 L807.53 482.81 L807.33 482.16 L807.60 484.00 L807.90 485.55 L807.83 484.99 L807.39 484.37 L808.04 485.55 L807.88 486.84 L808.59 488.32 L808.53 487.67 L807.13 490.66 L808.51 493.54 L808.04 492.03 L809.15 492.21 L808.36 492.24 L808.91 492.83 L809.00 494.00 L808.85 494.30 L809.11 495.95 L809.48 496.27 L809.22 496.90 L809.58 493.87 L809.93 491.94 L809.30 494.24 L810.29 495.67 L809.30 494.26 L810.00 495.60 L809.93 498.81 L809.89 502.33 L810.03 502.27 L810.96 501.78 L810.42 502.52 L810.73 502.88 L810.98 503.24 L810.96 505.83 L811.12 505.75 L811.00 506.10 L811.17 506.24 L811.06 505.70 L811.02 504.33 L811.35 504.29 L811.48 505.65 L811.84 504.35 L812.33 501.90 L811.44 501.24 L812.43 501.93 L812.08 503.21 L812.24 500.53 L812.30 498.70 L812.32 496.83 L812.80 496.05 L812.84 494.77 L812.22 494.93 L812.56 493.62 L813.01 494.29 L812.98 494.19 L813.00 492.90 L813.07 492.75 L813.26 492.75 L813.23 493.19 L813.67 493.63 L814.04 495.63 L813.58 495.95 L813.70 497.16 L813.89 497.51 L813.54 499.23 L814.36 501.28 L813.73 502.36 L814.27 502.66 L814.56 502.92 L814.40 503.10 L814.80 502.78 L815.06 501.40 L814.79 501.53 L814.71 501.47 L815.30 501.06 L814.78 498.56 L815.03 500.72 L815.77 500.80 L815.22 499.96 L815.34 498.77 L815.29 499.34 L815.91 497.54 L815.68 496.75 L816.29 498.10 L815.66 497.32 L815.76 498.06 L816.76 497.78 L816.29 497.49 L816.74 497.12 L816.40 496.90 L816.19 497.28 L816.34 497.79 L816.65 497.46 L816.08 497.54 L816.49 497.25 L817.38 497.51 L817.33 498.36 L817.07 499.04 L817.57 499.17 L817.80 501.14 L817.42 500.97 L817.87 500.19 L817.90 499.79 L817.49 499.98 L818.29 500.47 L818.00 501.10 L817.90 500.26 L817.82 500.64 L818.31 500.16 L818.23 500.58 L818.81 501.25 L818.95 501.25 L818.71 500.35 L819.21 500.58 L818.47 499.67 L818.81 498.35 L818.84 498.67 L819.35 498.46 L819.04 498.22 L819.48 498.85 L819.63 498.76 L819.28 497.64 L819.40 497.12 L819.53 497.18 L820.25 496.75 L820.00 496.90 L820.25 497.16 L819.93 496.75 L819.97 496.75 L820.70 497.56 L820.58 498.47 L820.85 498.19 L820.56 499.13 L821.10 498.63 L820.62 497.96 L820.89 499.12 L820.97 498.52 L821.41 498.68 L822.00 499.02 L821.35 500.19 L822.44 500.80 L821.35 501.25 L821.75 501.25 L821.97 501.25 L821.75 501.25 L822.00 501.10 L822.21 500.33 L822.12 501.22 L822.57 501.25 L822.29 501.25 L821.91 500.99 L823.03 500.66 L822.70 499.37 L823.10 495.70 L823.14 494.40 L822.66 493.66 L823.43 492.62 L823.47 494.90 L823.18 492.17 L823.21 492.09 L823.29 491.74 L823.60 492.00 L822.89 489.17 L823.25 488.41 L824.35 487.83 L823.92 486.01 L823.45 485.16 L823.88 482.16 L824.39 481.40 L824.12 480.83 L824.94 480.73 L825.08 482.48 L824.90 483.21 L825.19 483.75 L824.88 480.79 L825.00 480.00 L824.70 482.30 L825.06 478.23 L825.31 477.12 L825.17 475.95 L825.25 473.62 L825.46 473.98 L825.90 473.63 L825.60 473.49 L825.32 472.80 L826.19 470.02 L826.34 473.92 L825.93 471.66 L826.66 471.10 L826.40 470.00 L826.01 470.36 L827.13 469.86 L826.55 469.51 L827.22 467.59 L827.16 464.22 L826.71 462.00 L826.68 465.59 L827.07 466.80 L827.56 465.84 L827.28 467.44 L826.81 465.81 L827.24 467.61 L827.76 462.83 L828.20 462.69 L827.92 460.56 L828.00 460.00 L828.88 462.19 L828.03 459.92 L828.42 461.65 L828.57 461.10 L828.12 456.30 L828.55 454.90 L828.41 453.85 L828.92 455.59 L828.31 457.31 L829.27 455.80 L828.98 453.46 L829.35 454.53 L829.35 452.84 L829.49 454.03 L829.38 451.79 L829.60 450.00 L829.27 451.28 L829.48 450.47 L830.58 451.22 L829.23 447.01 L830.41 446.91 L830.21 445.76 L829.40 447.01 L831.39 445.28 L830.35 446.89 L830.41 447.97 L830.80 446.78 L830.75 445.18 L831.58 442.69 L831.00 442.90 L830.37 444.48 L830.62 444.08 L831.46 444.79 L830.92 445.53 L832.05 445.66 L831.13 448.86 L832.03 449.21 L831.92 449.30 L831.86 449.30 L832.39 449.30 L831.79 449.30 L832.12 448.92 L831.77 449.30 L832.40 449.10 L832.97 440.21 L833.24 439.84 L833.07 437.32 L832.92 427.83 L832.70 425.57 L833.00 424.00 L833.45 419.92 L832.24 421.17 L832.43 422.06 L834.12 418.52 L834.31 423.90 L834.01 410.20 L832.01 423.20 L834.15 419.21 L833.58 415.52 L834.00 414.00 L833.27 418.84 L833.14 418.33 L834.37 414.11 L834.81 415.23 L834.68 408.69 L835.09 407.14 L835.10 405.42 L834.70 401.56 L835.08 402.75 L834.63 403.02 L835.01 403.12 L835.89 401.59 L835.12 400.33 L835.40 399.90 L834.78 403.02 L835.52 408.08 L836.41 405.06 L835.70 415.75 L835.78 418.29 L835.79 413.81 L835.49 411.00 L836.88 417.94 L835.70 421.36 L836.40 420.00 L837.26 422.31 L836.58 423.59 L836.89 426.20 L837.54 426.74 L837.18 435.16 L836.81 430.33 L836.65 428.00 L836.63 425.56 L836.53 433.83 L836.69 437.94 L837.33 440.60 L837.60 441.10 L838.07 436.62 L838.12 436.28 L837.80 434.31 L837.16 432.99 L838.38 435.73 L838.46 434.57 L837.82 426.23 L838.97 427.58 L838.73 427.19 L839.04 427.04 L839.83 422.59 L839.19 420.08 L838.17 413.90 L839.00 410.90 L838.46 413.09 L840.83 415.50 L839.31 414.26 L840.62 416.40 L839.42 421.12 L839.57 423.37 L838.93 416.87 L840.10 419.01 L840.13 417.95 L839.97 425.85 L840.09 426.14 L841.10 423.79 L840.43 422.87 L840.40 422.00 L840.34 422.51 L841.02 421.55 L840.54 422.37 L841.65 423.13 L841.87 422.98 L840.64 426.61 L841.73 426.32 L841.13 426.16 L842.03 426.35 L841.23 426.99 L842.07 428.44 L841.70 429.31 L841.82 428.14 L842.56 427.56 L841.29 427.80 L842.00 429.10 L842.19 427.23 L841.66 426.48 L842.84 423.41 L842.37 422.49 L841.76 419.11 L842.17 415.97 L842.46 416.25 L842.86 415.33 L842.75 414.19 L841.91 415.38 L842.61 417.13 L843.81 412.76 L844.58 411.71 L842.74 412.49 L843.30 413.49 L843.60 410.90 L844.21 414.26 L843.69 414.70 L843.64 412.67 L844.32 416.15 L843.79 414.97 L844.34 413.49 L844.29 417.38 L844.43 414.04 L844.76 415.30 L845.41 413.77 L845.50 418.50 L844.93 419.20 L844.83 420.04 L845.00 421.10 L843.89 418.51 L846.53 417.89 L845.18 419.85 L845.21 415.89 L845.39 416.56 L845.06 419.27 L846.26 418.09 L845.71 416.33 L846.27 413.88 L845.60 413.21 L846.25 412.66 L846.24 413.25 L846.10 413.52 L846.82 412.43 L846.87 412.05 L846.61 412.78 L847.08 412.25 L846.38 412.08 L847.51 410.14 L847.00 410.00 L847.02 409.69 L847.56 408.24 L847.08 407.57 L847.04 407.26 L847.13 407.27 L848.32 406.71 L848.04 407.59 L846.68 408.48 L848.84 404.87 L848.06 406.34 L848.50 406.20 L848.08 404.43 L847.83 402.26 L848.98 402.24 L848.67 402.09 L849.23 402.05 L847.50 403.46 L848.28 403.25 L848.56 403.07 L849.00 402.00 L847.77 400.92 L849.31 402.25 L849.20 400.97 L848.95 401.05 L850.29 400.80 L850.65 397.92 L849.70 397.71 L849.59 398.52 L850.45 397.37 L849.59 397.46 L849.71 399.38 L851.05 397.86 L850.45 397.57 L849.95 397.31 L850.42 397.28 L849.69 397.96 L850.30 395.23 L850.29 395.05 L850.94 395.21 L851.00 394.90 L851.36 394.64 L850.53 395.45 L851.12 394.64 L851.20 395.11 L851.64 398.53 L851.28 397.77 L853.04 394.96 L851.65 398.49 L851.62 398.32 L851.11 399.84 L851.95 394.65 L853.06 394.65 L852.40 395.60 L852.60 396.26 L852.87 399.98 L852.67 407.34 L850.99 409.40 L852.12 409.36 L853.37 410.09 L853.00 406.00 L853.28 411.70 L852.66 414.91 L853.73 418.57 L853.46 413.98 L852.76 417.77 L854.28 416.16 L854.16 418.59 L853.63 423.33 L853.71 420.46 L854.00 423.10 L852.81 421.67 L853.71 422.62 L854.43 420.00 L854.00 417.74 L854.47 420.58 L853.89 418.80 L855.13 420.74 L855.93 416.76 L854.08 415.73 L854.72 414.11 L855.98 413.43 L854.97 413.99 L854.73 410.84 L854.75 412.08 L855.75 410.80 L855.60 410.90 L855.61 410.66 L855.62 410.66 L856.10 410.66 L855.24 410.66 L855.75 411.76 L856.79 410.66 L855.59 410.74 L856.95 412.35 L856.25 414.71 L856.02 412.40 L856.98 414.50 L856.49 415.55 L857.59 416.72 L857.54 416.84 L856.43 419.30 L856.94 420.08 L857.60 421.01 L857.03 421.66 L856.95 422.33 L857.60 422.10 L857.63 421.70 L857.23 421.53 L858.47 421.36 L858.07 422.28 L857.06 422.33 L858.76 421.41 L858.23 422.33 L858.39 421.41 L858.90 422.33 L859.15 420.93 L858.39 421.13 L859.74 419.07 L857.95 418.69 L859.71 421.17 L859.18 418.96 L859.44 418.85 L858.78 418.53 L859.63 420.23 L860.13 420.45 L859.50 422.33 L858.77 418.75 L859.66 418.57 L859.72 418.40 L860.00 418.00 L860.69 418.23 L861.06 418.23 L860.79 418.24 L860.73 418.24 L859.61 416.41 L859.15 415.40 L861.07 413.29 L860.93 409.49 L860.54 411.31 L860.36 411.48 L861.06 410.57 L861.24 408.80 L861.02 408.38 L860.87 408.35 L860.95 405.75 L861.60 406.00 L861.80 406.00 L861.00 406.34 L863.17 406.07 L861.90 406.58 L861.96 402.82 L863.52 402.50 L862.29 402.78 L862.39 403.13 L862.64 402.77 L861.91 402.65 L862.95 400.31 L861.99 402.43 L861.98 401.89 L862.72 400.39 L863.31 400.47 L862.28 401.19 L863.36 398.80 L862.66 398.11 L863.70 399.32 L863.60 398.00 L863.58 398.12 L863.73 398.25 L863.19 396.70 L863.35 397.48 L864.34 396.87 L864.82 397.81 L863.39 397.98 L863.93 398.26 L864.57 397.49 L863.98 397.81 L864.92 397.77 L865.39 396.67 L864.82 396.83 L864.90 400.43 L865.07 398.66 L864.58 396.65 L865.52 398.79 L864.71 397.04 L866.57 396.94 L865.60 396.90 L865.45 396.64 L865.62 397.05 L865.51 400.73 L866.08 400.72 L866.21 400.77 L865.98 400.69 L866.93 404.12 L867.00 403.59 L866.97 404.60 L865.30 405.16 L866.35 405.35 L867.28 404.89 L866.67 405.35 L867.00 405.10 L866.37 404.52 L866.79 402.72 L867.58 400.87 L866.99 400.70 L867.44 399.48 L868.16 399.03 L867.58 398.04 L867.36 399.14 L867.03 397.72 L869.00 400.05 L868.13 398.28 L868.16 396.34 L867.45 397.21 L868.40 396.00 L868.74 395.57 L868.80 391.67 L868.67 393.49 L868.73 394.07 L868.89 393.56 L868.53 390.78 L868.97 390.71 L869.58 392.47 L869.28 388.88 L868.37 388.64 L869.59 394.27 L869.17 392.88 L870.05 392.92 L869.14 389.17 L869.56 388.67 L870.00 388.90 L870.26 393.53 L869.89 393.20 L869.10 397.89 L870.78 403.99 L869.55 403.36 L870.18 399.18 L869.51 404.60 L869.81 406.93 L871.17 409.33 L870.54 413.87 L870.93 412.73 L871.20 416.10 L870.96 415.98 L870.66 416.34 L872.29 412.70 L872.13 404.18 L871.37 405.42 L872.24 396.71 L871.05 397.17 L871.66 384.79 L871.10 392.77 L872.92 386.31 L871.93 387.00 L872.40 384.00 L871.91 378.66 L872.80 382.93 L872.31 374.61 L873.10 380.04 L872.46 379.87 L872.85 387.38 L873.94 382.44 L875.40 384.65 L874.34 379.24 L872.74 379.23 L873.45 375.43 L874.07 373.83 L873.06 373.95 L873.07 372.65 L874.05 370.87 L874.00 368.90 L874.75 368.62 L874.18 368.62 L874.10 370.93 L873.93 368.62 L874.19 370.33 L874.61 375.84 L874.15 375.29 L875.30 374.97 L874.63 373.91 L874.72 377.83 L874.58 377.33 L874.63 378.43 L875.65 378.90 L875.66 379.20 L874.12 381.37 L875.60 381.10 L875.79 380.51 L876.12 376.86 L875.00 377.35 L876.15 373.43 L875.34 377.09 L876.22 376.29 L875.38 378.53 L875.38 377.29 L875.05 376.48 L876.28 375.06 L876.34 376.09 L877.79 375.93 L876.73 373.59 L877.00 370.90 L876.71 370.62 L876.99 371.88 L877.34 370.62 L877.87 371.84 L878.10 371.21 L877.26 369.27 L878.02 374.05 L878.32 377.38 L877.85 377.38 L877.65 377.38 L877.16 377.38 L877.85 377.38 L878.57 377.38 L878.40 377.10 L879.89 377.38 L878.82 377.38 L879.66 375.02 L877.80 372.93 L878.38 369.11 L878.24 367.37 L878.53 368.00 L880.59 365.06 L878.93 369.60 L878.58 364.81 L879.43 356.26 L879.60 354.00 L879.64 354.87 L878.40 356.67 L879.27 361.28 L879.46 362.89 L879.50 364.51 L880.27 362.30 L880.11 361.01 L879.94 365.33 L880.33 352.58 L881.70 345.39 L881.35 348.63 L881.52 347.23 L881.12 345.77 L881.00 346.00 L881.07 346.06 L882.27 345.13 L881.06 342.22 L881.35 340.16 L882.05 339.69 L880.06 342.37 L881.65 344.49 L881.72 340.06 L881.88 340.38 L882.31 342.47 L880.99 340.44 L882.10 341.48 L882.24 340.39 L882.40 340.00 L882.31 341.44 L882.10 339.92 L882.52 340.33 L881.89 338.77 L882.05 339.02 L883.14 338.81 L882.29 339.55 L883.61 339.86 L884.55 338.68 L884.48 339.60 L883.67 338.68 L882.31 339.84 L882.77 340.32 L883.32 339.59 L884.63 339.45 L884.00 339.00 L884.45 337.77 L884.09 337.72 L883.54 338.38 L885.04 337.96 L884.42 337.65 L884.37 334.76 L884.36 332.09 L885.90 331.39 L884.00 333.64 L884.45 327.57 L885.30 325.73 L884.95 324.85 L885.84 325.58 L886.13 323.85 L885.50 325.66 L885.60 324.00 L884.77 324.64 L885.69 324.70 L886.40 324.02 L884.87 323.57 L885.87 324.33 L885.78 323.89 L887.24 323.57 L886.68 324.33 L886.20 324.33 L887.56 324.33 L887.64 324.02 L887.54 323.57 L887.73 324.33 L887.09 323.57 L888.06 323.57 L887.23 323.88 L887.96 323.90 L888.48 323.85 L887.58 324.33 L887.60 323.90 L889.44 323.64 L888.82 323.66 L888.24 326.80 L887.90 325.42 L890.00 325.23 L888.05 326.01 L889.36 328.45 L888.37 330.02 L888.55 329.93 L887.36 327.49 L888.55 328.41 L887.51 331.12 L888.25 330.53 L887.99 331.46 L887.93 331.25 L889.96 332.10 L888.77 332.31 L889.90 333.46 L888.35 333.14 L889.60 337.10 L889.75 334.20 L890.67 331.65 L890.31 331.84 L889.43 328.16 L890.80 325.57 L889.98 326.01 L889.50 325.16 L889.75 321.22 L889.38 325.49 L889.77 325.00 L891.81 327.17 L891.41 328.27 L891.92 323.14 L891.00 320.90 L891.43 323.25 L890.38 330.24 L890.92 323.72 L891.87 322.91 L891.44 326.24 L892.77 334.34 L891.33 336.32 L891.17 326.92 L894.08 324.38 L892.00 324.00 L892.95 326.12 L893.31 326.95 L893.13 324.93 L892.42 332.51 L892.41 348.11 L894.02 352.19 L891.15 353.98 L893.40 361.77 L892.80 362.76 L893.00 354.00 L892.94 362.75 L893.22 354.98 L892.06 353.71 L892.95 359.89 L893.11 362.36 L893.60 370.00 L892.02 364.67 L893.87 370.20 L894.65 368.07 L895.42 369.35 L894.00 373.29 L893.72 369.23 L893.59 371.96 L896.29 371.74 L895.65 372.09 L895.03 367.67 L894.87 374.70 L893.68 375.00 L895.51 375.47 L895.10 373.36 L895.27 371.54 L895.62 377.55 L894.27 377.09 L895.01 375.10 L897.13 375.32 L895.60 378.10 L895.18 372.66 L896.73 371.05 L895.11 374.57 L896.17 372.45 L896.63 370.78 L895.75 363.25 L896.24 367.59 L895.46 365.03 L895.87 364.06 L897.98 368.17 L897.09 355.64 L896.13 356.43 L897.43 351.43 L897.00 350.00 L898.46 348.84 L895.36 351.30 L898.14 348.49 L895.39 339.82 L897.36 338.43 L898.37 341.42 L896.86 342.64 L897.46 345.10 L897.54 339.78 L898.56 340.73 L897.37 340.38 L898.59 338.36 L897.66 339.37 L898.40 336.90 L899.19 341.18 L899.00 340.41 L897.19 340.28 L898.87 340.57 L899.19 341.45 L897.67 342.05 L898.77 344.19 L899.39 339.94 L898.72 341.96 L898.73 342.55 L897.78 343.28 L899.09 342.39 L899.12 344.67 L901.28 343.27 L898.87 345.19 L900.00 346.00 L900.24 347.47 L899.58 351.13 L900.88 349.28 L901.28 348.60 L901.17 349.85 L900.31 351.03 L901.59 350.48 L900.20 348.17 L902.21 352.65 L901.03 355.68 L901.84 356.25 L900.85 357.34 L902.46 355.33 L901.54 354.08 L901.42 354.12 L901.60 354.00 L903.25 353.59 L903.36 360.42 L902.40 359.15 L901.21 361.09 L901.14 366.92 L901.83 362.10 L901.51 356.04 L903.06 356.86 L902.65 368.79 L904.68 374.51 L904.25 367.64 L902.55 376.52 L901.69 377.70 L903.00 372.00 L902.82 381.91 L903.17 388.25 L903.83 388.39 L904.97 382.90 L903.70 387.41 L903.60 394.00 L902.84 401.85 L903.01 403.66 L904.60 405.95 L903.47 412.47 L902.78 407.25 L903.78 405.64 L904.19 411.81 L904.40 413.10 L905.42 413.34 L903.80 413.34 L905.25 410.85 L904.92 406.15 L905.06 407.09 L904.28 400.60 L905.38 395.36 L904.95 392.31 L905.65 394.26 L905.70 389.89 L906.23 387.67 L905.60 382.90 L906.63 382.63 L905.57 382.63 L906.15 382.63 L906.76 384.14 L905.09 385.10 L907.52 387.92 L906.47 383.17 L905.65 388.72 L906.01 391.84 L906.56 393.49 L906.74 393.64 L906.91 393.67 L906.29 394.52 L907.00 395.10 L907.40 395.36 L908.46 391.47 L908.50 390.81 L908.28 392.59 L907.34 387.32 L908.33 386.39 L908.40 384.40 L906.98 384.57 L907.72 382.60 L907.97 383.49 L908.20 380.20 L907.87 380.82 L909.25 385.72 L909.37 379.27 L908.22 380.28 L908.74 379.32 L910.18 382.72 L909.15 379.47 L910.09 377.07 L909.00 374.90 L908.88 374.62 L909.01 374.62 L909.53 375.76 L910.36 377.21 L910.05 379.02 L909.38 377.18 L909.52 378.32 L909.76 378.04 L909.44 378.61 L909.37 379.41 L909.76 376.66 L911.16 377.91 L910.14 378.80 L910.61 382.51 L911.15 386.25 L911.55 382.32 L911.51 382.04 L911.28 383.90 L911.82 382.93 L911.00 382.00 L911.01 383.47 L910.40 385.55 L910.74 386.68 L911.07 389.34 L911.20 388.61 L912.35 386.51 L910.33 391.90 L911.58 397.01 L912.98 394.58 L911.05 397.23 L913.00 391.41 L911.66 391.44 L912.50 390.24 L912.40 394.00 L912.12 392.65 L911.57 393.20 L913.19 391.10 L914.49 388.55 L912.29 392.38 L912.69 394.10 L913.77 401.44 L912.67 403.20 L912.46 406.73 L912.40 407.07 L913.57 406.67 L913.60 411.10 L913.75 407.81 L914.24 409.26 L912.51 405.48 L914.52 405.33 L914.18 408.28 L914.91 404.96 L914.55 401.62 L914.40 398.00 L915.05 396.57 L915.22 393.85 L915.36 397.94 L914.61 394.53 L915.09 395.95 L913.96 392.72 L915.59 394.49 L914.96 395.35 L915.57 392.16 L915.40 390.68 L916.11 391.45 L915.60 390.90 L916.62 391.05 L915.28 390.64 L915.60 391.23 L915.58 391.62 L915.99 391.16 L915.92 392.68 L915.19 390.64 L916.65 390.64 L916.57 391.94 L915.96 392.75 L916.52 391.66 L917.01 392.60 L916.31 391.62 L917.34 391.90 L918.17 392.68 L916.66 393.36 L917.10 392.22 L918.82 392.03 L917.64 393.36 L917.60 393.10 L916.70 391.91 L918.62 390.67 L918.43 391.41 L917.99 391.76 L918.40 389.05 L918.62 387.79 L917.96 391.85 L918.81 390.92 L918.69 390.44 L917.60 387.16 L918.30 385.01 L918.97 384.63 L918.67 384.84 L919.00 384.90 L918.92 384.63 L920.41 384.87 L918.47 385.03 L918.09 384.63 L918.92 384.63 L919.11 385.59 L920.66 386.05 L920.04 385.53 L919.25 385.17 L919.34 384.93 L919.55 385.56 L920.24 384.23 L920.99 386.37 L921.12 385.27 L920.50 385.21 L920.92 384.66 L919.66 384.96 L920.38 386.26 L920.96 386.37 L921.00 386.10 L921.71 385.47 L920.79 383.00 L921.76 383.59 L921.41 383.40 L920.22 384.58 L921.08 383.60 L922.07 383.70 L922.60 383.24 L921.40 382.26 L922.00 381.90 L922.12 383.17 L922.22 384.12 L922.09 379.70 L921.49 383.64 L922.54 385.51 L922.51 387.14 L922.76 385.68 L922.90 385.35 L923.46 391.00 L922.88 389.24 L923.79 389.82 L923.20 393.10 L922.70 391.91 L923.19 383.74 L923.19 377.92 L923.15 368.76 L924.26 370.56 L923.86 372.65 L922.60 371.20 L924.00 370.00 L924.33 366.28 L924.24 362.09 L924.85 358.32 L923.26 361.63 L924.58 355.33 L925.03 351.07 L923.56 365.63 L925.06 368.56 L924.11 360.85 L924.13 370.51 L924.56 363.55 L923.90 362.66 L924.31 360.19 L926.92 355.09 L925.93 353.44 L925.60 350.00 L925.53 348.52 L925.43 348.04 L926.57 349.83 L925.93 351.51 L927.30 350.11 L926.41 349.25 L926.23 348.36 L925.48 348.36 L925.82 348.16 L927.26 348.04 L926.31 346.52 L927.59 347.13 L927.65 345.94 L927.00 345.90 L927.20 346.25 L927.59 346.85 L928.83 347.37 L927.69 345.68 L927.65 346.61 L927.72 347.41 L926.57 347.29 L926.39 347.45 L928.62 347.67 L928.19 346.19 L928.58 351.10 L928.15 350.99 L928.30 351.03 L928.52 349.93 L930.01 352.89 L928.83 351.67 L928.38 352.16 L927.68 353.40 L928.92 353.40 L929.00 353.10 L928.22 353.40 L930.13 352.85 L929.16 353.06 L928.67 352.14 L929.68 349.01 L929.60 348.11 L930.29 346.24 L929.65 346.95 L930.01 344.93 L930.01 346.57 L930.17 346.88 L930.56 344.53 L929.93 346.34 L930.27 347.03 L930.95 344.28 L931.12 343.57 L931.16 343.50 L932.28 345.36 L931.13 342.94 L931.00 342.90 L930.54 344.21 L931.20 345.00 L930.86 345.23 L931.42 344.62 L931.98 346.07 L930.66 346.04 L933.05 346.23 L931.76 349.86 L931.75 346.76 L931.76 346.29 L933.11 342.72 L931.69 347.65 L932.85 348.75 L932.40 350.00 L933.51 349.34 L931.92 347.35 L932.89 348.46 L932.52 350.55 L933.89 352.24 L932.50 357.80 L932.43 353.13 L933.85 355.51 L934.68 354.07 L933.44 352.75 L933.75 353.88 L932.86 357.41 L933.95 360.81 L934.98 362.39 L933.09 361.65 L934.00 362.10 L933.87 362.39 L934.82 362.40 L934.44 362.40 L934.42 362.40 L934.59 362.40 L933.54 360.55 L933.61 359.09 L934.02 356.38 L934.50 355.02 L935.68 352.24 L935.12 356.26 L935.76 353.66 L935.63 347.55 L936.24 347.17 L935.49 345.24 L935.60 342.00 L935.37 342.26 L936.60 341.34 L934.70 339.55 L935.24 338.90 L935.37 339.43 L936.31 338.63 L937.06 338.55 L936.20 340.49 L937.52 341.10 L937.21 338.78 L937.80 339.17 L935.29 338.14 L937.67 337.31 L937.39 337.00 L936.21 337.52 L937.32 338.76 L937.26 336.11 L937.13 336.06 L937.42 336.15 L937.60 336.00 L937.20 335.47 L938.23 334.92 L938.45 336.32 L937.74 335.48 L937.52 335.39 L937.92 336.25 L939.12 334.08 L938.02 334.52 L938.57 334.11 L938.07 334.49 L939.32 333.68 L938.24 335.02 L938.67 333.76 L938.89 333.87 L939.20 333.68 L939.88 333.68 L939.10 333.68 L938.81 333.69 L938.16 334.91 L939.60 334.00 L938.60 334.32 L940.50 334.32 L939.67 334.32 L939.52 334.05 L940.26 334.17 L939.79 334.23 L941.27 332.56 L940.82 331.22 L941.15 332.85 L940.43 331.99 L940.27 332.80 L941.38 331.53 L941.93 330.74 L940.60 332.97 L939.98 332.95 L940.40 332.50 L941.51 330.57 L940.79 331.63 L941.76 330.57 L941.60 330.90 L941.70 331.67 L941.23 332.68 L942.55 331.93 L941.44 331.05 L942.19 331.42 L942.19 333.36 L941.76 333.56 L942.40 336.51 L941.55 334.74 L942.56 335.11 L941.66 334.10 L943.19 335.45 L944.04 333.61 L942.55 333.66 L943.06 333.33 L942.47 335.77 L943.95 335.61 L943.03 335.83 L943.25 335.73 L943.60 337.10 L944.84 335.55 L943.62 334.89 L943.80 335.66 L943.50 330.64 L944.55 334.09 L944.11 332.86 L943.44 332.21 L944.22 331.13 L946.12 331.53 L944.90 330.17 L943.77 326.43 L943.22 325.79 L944.58 324.63 L945.00 324.00 L945.76 323.20 L944.93 320.12 L945.57 322.69 L944.69 324.44 L944.36 318.01 L945.70 321.18 L946.34 322.39 L945.44 319.96 L945.76 314.71 L944.77 313.60 L946.49 306.70 L947.07 314.90 L946.46 312.10 L946.59 305.97 L945.72 310.45 L946.60 312.00 L945.44 309.99 L946.75 306.36 L947.23 305.42 L947.49 306.86 L946.73 305.16 L947.65 303.58 L948.25 306.50 L947.33 305.86 L947.48 303.65 L947.85 301.38 L947.31 302.93 L948.00 301.65 L948.83 298.94 L948.00 298.90 L948.14 302.82 L949.15 301.90 L947.71 299.60 L948.31 299.43 L949.06 300.52 L948.07 301.42 L948.67 305.38 L949.94 303.07 L948.87 305.10 L948.47 300.91 L949.51 304.54 L949.67 303.37 L949.43 303.71 L949.40 307.10 L949.54 305.07 L950.51 303.67 L949.34 305.54 L950.65 302.13 L950.15 299.98 L949.94 302.10 L951.15 302.87 L950.30 299.16 L949.43 302.64 L949.61 300.03 L951.92 296.52 L950.50 293.08 L950.87 292.25 L950.86 295.30 L950.63 293.37 L951.00 294.00 L951.60 292.55 L951.01 294.20 L951.71 294.87 L951.87 292.97 L951.16 292.51 L951.17 291.71 L953.06 291.08 L951.13 294.37 L951.86 290.76 L952.00 287.69 L953.04 287.35 L951.77 286.03 L952.83 284.05 L952.40 284.00 L952.09 282.82 L952.97 281.15 L952.58 281.65 L952.98 279.52 L953.30 279.52 L952.64 279.87 L951.78 279.91 L953.39 282.25 L954.15 279.52 L953.40 279.90 L954.20 283.58 L953.40 283.04 L953.13 284.38 L953.86 290.44 L953.68 285.09 L953.76 288.87 L953.67 294.62 L954.00 295.77 L953.71 297.01 L954.40 294.00 L954.03 304.05 L955.04 306.94 L954.74 311.86 L955.48 315.46 L955.54 315.45 L954.06 315.45 L955.61 315.45 L955.31 315.45 L955.52 314.52 L955.40 315.10 L955.67 318.38 L955.96 317.05 L957.14 308.99 L956.33 311.50 L955.82 313.13 L956.59 305.06 L956.14 310.19 L956.35 316.18 L956.30 311.20 L956.40 302.90 L955.67 306.68 L956.68 309.94 L956.58 309.97 L957.94 315.73 L957.02 312.70 L956.73 315.82 L956.75 316.98 L957.58 318.10 L957.08 317.08 L957.40 323.10 L956.94 320.16 L958.04 318.94 L957.43 319.24 L957.89 317.61 L957.72 315.28 L958.57 311.51 L959.27 313.16 L958.04 312.43 L958.64 313.57 L958.41 310.22 L958.28 314.68 L958.98 315.80 L958.79 314.40 L959.25 312.07 L959.71 310.22 L959.00 310.00 L959.08 308.34 L960.18 307.76 L960.36 305.86 L959.59 308.72 L958.99 307.09 L959.15 304.96 L958.12 301.30 L959.53 301.38 L960.35 301.90 L960.01 302.16 L960.31 305.84 L960.55 305.24 L959.97 303.02 L960.82 303.66 L959.67 298.73 L959.82 299.21 L960.15 299.83 L960.63 300.23 L961.30 298.68 L961.00 297.90 L961.28 298.96 L961.52 302.24 L960.44 304.07 L962.23 300.43 L962.13 300.74 L960.73 306.50 L962.42 306.75 L962.41 306.12 L961.74 304.65 L962.34 305.05 L962.33 308.58 L962.06 309.45 L962.40 309.45 L962.40 309.10 L963.33 309.45 L962.23 309.45 L962.41 309.45 L962.81 309.45 L962.49 309.45 L962.35 315.52 L963.57 308.77 L962.72 307.02 L964.61 301.78 L964.00 301.54 L964.19 302.43 L963.60 301.90 L964.44 301.54 L964.67 301.55 L963.50 301.81 L964.13 302.70 L963.60 305.05 L964.07 305.45 L963.95 304.25 L964.18 303.46 L964.38 310.33 L962.81 309.90 L964.34 314.38 L965.79 318.70 L964.91 319.44 L965.00 319.10 L964.65 318.69 L964.37 319.07 L963.77 316.24 L964.13 312.59 L966.60 311.01 L965.38 315.08 L965.61 313.20 L965.77 306.73 L966.78 308.58 L965.76 311.09 L967.00 310.17 L965.37 307.44 L965.81 307.99 L966.40 306.90 L966.94 310.59 L966.92 314.21 L966.21 311.60 L966.71 313.58 L967.58 312.15 L967.32 310.80 L967.36 310.47 L966.99 314.48 L967.45 316.83 L966.98 311.65 L967.16 313.86 L966.11 315.54 L968.20 316.17 L967.17 318.17 L967.52 319.66 L968.00 321.10 L969.11 321.44 L968.53 319.56 L968.24 320.61 L968.76 318.64 L967.88 318.15 L968.40 316.16 L969.35 316.49 L968.90 319.93 L968.11 318.68 L969.09 314.95 L969.48 314.27 L970.57 313.76 L969.74 309.35 L970.22 309.36 L969.89 311.31 L969.60 310.00 L969.99 312.45 L969.68 310.60 L970.64 312.05 L969.40 311.92 L970.65 307.67 L969.49 301.36 L971.53 302.50 L970.14 297.13 L971.04 295.54 L971.03 295.54 L969.13 296.28 L970.80 295.90 L971.87 297.75 L972.23 300.33 L970.18 295.55 L970.82 295.72 L971.11 305.64 L969.68 314.42 L970.51 318.01 L971.60 322.00 L971.74 327.98 L971.09 320.90 L972.74 323.17 L972.06 325.90 L973.62 330.63 L972.97 328.78 L972.40 322.60 L972.04 332.89 L972.65 325.63 L972.05 327.88 L971.61 331.65 L972.16 336.08 L971.86 337.03 L973.00 337.10 L973.60 336.61 L973.44 335.47 L973.83 334.96 L973.49 335.24 L973.39 335.40 L973.21 337.42 L972.42 333.53 L975.03 336.60 L973.25 334.20 L974.34 335.66 L973.16 333.53 L974.85 333.19 L973.91 330.60 L973.48 329.95 L973.61 323.16 L975.19 325.01 L973.75 326.53 L975.76 324.17 L974.69 322.57 L975.00 322.90 L974.68 324.83 L975.64 329.43 L975.65 333.54 L975.40 341.33 L975.13 345.24 L975.69 345.66 L975.90 343.13 L975.84 333.35 L977.41 330.21 L976.62 332.68 L976.15 338.21 L975.18 339.11 L976.90 343.11 L976.40 344.00 L977.08 349.54 L975.63 341.93 L976.23 344.85 L975.70 352.40 L976.46 349.99 L977.01 341.29 L976.14 353.55 L977.84 359.01 L976.92 368.95 L977.40 371.10 L977.26 368.69 L977.96 363.10 L977.50 358.84 L977.37 358.53 L977.56 354.47 L978.55 348.09 L977.93 351.61 L979.72 353.66 L978.54 353.51 L978.40 348.00 L978.56 347.71 L978.82 347.73 L979.74 343.20 L978.25 340.32 L978.80 340.45 L979.99 339.69 L979.38 339.69 L979.84 340.29 L979.20 347.49 L979.29 346.88 L980.22 346.08 L979.39 343.00 L978.81 340.24 L979.09 336.34 L980.50 340.41 L980.00 340.00 L980.07 339.77 L981.01 338.75 L980.38 336.65 L980.64 332.62 L980.24 334.85 L980.47 334.67 L980.12 335.08 L981.22 336.84 L981.51 334.58 L980.23 334.83 L980.42 335.63 L981.58 336.31 L981.65 333.49 L982.47 335.41 L980.37 332.65 L981.60 332.90 L982.53 334.40 L981.99 334.63 L981.89 334.37 L982.02 336.33 L981.57 336.15 L982.01 334.80 L981.31 333.54 L983.11 336.20 L982.65 333.34 L982.59 334.15 L982.54 334.99 L983.58 335.22 L982.52 335.25 L983.37 338.46 L982.49 338.62 L983.41 338.19 L983.81 339.29 L983.33 339.42 L983.71 339.42 L983.60 339.10 L983.29 339.42 L984.24 339.42 L984.26 339.42 L983.71 336.37 L983.90 334.97 L984.65 337.57 L983.78 337.90 L985.57 339.02 L984.51 337.76 L984.96 335.50 L984.06 334.91 L985.45 332.58 L985.62 333.78 L985.00 332.90 L985.07 333.99 L985.99 336.00 L984.29 334.00 L984.71 335.30 L984.88 337.45 L985.75 343.23 L985.74 335.95 L985.65 338.32 L985.79 339.57 L985.59 342.63 L985.73 340.24 L985.93 343.15 L986.31 350.50 L985.89 349.84 L986.32 352.19 L985.81 351.46 L985.66 350.22 L987.56 351.17 L987.24 351.45 L987.00 355.10 L987.71 352.71 L987.20 349.44 L986.74 349.98 L986.71 352.21 L988.17 351.83 L987.18 352.20 L988.01 351.26 L987.20 351.25 L987.59 345.83 L987.48 344.67 L987.90 346.07 L989.01 343.29 L988.98 342.99 L988.15 343.68 L987.68 342.74 L988.70 343.99 L988.10 343.41 L988.89 342.24 L988.63 340.59 L989.00 340.90 L989.26 341.25 L989.55 340.68 L990.27 344.44 L989.51 346.45 L989.39 346.18 L989.65 346.04 L990.91 346.19 L989.66 347.37 L990.49 347.41 L990.61 345.44 L990.32 342.45 L990.42 342.94 L990.27 342.29 L990.58 344.22 L990.47 346.58 L990.60 347.10 L990.70 347.41 L990.59 346.90 L990.69 346.18 L990.43 344.03 L990.61 343.91 L991.68 345.06 L990.45 344.91 L991.08 344.25 L990.44 342.88 L991.96 341.48 L991.63 340.59 L991.77 340.59 L992.01 342.46 L992.00 340.90 L991.52 343.39 L992.28 345.20 L992.99 347.42 L993.43 352.09 L992.56 349.33 L992.76 346.20 L992.73 348.81 L992.86 354.18 L993.24 350.81 L993.10 354.33 L994.05 355.34 L992.45 355.07 L993.28 358.10 L993.40 359.10 L994.15 358.82 L993.53 358.53 L994.11 356.68 L993.69 359.40 L993.15 356.44 L993.68 353.42 L994.27 352.11 L994.29 352.33 L994.23 351.12 L994.58 347.63 L994.77 347.35 L993.98 348.78 L994.82 347.37 L994.30 344.73 L996.03 345.13 L995.00 346.00 L994.96 340.60 L994.94 336.03 L995.41 337.53 L995.12 335.14 L996.29 340.74 L994.99 334.28 L996.66 334.54 L995.51 330.61 L994.85 330.81 L996.00 332.00 L995.57 334.76 L995.57 334.32 L997.02 336.52 L996.14 334.05 L997.33 335.02 L997.13 326.50 L997.10 327.72 L996.57 325.99 L996.61 322.91 L996.13 322.27 L996.52 323.80 L998.58 324.38 L998.34 321.06 L997.36 320.70 L997.80 323.49 L997.60 322.00 L998.59 322.11 L997.62 323.05 L997.58 323.60 L998.06 320.15 L997.47 320.99 L998.22 320.85 L997.71 318.38 L998.76 317.98 L998.95 319.13 L999.54 317.46 L998.13 317.60 L999.06 319.39 L998.44 318.20 L999.00 316.00 L999.90 316.86 L998.46 316.72 L998.42 315.70 L999.55 317.09 L998.97 314.21 L998.69 314.82 L998.96 314.03 L1000.11 314.22 L1000.26 312.67 L999.35 312.81 L1000.52 313.23 L1000.18 311.66 L998.78 312.96 L1000.08 311.77 L1001.01 311.65 L1000.18 312.19 L1001.09 312.22 L1000.40 313.67 L1000.73 311.95 L1001.00 312.00 L1001.64 312.35 L1000.51 312.16 L1000.35 312.35 L1000.67 310.69 L1002.86 312.14 L1001.81 310.67 L1001.20 310.55 L1001.67 310.55 L1001.17 310.59 L1000.96 310.55 L1002.57 310.55 L1001.88 312.29 L1001.25 312.35 L1003.02 311.70 L1001.97 310.96 L1002.09 310.55 L1004.31 310.55 L1002.84 310.55 L1002.53 310.55 L1003.00 310.90 L1002.70 311.23 L1003.99 312.78 L1002.94 314.05 L1003.60 313.09 L1001.61 314.92 L1003.75 314.86 L1003.72 318.26 L1002.27 316.16 L1003.28 316.49 L1003.84 318.07 L1004.27 319.08 L1002.73 318.07 L1003.29 317.67 L1004.40 316.00 L1005.94 323.11 L1005.11 330.66 L1004.90 329.78 L1006.47 325.01 L1004.31 319.70 L1004.82 332.14 L1004.69 332.94 L1004.94 327.35 L1004.03 338.31 L1007.19 334.28 L1006.59 332.89 L1005.60 324.00 L1006.67 330.86 L1003.95 341.05 L1005.45 327.30 L1006.66 333.65 L1005.40 319.00 L1006.50 326.27 L1005.72 352.73 L1006.40 350.00 L1005.48 357.76 L1005.39 355.78 L1006.38 351.46 L1007.89 348.53 L1006.01 352.14 L1007.00 374.00 L1007.24 364.65 L1007.65 365.60 L1006.76 368.21 L1009.24 396.28 L1007.50 405.10 L1008.60 405.35 L1008.49 395.26 L1008.67 385.71 L1006.61 379.12 L1007.58 374.48 L1008.58 362.89 L1008.37 368.77 L1009.21 369.02 L1008.96 378.07 L1008.05 380.91 L1008.60 374.00 L1008.35 376.93 L1009.47 379.59 L1009.35 374.70 L1010.22 375.48 L1009.70 369.57 L1010.27 372.07 L1009.48 372.09 L1009.34 371.12 L1008.93 369.65 L1009.60 364.00 L1010.21 363.99 L1010.88 363.33 L1010.19 364.07 L1009.15 365.74 L1010.02 360.01 L1009.75 360.65 L1009.33 360.81 L1011.10 354.27 L1010.99 364.75 L1012.04 357.87 L1009.71 358.29 L1011.42 357.91 L1010.11 356.68 L1011.00 360.00 L1010.83 354.47 L1011.40 350.46 L1010.21 350.09 L1011.47 350.69 L1010.93 345.32 L1011.20 352.92 L1012.01 344.06 L1011.86 345.79 L1011.84 346.91 L1014.26 347.06 L1011.43 343.45 L1012.45 338.12 L1012.97 338.10 L1012.40 332.90 L1014.87 333.46 L1012.08 333.15 L1011.81 334.17 L1011.56 333.01 L1013.18 335.68 L1012.66 341.59 L1012.48 341.61 L1013.63 343.68 L1013.34 343.19 L1012.26 344.73 L1013.28 349.41 L1013.60 349.10 L1014.24 346.93 L1012.50 346.38 L1014.31 345.05 L1014.47 345.28 L1015.43 340.87 L1014.43 340.33 L1015.30 339.08 L1013.78 338.25 L1015.17 342.94 L1015.32 344.07 L1015.32 346.34 L1013.38 345.54 L1015.38 345.41 L1015.00 340.90 L1015.95 342.99 L1016.01 343.92 L1014.73 345.62 L1015.13 344.91 L1017.07 345.86 L1016.45 348.20 L1015.34 345.31 L1015.34 342.82 L1015.95 348.32 L1016.11 351.79 L1016.78 351.69 L1015.89 355.40 L1017.13 355.40 L1016.40 355.10 L1017.32 355.40 L1017.17 354.06 L1015.54 354.68 L1017.50 355.41 L1016.51 350.65 L1016.81 343.11 L1016.71 346.94 L1017.23 346.55 L1016.68 343.35 L1016.18 344.39 L1019.06 338.13 L1017.60 336.00 L1019.19 342.31 L1019.06 340.29 L1016.83 339.76 L1019.62 337.48 L1016.78 341.93 L1017.94 340.08 L1018.41 341.73 L1018.89 343.80 L1016.75 336.04 L1019.02 333.38 L1017.63 333.28 L1018.83 333.76 L1018.33 332.12 L1018.72 330.84 L1019.03 330.69 L1019.59 329.37 L1020.56 330.41 L1018.40 331.05 L1018.19 329.31 L1019.60 328.90 L1017.58 330.33 L1020.29 330.07 L1019.97 328.57 L1018.87 330.33 L1019.16 330.09 L1020.96 328.57 L1020.14 328.57 L1020.71 330.33 L1018.63 330.33 L1021.96 330.33 L1020.49 330.33 L1020.59 330.33 L1021.86 330.33 L1021.95 331.93 L1022.13 330.95 L1020.87 330.38 L1020.53 329.79 L1022.13 328.72 L1021.86 329.68 L1021.60 330.00 L1022.27 330.84 L1021.83 329.67 L1020.18 331.61 L1022.06 332.61 L1022.52 333.81 L1022.34 327.87 L1021.97 326.99 L1022.11 329.66 L1022.03 328.68 L1022.95 333.34 L1022.22 333.80 L1022.59 330.57 L1022.14 336.34 L1023.00 337.10 L1022.81 334.14 L1022.94 332.35 L1023.59 327.44 L1023.78 327.34 L1023.35 323.56 L1022.98 320.13 L1023.38 319.91 L1024.15 317.72 L1023.79 313.97 L1024.00 314.00 L1024.01 314.90 L1024.25 319.53 L1023.91 319.83 L1024.71 319.82 L1023.89 315.90 L1025.45 309.01 L1024.37 307.41 L1024.16 311.67 L1024.57 312.64 L1024.55 309.63 L1025.32 310.38 L1025.21 308.95 L1025.43 306.94 L1024.97 306.89 L1025.55 304.09 L1025.60 304.00 L1025.80 301.08 L1025.88 299.71 L1025.79 299.52 L1025.94 295.90 L1026.53 298.22 L1026.29 299.51 L1025.83 298.59 L1026.89 301.47 L1026.71 299.61 L1026.39 303.63 L1026.46 299.93 L1026.58 302.48 L1027.91 298.66 L1026.49 295.50 L1026.65 295.03 L1027.04 295.08 L1027.43 294.31 L1026.66 298.40 L1027.31 297.44 L1027.60 296.00 L1027.41 296.23 L1027.76 295.91 L1028.16 296.37 L1028.08 296.37 L1028.45 294.34 L1028.91 289.43 L1029.00 290.15 L1027.93 288.86 L1028.44 286.42 L1028.96 282.91 L1027.51 287.87 L1029.28 282.95 L1027.09 281.79 L1029.00 286.00 L1029.05 284.12 L1029.58 281.39 L1028.92 283.16 L1029.78 286.00 L1029.34 285.25 L1029.53 286.38 L1030.40 283.19 L1029.56 276.94 L1029.78 277.56 L1029.48 279.83 L1030.28 277.26 L1029.76 276.09 L1030.05 272.75 L1030.40 272.00 L1031.09 271.00 L1030.41 270.31 L1030.50 267.30 L1031.15 274.66 L1030.61 273.24 L1031.51 272.72 L1030.79 269.11 L1031.71 271.31 L1031.28 267.43 L1030.87 267.99 L1031.74 266.19 L1031.78 264.95 L1031.07 266.25 L1032.59 264.14 L1031.39 262.57 L1031.86 260.50 L1031.22 264.47 L1031.60 263.33 L1031.88 260.50 L1032.40 260.90 L1032.67 260.50 L1032.51 260.50 L1033.02 260.50 L1033.54 262.02 L1033.56 261.99 L1033.07 261.55 L1032.46 264.31 L1033.98 265.68 L1034.00 268.72 L1033.81 270.89 L1032.77 269.90 L1033.60 270.00 L1033.58 272.58 L1034.32 272.58 L1033.01 272.18 L1033.96 275.81 L1034.34 275.17 L1034.56 275.09 L1034.01 272.04 L1034.92 264.20 L1035.07 275.33 L1034.61 278.24 L1035.05 281.72 L1035.37 276.74 L1035.06 276.03 L1035.00 278.00 L1035.41 277.56 L1034.33 276.60 L1035.94 279.86 L1035.26 275.08 L1036.10 276.78 L1035.08 280.22 L1035.55 279.21 L1034.97 281.16 L1035.73 282.96 L1035.76 281.93 L1036.48 284.56 L1036.46 283.83 L1036.49 286.44 L1036.40 289.10 L1036.42 287.27 L1037.00 286.56 L1036.95 285.03 L1036.08 283.23 L1037.08 281.81 L1037.07 278.90 L1037.37 279.61 L1037.22 278.54 L1037.58 270.50 L1037.48 270.72 L1037.97 270.70 L1037.66 272.17 L1037.50 271.60 L1037.82 271.38 L1037.97 270.69 L1038.00 268.90 L1037.88 270.97 L1038.29 269.73 L1038.87 271.03 L1038.84 271.20 L1038.18 270.39 L1039.09 269.64 L1038.76 270.34 L1038.99 268.99 L1038.83 269.43 L1038.75 268.97 L1039.11 270.39 L1039.55 269.80 L1039.20 268.51 L1038.80 269.13 L1039.73 269.81 L1039.24 268.51 L1039.73 270.59 L1039.99 271.23 L1040.41 269.77 L1040.00 270.00 L1039.78 271.79 L1038.95 271.80 L1040.66 272.49 L1039.00 275.24 L1040.70 271.29 L1040.23 271.09 L1040.99 272.43 L1039.89 274.10 L1040.72 274.31 L1040.73 277.13 L1040.67 277.92 L1041.38 274.78 L1040.64 277.95 L1041.45 277.65 L1041.34 277.31 L1041.60 280.00 L1041.37 278.02 L1042.48 278.50 L1042.37 280.90 L1041.97 277.51 L1042.35 280.99 L1041.52 281.18 L1042.27 282.37 L1042.69 279.62 L1041.64 282.25 L1043.25 283.48 L1041.37 283.48 L1042.22 283.48 L1043.21 283.48 L1043.55 283.48 L1043.38 283.48 L1043.44 283.48 L1043.01 283.48 L1043.11 280.24 L1044.27 283.48 L1043.60 283.10 L1044.35 274.37 L1044.43 266.92 L1043.83 269.36 L1044.38 271.14 L1044.34 267.12 L1044.53 262.64 L1044.52 259.21 L1044.40 250.00 L1044.49 247.62 L1044.53 250.93 L1044.37 255.42 L1044.59 247.86 L1044.55 241.40 L1044.98 246.57 L1045.55 249.34 L1044.98 239.48 L1045.53 245.72 L1045.40 239.90 L1045.21 244.34 L1045.64 248.99 L1046.61 246.30 L1046.53 244.16 L1045.94 245.86 L1046.17 255.39 L1046.30 257.28 L1046.40 259.68 L1045.94 259.61 L1046.40 256.00 L1045.80 258.22 L1046.47 260.66 L1046.24 259.26 L1045.67 260.72 L1047.55 255.51 L1047.86 258.25 L1047.07 258.27 L1046.99 260.12 L1046.98 261.94 L1047.61 264.61 L1047.90 267.27 L1047.60 269.10 L1047.71 268.27 L1047.27 267.54 L1047.33 267.18 L1047.18 267.05 L1048.45 268.66 L1048.77 266.36 L1048.19 266.06 L1048.32 262.52 L1049.07 264.38 L1049.51 262.98 L1048.56 255.99 L1048.93 254.90 L1048.92 254.45 L1049.00 253.90 L1049.05 254.10 L1048.75 255.92 L1049.55 255.80 L1050.11 253.50 L1048.96 254.06 L1049.84 256.43 L1050.08 261.77 L1049.58 259.01 L1049.89 261.91 L1050.24 263.62 L1050.58 263.84 L1049.32 264.13 L1050.65 269.50 L1050.02 269.50 L1051.34 269.50 L1049.94 269.15 L1049.63 266.63 L1051.42 268.45 L1050.87 268.70 L1051.00 269.10 L1050.98 267.29 L1050.68 267.09 L1050.91 265.82 L1051.52 265.99 L1051.23 265.47 L1051.93 264.63 L1051.75 259.46 L1051.61 258.59 L1052.56 260.04 L1052.10 257.41 L1051.83 263.40 L1052.28 261.37 L1051.89 257.24 L1052.40 256.90 L1052.30 259.59 L1052.96 257.72 L1052.44 261.84 L1053.17 259.03 L1053.32 263.48 L1053.91 259.71 L1053.23 256.96 L1052.04 264.40 L1053.30 271.36 L1052.99 273.18 L1053.02 267.86 L1053.40 272.22 L1052.59 270.54 L1054.12 272.68 L1053.40 270.65 L1054.00 274.00 L1053.40 273.76 L1054.83 275.61 L1054.04 278.23 L1053.69 278.43 L1055.12 278.12 L1054.82 278.06 L1054.60 282.43 L1055.46 284.67 L1054.89 286.77 L1055.00 291.10 L1054.73 287.00 L1054.25 288.52 L1054.77 289.07 L1054.74 287.73 L1056.50 288.90 L1056.25 291.38 L1056.02 283.29 L1055.54 278.13 L1056.00 278.48 L1056.00 278.90 L1056.67 280.49 L1055.87 279.43 L1056.22 279.43 L1056.13 282.01 L1056.62 282.87 L1055.93 284.76 L1056.99 288.77 L1056.68 291.80 L1056.72 291.36 L1056.93 298.98 L1056.12 301.71 L1057.26 298.95 L1057.03 301.35 L1057.40 306.10 L1057.47 298.31 L1057.40 295.91 L1057.42 291.77 L1058.44 284.63 L1057.35 277.88 L1058.21 282.45 L1058.73 281.95 L1058.81 277.63 L1058.09 268.40 L1058.40 264.90 L1058.03 268.65 L1058.91 269.69 L1058.77 273.39 L1059.10 277.28 L1058.58 270.57 L1059.90 265.97 L1059.05 272.16 L1058.57 275.83 L1059.86 276.78 L1059.75 271.32 L1059.49 275.50 L1060.10 277.34 L1059.67 279.78 L1059.31 281.56 L1060.20 282.16 L1060.00 284.00 L1059.35 286.05 L1059.05 287.42 L1059.45 287.76 L1059.97 281.46 L1060.21 288.06 L1061.09 289.28 L1060.85 290.34 L1061.04 289.50 L1061.05 287.21 L1060.86 284.25 L1060.27 285.58 L1061.01 290.01 L1061.62 293.47 L1061.62 291.73 L1060.76 291.73 L1061.60 293.10 L1061.75 289.25 L1062.30 283.48 L1062.32 286.16 L1062.23 287.73 L1061.26 291.02 L1061.56 287.94 L1062.54 285.99 L1062.09 283.76 L1063.71 281.49 L1063.35 277.04 L1063.00 275.74 L1063.46 275.15 L1062.66 269.89 L1063.00 268.90 L1063.19 271.60 L1063.66 274.68 L1063.99 276.38 L1062.97 279.35 L1062.73 277.65 L1062.34 281.40 L1063.56 278.60 L1064.17 282.32 L1063.78 285.01 L1064.10 287.79 L1063.05 285.23 L1064.09 281.14 L1063.55 286.79 L1065.15 287.47 L1064.44 292.75 L1064.34 284.95 L1064.76 290.50 L1065.37 286.93 L1064.56 290.36 L1065.00 293.10 L1066.08 289.38 L1064.99 287.85 L1065.25 285.68 L1065.57 287.30 L1065.26 286.75 L1065.90 288.35 L1065.87 284.49 L1064.88 285.32 L1065.74 283.98 L1066.14 282.68 L1066.19 273.52 L1066.63 268.56 L1066.54 268.38 L1066.40 276.00 L1064.94 269.64 L1066.43 275.22 L1066.97 272.82 L1067.03 270.50 L1066.71 266.76 L1066.75 265.79 L1067.50 269.77 L1067.35 265.44 L1067.34 266.19 L1067.56 267.83 L1068.08 265.21 L1067.23 261.50 L1067.75 261.50 L1067.52 263.60 L1067.79 262.83 L1068.00 261.90 L1068.51 261.70 L1067.74 262.77 L1068.25 262.03 L1069.11 263.29 L1068.31 267.52 L1068.36 268.22 L1068.96 269.63 L1069.25 272.25 L1069.56 274.53 L1069.31 275.23 L1068.57 275.77 L1068.71 272.02 L1069.33 273.99 L1069.69 273.12 L1069.48 276.99 L1069.60 276.00 L1069.17 278.34 L1070.21 280.04 L1070.13 281.23 L1070.32 282.27 L1069.92 279.07 L1070.27 275.83 L1070.90 277.25 L1070.05 280.67 L1070.95 279.67 L1069.76 283.34 L1070.44 287.18 L1069.68 289.52 L1071.49 286.10 L1071.04 290.00 L1071.25 288.96 L1071.43 291.47 L1070.91 290.88 L1071.40 291.10 L1070.55 289.98 L1072.09 286.18 L1072.41 286.55 L1071.52 287.65 L1072.01 287.91 L1072.06 287.47 L1071.66 281.83 L1071.61 280.68 L1072.09 283.38 L1072.62 279.38 L1072.54 279.65 L1072.53 280.88 L1073.38 280.46 L1072.69 279.55 L1072.17 273.61 L1073.00 274.00 L1072.67 273.03 L1073.10 272.44 L1073.61 273.23 L1073.72 267.47 L1072.58 269.36 L1073.84 268.62 L1073.58 264.23 L1073.77 266.28 L1073.24 265.65 L1074.01 266.02 L1074.05 264.11 L1074.23 264.56 L1073.91 259.51 L1074.37 259.50 L1074.61 259.50 L1074.81 261.34 L1075.17 261.22 L1075.73 260.66 L1075.10 261.95 L1075.27 262.83 L1074.98 264.14 L1074.66 259.50 L1074.44 263.71 L1075.40 259.90 L1075.01 263.77 L1075.42 263.36 L1075.43 266.84 L1074.87 269.60 L1075.33 271.37 L1075.62 274.07 L1076.00 268.60 L1077.05 272.01 L1076.33 276.83 L1075.11 270.98 L1076.12 273.29 L1076.22 271.95 L1077.56 276.27 L1076.89 277.97 L1076.35 278.46 L1077.00 285.10 L1077.32 276.93 L1076.99 283.71 L1077.19 278.77 L1078.28 275.77 L1077.95 277.02 L1077.52 275.24 L1077.14 271.87 L1077.06 269.62 L1076.49 269.61 L1078.18 265.01 L1078.17 264.18 L1078.07 269.09 L1078.79 268.20 L1078.40 270.00 L1078.63 265.07 L1078.75 265.78 L1079.22 266.18 L1078.74 272.32 L1078.74 270.13 L1078.86 270.55 L1080.12 266.93 L1078.64 265.00 L1079.23 264.14 L1079.31 262.31 L1079.93 263.36 L1080.18 264.44 L1079.61 264.14 L1080.74 262.16 L1079.92 264.01 L1080.00 262.00 L1080.55 260.55 L1079.57 259.34 L1081.03 256.98 L1080.23 258.73 L1080.85 255.03 L1079.70 256.76 L1080.44 257.56 L1081.85 252.43 L1080.79 254.17 L1080.95 255.23 L1080.79 253.11 L1081.68 252.92 L1081.30 256.98 L1081.73 253.34 L1081.27 252.42 L1082.03 255.60 L1081.94 254.51 L1081.75 253.13 L1081.59 250.34 L1082.00 249.90 L1083.14 249.49 L1082.13 252.41 L1081.75 253.58 L1082.46 252.23 L1081.97 258.88 L1083.07 264.46 L1082.45 264.57 L1082.95 264.65 L1083.18 264.45 L1083.04 265.07 L1083.31 269.15 L1083.24 273.18 L1082.68 273.71 L1083.40 274.10 L1084.13 274.49 L1083.71 269.69 L1083.14 270.54 L1083.75 267.53 L1084.12 272.81 L1083.90 272.59 L1084.18 273.46 L1084.73 272.49 L1084.08 264.12 L1084.53 264.25 L1085.60 261.02 L1084.09 257.13 L1085.17 258.44 L1085.67 257.04 L1085.79 256.88 L1085.00 256.00 L1085.31 252.43 L1085.29 251.89 L1084.37 241.30 L1085.81 250.14 L1085.18 251.24 L1085.92 250.36 L1086.24 247.08 L1085.83 241.39 L1085.57 241.69 L1085.22 234.58 L1085.62 237.72 L1086.45 238.65 L1086.88 235.99 L1086.40 240.00 L1085.51 235.15 L1086.82 232.63 L1087.04 229.50 L1085.99 231.37 L1087.14 222.76 L1087.79 225.33 L1087.63 226.73 L1087.64 228.06 L1087.32 227.61 L1086.30 223.84 L1087.43 223.14 L1087.89 222.57 L1088.33 223.54 L1087.93 225.84 L1087.61 221.01 L1088.00 222.00 L1088.68 218.56 L1088.28 217.47 L1088.43 217.25 L1087.90 223.30 L1088.02 215.78 L1088.79 216.58 L1088.81 214.63 L1088.27 208.69 L1088.62 207.63 L1088.79 211.62 L1089.60 206.66 L1089.93 204.44 L1089.77 204.44 L1089.63 204.99 L1090.02 204.44 L1089.60 204.90 L1089.76 204.82 L1089.81 207.54 L1090.39 207.09 L1090.12 209.70 L1090.35 207.51 L1089.97 208.40 L1090.09 210.37 L1089.94 211.51 L1090.91 213.04 L1089.95 211.42 L1091.63 216.26 L1091.08 217.55 L1091.39 218.85 L1091.00 219.10 L1090.92 217.44 L1091.21 217.15 L1091.48 213.30 L1091.07 211.93 L1091.97 211.00 L1091.80 209.93 L1092.27 209.09 L1092.56 204.45 L1092.28 200.44 L1092.24 200.44 L1092.41 200.44 L1093.29 200.44 L1092.77 202.53 L1092.40 200.90 L1092.95 204.30 L1092.43 205.63 L1093.26 205.68 L1093.31 204.52 L1094.43 209.73 L1093.32 212.04 L1093.19 210.23 L1093.65 212.43 L1093.41 212.62 L1093.34 213.56 L1093.28 212.17 L1093.41 213.55 L1093.31 213.55 L1093.48 213.55 L1094.54 212.54 L1094.00 213.10 L1094.73 211.16 L1094.12 208.90 L1094.13 204.07 L1093.86 206.68 L1095.34 204.23 L1094.81 202.41 L1094.54 199.41 L1093.63 199.35 L1094.67 199.20 L1095.55 196.89 L1095.10 188.30 L1095.38 185.51 L1095.26 180.45 L1095.38 181.56 L1096.31 180.42 L1095.60 180.90 L1096.28 180.82 L1095.27 180.42 L1095.48 182.55 L1096.07 191.84 L1095.34 199.77 L1095.97 200.17 L1096.90 201.42 L1095.98 204.99 L1096.44 205.10 L1096.60 196.00 L1096.25 201.27 L1096.47 196.52 L1096.40 198.31 L1096.87 195.29 L1097.33 194.19 L1097.26 195.23 L1098.48 197.60 L1097.63 197.90 L1097.61 205.80 L1098.17 205.09 L1097.26 210.95 L1097.41 209.14 L1097.40 211.81 L1098.00 217.10 L1098.50 214.18 L1097.51 210.34 L1098.33 210.53 L1098.51 208.09 L1097.38 206.07 L1098.65 205.43 L1098.54 205.26 L1099.63 203.92 L1099.14 202.56 L1098.77 204.89 L1099.25 198.67 L1099.21 201.93 L1099.19 197.94 L1099.40 196.00 L1100.01 194.42 L1099.88 196.30 L1099.39 195.10 L1099.43 189.84 L1099.57 193.95 L1100.39 195.09 L1100.24 192.58 L1101.02 193.78 L1099.94 194.52 L1100.07 193.14 L1099.97 192.03 L1101.06 191.29 L1100.33 189.43 L1100.93 189.42 L1100.96 189.42 L1101.00 189.90 L1100.61 193.82 L1101.31 189.69 L1100.94 189.36 L1101.95 189.57 L1101.62 193.99 L1101.78 199.57 L1100.99 193.28 L1101.75 199.16 L1101.44 199.57 L1101.27 199.57 L1101.63 199.57 L1102.29 199.57 L1102.24 199.57 L1102.40 199.10 L1102.25 199.57 L1102.62 199.57 L1102.76 199.57 L1102.32 199.57 L1103.58 198.93 L1102.75 194.34 L1102.24 188.90 L1103.20 187.00 L1103.13 182.89 L1103.55 175.42 L1102.97 164.58 L1103.60 167.00 L1103.58 166.01 L1102.95 159.13 L1104.20 171.51 L1103.25 173.62 L1103.80 177.22 L1103.40 163.59 L1104.13 157.60 L1104.40 159.00 L1104.42 154.81 L1105.40 145.49 L1104.79 147.37 L1104.84 153.43 L1105.33 144.82 L1105.28 150.92 L1104.60 145.55 L1104.35 151.09 L1105.74 152.54 L1106.20 147.17 L1105.61 142.39 L1105.60 145.00 L1106.00 137.70 L1105.48 143.47 L1105.77 138.27 L1106.29 138.49 L1106.25 145.86 L1106.08 135.21 L1105.07 126.56 L1106.59 127.18 L1107.24 130.40 L1106.60 131.00 L1106.95 125.30 L1106.10 120.44 L1107.58 124.85 L1107.55 121.39 L1106.67 119.57 L1107.22 124.55 L1106.71 118.93 L1107.22 120.04 L1107.35 119.88 L1107.60 125.00 L1107.81 122.74 L1107.32 113.47 L1107.86 111.32 L1108.00 108.90 L1107.00 110.55 L1109.28 112.88 L1108.20 115.61 L1109.34 119.20 L1108.91 128.86 L1108.78 129.03 L1108.12 131.77 L1108.42 129.88 L1109.25 131.10 L1109.00 135.00 L1108.44 134.32 L1109.36 132.90 L1109.98 133.24 L1109.02 131.88 L1108.84 143.63 L1109.36 143.63 L1109.42 143.63 L1110.02 143.63 L1109.34 143.63 L1110.00 143.10 L1109.89 143.63 L1110.72 143.63 L1110.33 143.63 L1111.24 143.63 L1110.43 138.27 L1109.21 136.37 L1111.39 134.54 L1111.23 137.52 L1110.94 136.16 L1111.00 133.00 L1111.70 131.34 L1111.47 122.76 L1111.81 130.65 L1111.08 130.74 L1111.72 127.10 L1111.78 125.93 L1112.86 118.69 L1111.96 115.92 L1112.59 117.46 L1112.00 119.00 L1112.50 119.25 L1112.80 119.72 L1112.86 113.98 L1112.58 116.14 L1111.88 122.83 L1112.44 122.60 L1112.55 122.17 L1112.94 117.71 L1112.78 112.96 L1113.00 112.90 L1112.98 112.58 L1113.14 114.60 L1113.27 116.93 L1113.43 119.11 L1111.81 114.60 L1113.83 123.67 L1113.85 121.79 L1113.70 129.64 L1114.36 128.20 L1114.00 129.10 L1114.59 127.27 L1113.24 129.64 L1114.49 125.26 L1113.85 125.55 L1114.10 123.14 L1114.76 120.74 L1114.81 115.81 L1114.72 114.58 L1114.40 109.73 L1115.00 115.00 L1114.88 109.44 L1114.84 109.44 L1114.60 109.44 L1115.09 109.98 L1115.21 109.44 L1115.49 109.44 L1115.08 109.44 L1116.57 109.44 L1116.33 113.52 L1116.00 110.00" fill="none" stroke="#000" stroke-width="2.6" stroke-linejoin="round" stroke-linecap="round"/>
<g stroke="#e8413f" stroke-width="1" fill="none" stroke-opacity="0.95">
<line x1="1101.3" y1="87.4" x2="263" y2="84.6"/>
<path d="M276 77.9 L263 84.6 L276 91.6"/>
</g>
<line x1="1139.8" y1="51.4" x2="1139.8" y2="594" stroke="#000" stroke-width="1.8"/>
<path d="M1140.5 70.7 L1147.4 73.5 L1140.5 76.3 Z" fill="#000"/><path d="M1140.5 164.7 L1147.4 167.5 L1140.5 170.3 Z" fill="#000"/><path d="M1140.5 258.7 L1147.4 261.5 L1140.5 264.3 Z" fill="#000"/><path d="M1140.5 352.7 L1147.4 355.5 L1140.5 358.3 Z" fill="#000"/><path d="M1140.5 446.7 L1147.4 449.5 L1140.5 452.3 Z" fill="#000"/><path d="M1140.5 540.7 L1147.4 543.5 L1140.5 546.3 Z" fill="#000"/><line x1="1140" y1="120.5" x2="1144" y2="120.5" stroke="#000" stroke-width="1.2"/><line x1="1140" y1="214.5" x2="1144" y2="214.5" stroke="#000" stroke-width="1.2"/><line x1="1140" y1="308.5" x2="1144" y2="308.5" stroke="#000" stroke-width="1.2"/><line x1="1140" y1="402.5" x2="1144" y2="402.5" stroke="#000" stroke-width="1.2"/><line x1="1140" y1="496.5" x2="1144" y2="496.5" stroke="#000" stroke-width="1.2"/><line x1="1140" y1="590.5" x2="1144" y2="590.5" stroke="#000" stroke-width="1.2"/>
<g class="ylab"><text x="1148.6" y="81.4">3000</text><text x="1148.6" y="175.4">2500</text><text x="1148.6" y="269.4">2000</text><text x="1148.6" y="363.4">1500</text><text x="1148.6" y="457.4">1000</text><text x="1148.6" y="551.4">500</text></g>
<g class="xlab"><text x="54.2" y="641.6">1980-1984</text><text x="178.6" y="641.6">1985-1989</text><text x="305.8" y="641.6">1990-1994</text><text x="433.0" y="641.6">1995-1999</text><text x="559.2" y="641.6">2000-2004</text><text x="686.2" y="641.6">2005-2009</text><text x="812.7" y="641.6">2010-2014</text><text x="938.2" y="641.6">2015-2019</text><text x="1065.5" y="641.6">2020-2024</text></g>
<text class="src" x="4.8" y="667.7">Source: Bloomberg</text>
<text class="logo" transform="translate(1047.6 666.3) scale(0.972 1)">Bloomberg</text>
<g>
<path d="M1181.2 649.3 h12 a2.5 2.5 0 0 1 2.5 2.5 v12.6 a2.5 2.5 0 0 1 -2.5 2.5 h-3.4 l-2.6 3 l-2.6 -3 h-3.4 a2.5 2.5 0 0 1 -2.5 -2.5 v-12.6 a2.5 2.5 0 0 1 2.5 -2.5 z" fill="#000"/>
<rect x="1181.2" y="659.2" width="1.5" height="3.6" fill="#fff"/>
<rect x="1184.8" y="656.1" width="1.5" height="6.7" fill="#fff"/>
<rect x="1188.2" y="653.8" width="1.5" height="9" fill="#fff"/>
<rect x="1191.7" y="658.9" width="1.5" height="3.9" fill="#fff"/>
</g>
</svg>
</body></html>
